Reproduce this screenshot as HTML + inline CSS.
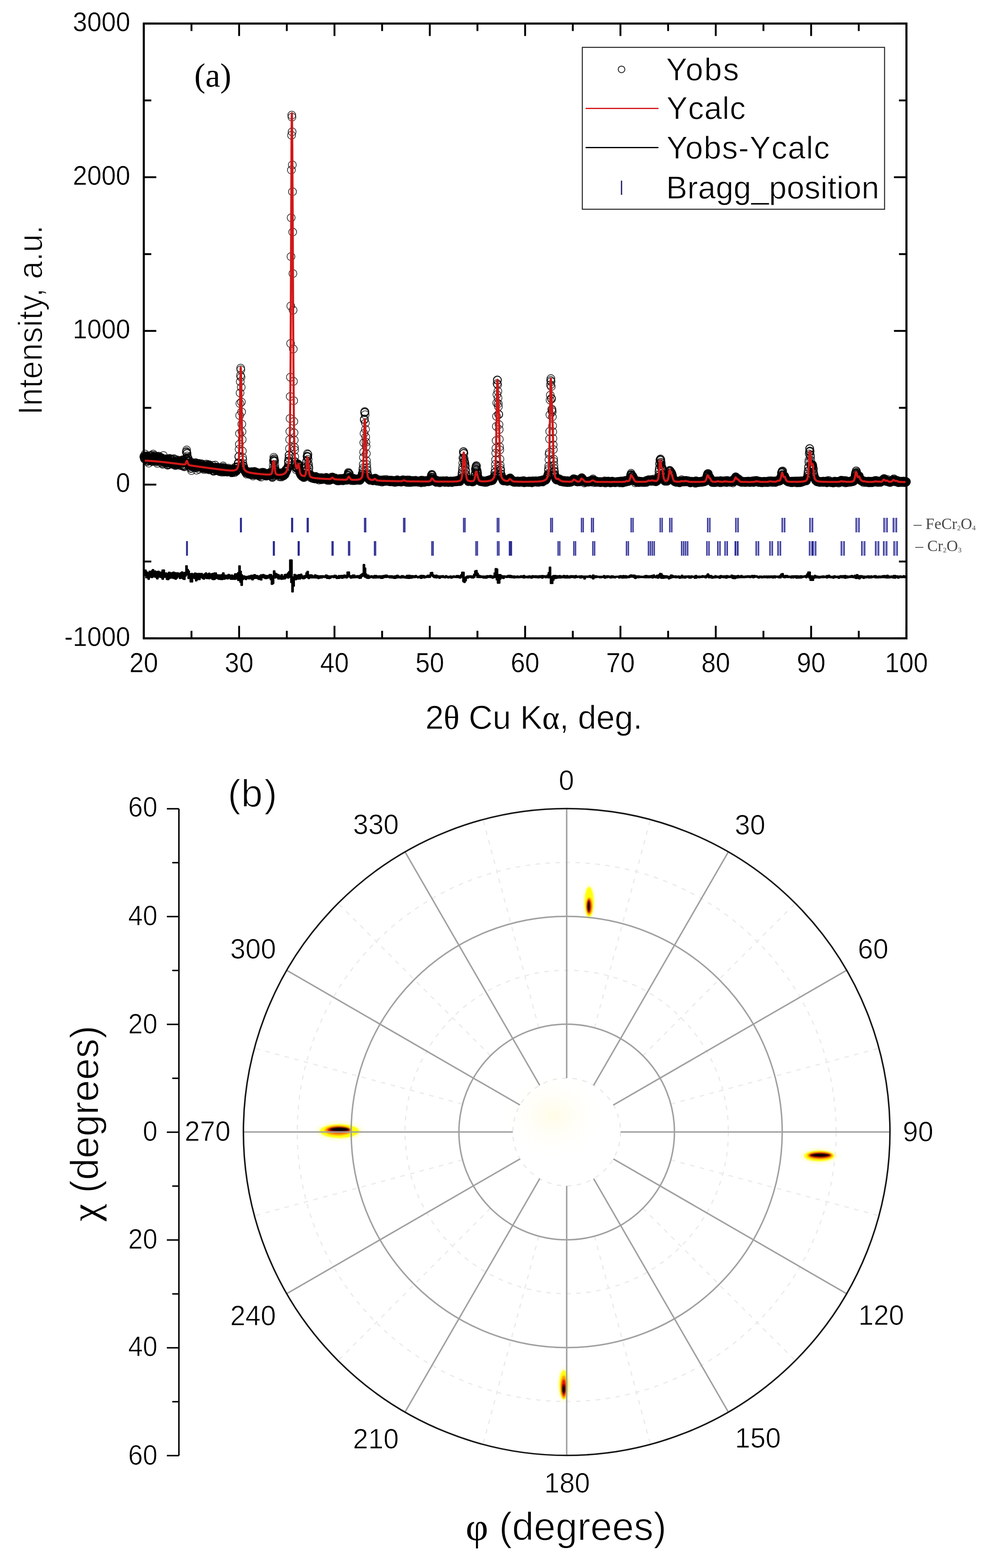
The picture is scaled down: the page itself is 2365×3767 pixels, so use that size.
<!DOCTYPE html>
<html><head><meta charset="utf-8"><title>XRD and pole figure</title>
<style>
html,body{margin:0;padding:0;background:#fff;}
svg{display:block;}
text{font-family:"Liberation Sans",Arial,sans-serif;fill:#000;}
.serif{font-family:"Liberation Serif","Times New Roman",serif;stroke:none;}
.dc{fill:none;stroke:#ebebeb;stroke-width:3;stroke-dasharray:11 13;}
.dl{fill:none;stroke:#ebebeb;stroke-width:3;stroke-dasharray:11 13;}
.sl{fill:none;stroke:#a0a0a0;stroke-width:3.5;}
.sc{fill:none;stroke:#a0a0a0;stroke-width:3.5;}
.e05{stroke:#fff;stroke-width:0.6px;}
.e1{stroke:#fff;stroke-width:1.0px;}
.e15{stroke:#fff;stroke-width:1.6px;}
.e2{stroke:#fff;stroke-width:2px;}
.e25{stroke:#fff;stroke-width:2.6px;}
</style></head>
<body>
<svg width="2365" height="3767" viewBox="0 0 2365 3767">
<defs>
<marker id="mc" viewBox="-12 -12 24 24" markerWidth="24" markerHeight="24" markerUnits="userSpaceOnUse" refX="0" refY="0">
<circle r="9.5" fill="none" stroke="#000" stroke-opacity="0.8" stroke-width="1.8"/>
</marker>
<filter id="bl" x="-50%" y="-50%" width="200%" height="200%"><feGaussianBlur stdDeviation="1.4"/></filter>
<radialGradient id="cen">
<stop offset="0" stop-color="#fffbe0" stop-opacity="0.8"/>
<stop offset="1" stop-color="#ffffff" stop-opacity="0"/>
</radialGradient>
</defs>

<!-- ================= Panel (a) ================= -->
<g id="panelA">
<!-- Bragg ticks -->
<g fill="#a4a4d8"><rect x="576.2" y="1244" width="5.7" height="35"/><rect x="699.1" y="1244" width="6.1" height="35"/><rect x="736.5" y="1244" width="6.2" height="35"/><rect x="874.3" y="1244" width="6.6" height="35"/><rect x="968.2" y="1244" width="6.8" height="35"/><rect x="1112.3" y="1244" width="7.3" height="35"/><rect x="1193.3" y="1244" width="7.5" height="35"/><rect x="1321.7" y="1244" width="7.9" height="35"/><rect x="1395.6" y="1244" width="8.2" height="35"/><rect x="1419.8" y="1244" width="8.3" height="35"/><rect x="1514.9" y="1244" width="8.6" height="35"/><rect x="1584.7" y="1244" width="8.9" height="35"/><rect x="1607.7" y="1244" width="9" height="35"/><rect x="1698.8" y="1244" width="9.4" height="35"/><rect x="1766.4" y="1244" width="9.6" height="35"/><rect x="1877.9" y="1244" width="10.1" height="35"/><rect x="1944.5" y="1244" width="10.5" height="35"/><rect x="2055.7" y="1244" width="11" height="35"/><rect x="2122.7" y="1244" width="11.4" height="35"/><rect x="2145.1" y="1244" width="11.5" height="35"/><rect x="446.7" y="1300" width="5.4" height="35"/><rect x="655.2" y="1300" width="6" height="35"/><rect x="714.8" y="1300" width="6.1" height="35"/><rect x="796.2" y="1300" width="6.3" height="35"/><rect x="835.8" y="1300" width="6.5" height="35"/><rect x="898.1" y="1300" width="6.6" height="35"/><rect x="1036" y="1300" width="7" height="35"/><rect x="1142" y="1300" width="7.4" height="35"/><rect x="1193.7" y="1300" width="7.5" height="35"/><rect x="1222.4" y="1300" width="7.6" height="35"/><rect x="1223.6" y="1300" width="7.6" height="35"/><rect x="1339.4" y="1300" width="8" height="35"/><rect x="1377.2" y="1300" width="8.1" height="35"/><rect x="1422.9" y="1300" width="8.3" height="35"/><rect x="1503.7" y="1300" width="8.6" height="35"/><rect x="1556.5" y="1300" width="8.8" height="35"/><rect x="1565.7" y="1300" width="8.8" height="35"/><rect x="1636.2" y="1300" width="9.1" height="35"/><rect x="1645.7" y="1300" width="9.1" height="35"/><rect x="1696.9" y="1300" width="9.3" height="35"/><rect x="1723.1" y="1300" width="9.5" height="35"/><rect x="1740.5" y="1300" width="9.5" height="35"/><rect x="1765" y="1300" width="9.6" height="35"/><rect x="1766" y="1300" width="9.6" height="35"/><rect x="1815.3" y="1300" width="9.9" height="35"/><rect x="1848.4" y="1300" width="10" height="35"/><rect x="1867.8" y="1300" width="10.1" height="35"/><rect x="1943.6" y="1300" width="10.5" height="35"/><rect x="1952" y="1300" width="10.5" height="35"/><rect x="2020" y="1300" width="10.9" height="35"/><rect x="2069.2" y="1300" width="11.1" height="35"/><rect x="2102.4" y="1300" width="11.3" height="35"/><rect x="2121.8" y="1300" width="11.4" height="35"/><rect x="2146.8" y="1300" width="11.6" height="35"/></g>
<path d="M578.2 1244v35M579.9 1244v35M701.1 1244v35M703.1 1244v35M738.5 1244v35M740.7 1244v35M876.3 1244v35M878.9 1244v35M970.2 1244v35M973 1244v35M1114.3 1244v35M1117.6 1244v35M1195.3 1244v35M1198.8 1244v35M1323.7 1244v35M1327.6 1244v35M1397.6 1244v35M1401.8 1244v35M1421.8 1244v35M1426.1 1244v35M1516.9 1244v35M1521.6 1244v35M1586.7 1244v35M1591.6 1244v35M1609.7 1244v35M1614.7 1244v35M1700.8 1244v35M1706.2 1244v35M1768.4 1244v35M1774 1244v35M1879.9 1244v35M1886 1244v35M1946.5 1244v35M1953 1244v35M2057.7 1244v35M2064.7 1244v35M2124.7 1244v35M2132.1 1244v35M2147.1 1244v35M2154.6 1244v35M448.7 1300v35M450.1 1300v35M657.2 1300v35M659.2 1300v35M716.8 1300v35M718.9 1300v35M798.2 1300v35M800.5 1300v35M837.8 1300v35M840.3 1300v35M900.1 1300v35M902.7 1300v35M1038 1300v35M1041 1300v35M1144 1300v35M1147.4 1300v35M1195.7 1300v35M1199.2 1300v35M1224.4 1300v35M1228 1300v35M1225.6 1300v35M1229.2 1300v35M1341.4 1300v35M1345.4 1300v35M1379.2 1300v35M1383.3 1300v35M1424.9 1300v35M1429.2 1300v35M1505.7 1300v35M1510.3 1300v35M1558.5 1300v35M1563.3 1300v35M1567.7 1300v35M1572.5 1300v35M1638.2 1300v35M1643.3 1300v35M1647.7 1300v35M1652.9 1300v35M1698.9 1300v35M1704.2 1300v35M1725.1 1300v35M1730.6 1300v35M1742.5 1300v35M1748 1300v35M1767 1300v35M1772.7 1300v35M1768 1300v35M1773.6 1300v35M1817.3 1300v35M1823.2 1300v35M1850.4 1300v35M1856.4 1300v35M1869.8 1300v35M1875.9 1300v35M1945.6 1300v35M1952 1300v35M1954 1300v35M1960.5 1300v35M2022 1300v35M2028.8 1300v35M2071.2 1300v35M2078.3 1300v35M2104.4 1300v35M2111.7 1300v35M2123.8 1300v35M2131.2 1300v35M2148.8 1300v35M2156.3 1300v35" fill="none" stroke="#22228a" stroke-width="2.1"/>
<!-- observed -->
<polyline points="345.6,1097.4 346.1,1095.9 346.5,1099 347,1102.3 347.4,1100.1 347.9,1103 348.3,1097.5 348.8,1090.8 349.3,1100.6 349.7,1101.3 350.2,1095.5 350.6,1096.3 351.1,1097.7 351.6,1103.3 352,1098.6 352.5,1094.8 352.9,1105.7 353.4,1101.1 353.8,1108.7 354.3,1105.6 354.8,1108.6 355.2,1100.2 355.7,1105.7 356.1,1097.7 356.6,1098.4 357.1,1100.3 357.5,1112.6 358,1102.3 358.4,1099.8 358.9,1099 359.3,1107.7 359.8,1102.2 360.3,1104.9 360.7,1104.1 361.2,1094.4 361.6,1104.3 362.1,1100.3 362.6,1095.6 363,1103.3 363.5,1101 363.9,1099.9 364.4,1100.2 364.8,1107 365.3,1100.3 365.8,1093.7 366.2,1108.9 366.7,1096.5 367.1,1100.4 367.6,1104.4 368.1,1090.8 368.5,1097.3 369,1107.5 369.4,1101 369.9,1098.5 370.3,1102.5 370.8,1098.1 371.3,1102.1 371.7,1098.4 372.2,1094.5 372.6,1105.5 373.1,1101 373.6,1104.5 374,1101.6 374.5,1108.4 374.9,1105.3 375.4,1103.5 375.8,1097.9 376.3,1096.7 376.8,1109.5 377.2,1106.8 377.7,1099.5 378.1,1113.1 378.6,1105.4 379.1,1103.6 379.5,1096.8 380,1099.7 380.4,1105 380.9,1105.3 381.3,1104.8 381.8,1095.8 382.3,1105.8 382.7,1105.3 383.2,1102 383.6,1104.5 384.1,1105 384.6,1109.7 385,1104.2 385.5,1106.5 385.9,1098.4 386.4,1101.1 386.8,1104.6 387.3,1101.2 387.8,1106.3 388.2,1099.4 388.7,1104.8 389.1,1101.9 389.6,1111.4 390.1,1103.3 390.5,1113.6 391,1115.4 391.4,1106.8 391.9,1109.8 392.3,1104.6 392.8,1094.3 393.3,1109.7 393.7,1108.8 394.2,1104.7 394.6,1103.4 395.1,1106.8 395.5,1107 396,1102.6 396.5,1103.6 396.9,1111.3 397.4,1106.7 397.8,1106.2 398.3,1111.7 398.8,1105.3 399.2,1110.8 399.7,1101.9 400.1,1105.8 400.6,1106.4 401,1109.8 401.5,1107.6 402,1116.9 402.4,1112.7 402.9,1105.5 403.3,1117.7 403.8,1103.3 404.3,1116 404.7,1103.9 405.2,1111.8 405.6,1103.9 406.1,1107.2 406.5,1115.3 407,1101.9 407.5,1101.1 407.9,1108.4 408.4,1109.5 408.8,1109.1 409.3,1113.1 409.8,1103.1 410.2,1111.1 410.7,1108.8 411.1,1112.5 411.6,1111.8 412,1115 412.5,1102.9 413,1109.7 413.4,1104.4 413.9,1109.1 414.3,1112.5 414.8,1110.8 415.3,1112 415.7,1109.4 416.2,1111.3 416.6,1111 417.1,1116.2 417.5,1113.6 418,1102 418.5,1113.1 418.9,1115 419.4,1108.5 419.8,1103.5 420.3,1117.1 420.8,1111.3 421.2,1113.3 421.7,1118.7 422.1,1107.1 422.6,1110.7 423,1110.3 423.5,1114.3 424,1108.7 424.4,1113.4 424.9,1111.6 425.3,1116.2 425.8,1116.8 426.3,1105 426.7,1113.6 427.2,1110 427.6,1111.6 428.1,1113.5 428.5,1113.9 429,1108.7 429.5,1113.1 429.9,1112.4 430.4,1111.7 430.8,1106.5 431.3,1108.8 431.8,1110.3 432.2,1114.7 432.7,1118.5 433.1,1107.9 433.6,1107.9 434,1113 434.5,1109.9 435,1108.9 435.4,1108.7 435.9,1108.4 436.3,1114.7 436.8,1105.8 437.2,1118.3 437.7,1108.8 438.2,1110.5 438.6,1108.8 439.1,1104.3 439.5,1106.1 440,1118 440.5,1120.4 440.9,1109.1 441.4,1117.3 441.8,1112.7 442.3,1108.8 442.7,1119.8 443.2,1121.7 443.7,1110.7 444.1,1111.2 444.6,1111.7 445,1109.2 445.5,1111.5 446,1112 446.4,1102.5 446.9,1102.2 447.3,1100.7 447.8,1086 448.2,1085 448.7,1081 449.2,1088.5 449.6,1089.9 450.1,1095.7 450.5,1099.7 451,1099.1 451.5,1107.4 451.9,1105.3 452.4,1107.8 452.8,1102 453.3,1118.4 453.7,1109.2 454.2,1114.1 454.7,1114.2 455.1,1120.8 455.6,1116.8 456,1111.9 456.5,1115.6 457,1115.1 457.4,1116.9 457.9,1110.8 458.3,1116 458.8,1125.5 459.2,1119.2 459.7,1124.8 460.2,1130.3 460.6,1118.8 461.1,1111 461.5,1116.6 462,1121.9 462.5,1121 462.9,1112.3 463.4,1116.5 463.8,1117.1 464.3,1117.6 464.7,1117.3 465.2,1114.1 465.7,1115.3 466.1,1116.8 466.6,1122.2 467,1115.7 467.5,1120.8 468,1113.5 468.4,1123.4 468.9,1118.8 469.3,1118.3 469.8,1123.9 470.2,1111.3 470.7,1112.5 471.2,1120.5 471.6,1115.5 472.1,1117.2 472.5,1129.6 473,1117.9 473.5,1119.2 473.9,1118.7 474.4,1123.6 474.8,1120.3 475.3,1120 475.7,1114.5 476.2,1118.1 476.7,1119.5 477.1,1113.4 477.6,1121.9 478,1121.3 478.5,1127.2 479,1113.5 479.4,1116.1 479.9,1116.3 480.3,1117.4 480.8,1119.7 481.2,1119.4 481.7,1121.3 482.2,1121.2 482.6,1120.3 483.1,1114.5 483.5,1118.4 484,1120.9 484.4,1123.1 484.9,1123.4 485.4,1114.5 485.8,1119 486.3,1120.8 486.7,1122.5 487.2,1125.6 487.7,1121.5 488.1,1117.9 488.6,1123 489,1122.4 489.5,1122.4 489.9,1121.2 490.4,1127.9 490.9,1122.7 491.3,1125.2 491.8,1118.4 492.2,1125 492.7,1119.8 493.2,1116.2 493.6,1123.4 494.1,1124.6 494.5,1121.6 495,1122.4 495.4,1126.3 495.9,1120.8 496.4,1114.8 496.8,1123.7 497.3,1123.5 497.7,1126.8 498.2,1121.7 498.7,1127.7 499.1,1127.3 499.6,1118.2 500,1126.6 500.5,1119.1 500.9,1117.5 501.4,1122.4 501.9,1121.3 502.3,1116.1 502.8,1124.3 503.2,1125.9 503.7,1128.8 504.2,1123.6 504.6,1118.3 505.1,1120.3 505.5,1127.5 506,1127.2 506.4,1126 506.9,1123.1 507.4,1125 507.8,1123.5 508.3,1123.3 508.7,1125.6 509.2,1124.7 509.7,1123.8 510.1,1125 510.6,1122.8 511,1117.9 511.5,1122.7 511.9,1124.7 512.4,1131.2 512.9,1123.6 513.3,1132.2 513.8,1130.3 514.2,1122.1 514.7,1122.7 515.2,1125.9 515.6,1131.7 516.1,1126.8 516.5,1128 517,1123.3 517.4,1117.5 517.9,1125 518.4,1128.6 518.8,1130.1 519.3,1126.1 519.7,1126.6 520.2,1130.2 520.7,1125.7 521.1,1130.3 521.6,1122.3 522,1122.5 522.5,1122.5 522.9,1128.1 523.4,1124.7 523.9,1127 524.3,1128 524.8,1127.9 525.2,1131.4 525.7,1131.9 526.2,1124.1 526.6,1127.6 527.1,1126.2 527.5,1123.5 528,1133.2 528.4,1129.9 528.9,1126.6 529.4,1125.9 529.8,1128.7 530.3,1123.8 530.7,1126.7 531.2,1131.8 531.6,1130.8 532.1,1124.9 532.6,1126.1 533,1134.4 533.5,1123.2 533.9,1125.8 534.4,1123.3 534.9,1129.3 535.3,1129.1 535.8,1132 536.2,1119.5 536.7,1128.8 537.1,1122.8 537.6,1130.6 538.1,1127.8 538.5,1134.1 539,1129.8 539.4,1125.2 539.9,1132.9 540.4,1125 540.8,1127.6 541.3,1132.3 541.7,1130.5 542.2,1130.4 542.6,1129.1 543.1,1130.8 543.6,1131.8 544,1130.1 544.5,1132.6 544.9,1133.5 545.4,1129.4 545.9,1126.3 546.3,1134.4 546.8,1129.3 547.2,1131.6 547.7,1132.7 548.1,1126.6 548.6,1131.2 549.1,1124.6 549.5,1132.2 550,1128.3 550.4,1130.4 550.9,1132.2 551.4,1127.8 551.8,1130.3 552.3,1127.8 552.7,1130 553.2,1133.4 553.6,1130.2 554.1,1129.7 554.6,1126.8 555,1132.9 555.5,1130.1 555.9,1135.6 556.4,1127.8 556.9,1133.5 557.3,1135.9 557.8,1130.2 558.2,1126.4 558.7,1134.9 559.1,1133.5 559.6,1132.4 560.1,1133.6 560.5,1128.6 561,1132.5 561.4,1132.1 561.9,1127.8 562.4,1132.1 562.8,1128.2 563.3,1132.7 563.7,1133.3 564.2,1135.3 564.6,1123 565.1,1130 565.6,1128 566,1128.7 566.5,1127.8 566.9,1127.9 567.4,1121.4 567.9,1130.9 568.3,1132.2 568.8,1129.9 569.2,1130.4 569.7,1122.7 570.1,1121.6 570.6,1126.9 571.1,1127.3 571.5,1122.2 572,1114.1 572.4,1127.1 572.9,1111.3 573.4,1112.7 573.8,1097.2 574.3,1096.5 574.7,1079.4 575.2,1067.5 575.6,1041.5 576.1,998.2 576.6,969.3 577,944 577.5,916.8 577.9,902.1 578.4,884.4 578.8,888.4 579.3,906 579.8,930.3 580.2,965.8 580.7,989.6 581.1,1018.9 581.6,1036.8 582.1,1055.8 582.5,1083.5 583,1098.8 583.4,1104.7 583.9,1113.4 584.3,1118.4 584.8,1119.1 585.3,1125 585.7,1121 586.2,1124.9 586.6,1124.9 587.1,1127.4 587.6,1130 588,1131.4 588.5,1129.8 588.9,1131.3 589.4,1129.4 589.8,1130.6 590.3,1135.2 590.8,1131.1 591.2,1135.8 591.7,1133.9 592.1,1133.2 592.6,1138.8 593.1,1132.5 593.5,1132.5 594,1133.7 594.4,1134.7 594.9,1134.7 595.3,1136.7 595.8,1134.7 596.3,1135.7 596.7,1134 597.2,1137.9 597.6,1133.8 598.1,1134.2 598.6,1135.2 599,1136.1 599.5,1133.4 599.9,1139.9 600.4,1133.9 600.8,1134.6 601.3,1134.6 601.8,1134.4 602.2,1137.4 602.7,1136.4 603.1,1134 603.6,1134.6 604.1,1135.3 604.5,1140.3 605,1134.6 605.4,1132.9 605.9,1133.4 606.3,1135.7 606.8,1140.7 607.3,1133.8 607.7,1136.9 608.2,1143.6 608.6,1135.6 609.1,1140.9 609.6,1140.4 610,1138.6 610.5,1133.4 610.9,1138 611.4,1136.3 611.8,1132.3 612.3,1132.8 612.8,1137.5 613.2,1138 613.7,1140.8 614.1,1139.3 614.6,1136.3 615.1,1136.5 615.5,1137.3 616,1135 616.4,1139.8 616.9,1137.9 617.3,1135.8 617.8,1136.3 618.3,1135 618.7,1136.9 619.2,1138.9 619.6,1137.1 620.1,1140.8 620.5,1142.6 621,1136.7 621.5,1138.4 621.9,1137.5 622.4,1142.9 622.8,1139.4 623.3,1140.1 623.8,1140.8 624.2,1144.5 624.7,1139.5 625.1,1136.3 625.6,1137.7 626,1140.3 626.5,1138.8 627,1136.9 627.4,1146.1 627.9,1139.3 628.3,1137.6 628.8,1137.2 629.3,1134.6 629.7,1136.2 630.2,1138.3 630.6,1138.4 631.1,1137.2 631.5,1140.7 632,1139.4 632.5,1137 632.9,1134.4 633.4,1139.8 633.8,1139.6 634.3,1139 634.8,1136.1 635.2,1139.7 635.7,1135.9 636.1,1142.1 636.6,1140.2 637,1140.2 637.5,1137.8 638,1137.1 638.4,1143.6 638.9,1142.2 639.3,1139 639.8,1141.6 640.3,1143.8 640.7,1137.3 641.2,1138.7 641.6,1138.8 642.1,1141.2 642.5,1137.5 643,1140.7 643.5,1137.3 643.9,1142.4 644.4,1142.3 644.8,1139.6 645.3,1141.9 645.8,1138.5 646.2,1139.5 646.7,1142.5 647.1,1140 647.6,1141.1 648,1137.9 648.5,1141.8 649,1141.3 649.4,1137.1 649.9,1134.5 650.3,1135.2 650.8,1140.1 651.3,1139.9 651.7,1136.8 652.2,1141.4 652.6,1144.1 653.1,1141.9 653.5,1141.5 654,1145.3 654.5,1147.4 654.9,1145.6 655.4,1135.9 655.8,1135.4 656.3,1126.1 656.8,1116.8 657.2,1107.6 657.7,1105.3 658.1,1098.6 658.6,1102.7 659,1102.3 659.5,1108.5 660,1106.6 660.4,1116.3 660.9,1123.9 661.3,1127.4 661.8,1130.8 662.3,1131.2 662.7,1139.4 663.2,1139.4 663.6,1138.7 664.1,1132.1 664.5,1136.6 665,1139.6 665.5,1137.8 665.9,1134.7 666.4,1140.5 666.8,1141 667.3,1137.3 667.7,1139.1 668.2,1138.8 668.7,1141.7 669.1,1135.8 669.6,1136.4 670,1139.2 670.5,1138.9 671,1145.5 671.4,1139.1 671.9,1141.1 672.3,1139.5 672.8,1138.9 673.2,1141.4 673.7,1144.6 674.2,1139.6 674.6,1142.2 675.1,1141.2 675.5,1141.8 676,1141.1 676.5,1145.8 676.9,1137.1 677.4,1139.4 677.8,1137.2 678.3,1134.9 678.7,1139.6 679.2,1143.9 679.7,1141.6 680.1,1142.2 680.6,1140.3 681,1138.6 681.5,1143.6 682,1137.5 682.4,1141.9 682.9,1137.1 683.3,1137.9 683.8,1138.1 684.2,1137.1 684.7,1137.9 685.2,1137.7 685.6,1140.1 686.1,1135.3 686.5,1129.8 687,1128.7 687.5,1129.8 687.9,1130.7 688.4,1133.7 688.8,1126.9 689.3,1130.1 689.7,1129 690.2,1128.4 690.7,1125.8 691.1,1125.8 691.6,1122.8 692,1123.9 692.5,1119.2 693,1107.4 693.4,1111.9 693.9,1108.5 694.3,1100.6 694.8,1093.5 695.2,1092.5 695.7,1077.4 696.2,1056.2 696.6,1036.5 697.1,1005.3 697.5,952.6 698,906.1 698.5,825.1 698.9,735.2 699.4,616.3 699.8,523.1 700.3,408.5 700.7,324.9 701.2,276.6 701.7,281.4 702.1,316.7 702.6,396.2 703,460.7 703.5,557.5 704,657.2 704.4,745.1 704.9,838.5 705.3,916.1 705.8,962.7 706.2,1012.5 706.7,1039.5 707.2,1057.4 707.6,1074.5 708.1,1081.2 708.5,1097.4 709,1108.9 709.5,1110.9 709.9,1115.4 710.4,1119.6 710.8,1116.9 711.3,1122.6 711.7,1128.5 712.2,1121.7 712.7,1125.2 713.1,1124.4 713.6,1125.2 714,1123 714.5,1123.7 714.9,1118.3 715.4,1118.7 715.9,1116.5 716.3,1114.5 716.8,1119.6 717.2,1115.3 717.7,1116.7 718.2,1116.9 718.6,1124.2 719.1,1117.5 719.5,1125.1 720,1131.8 720.4,1135.8 720.9,1134.3 721.4,1135.8 721.8,1138.9 722.3,1138.1 722.7,1140.9 723.2,1138.8 723.7,1142.3 724.1,1141.2 724.6,1139.2 725,1136 725.5,1144.3 725.9,1143.3 726.4,1144.3 726.9,1140.9 727.3,1145.3 727.8,1144 728.2,1143.1 728.7,1145.2 729.2,1145.2 729.6,1144.2 730.1,1147.7 730.5,1146.3 731,1144 731.4,1142.6 731.9,1143.2 732.4,1146.4 732.8,1143.2 733.3,1139.8 733.7,1139.5 734.2,1139.7 734.7,1139.8 735.1,1133.5 735.6,1133 736,1130.1 736.5,1123.4 736.9,1109.7 737.4,1106.5 737.9,1096.5 738.3,1097.5 738.8,1090 739.2,1096.4 739.7,1097.5 740.2,1092 740.6,1103.3 741.1,1113.3 741.5,1117.9 742,1122.5 742.4,1125.2 742.9,1134.2 743.4,1140.6 743.8,1139.6 744.3,1140.9 744.7,1142.2 745.2,1140.7 745.7,1143.6 746.1,1143.1 746.6,1147.5 747,1143.9 747.5,1141.7 747.9,1144.7 748.4,1145.9 748.9,1146.3 749.3,1143.3 749.8,1148.8 750.2,1147.3 750.7,1146.4 751.2,1145.9 751.6,1148.3 752.1,1147 752.5,1148.2 753,1147.6 753.4,1148.1 753.9,1150.1 754.4,1148.1 754.8,1146.5 755.3,1150 755.7,1148.7 756.2,1147.1 756.7,1150.4 757.1,1148.1 757.6,1150.5 758,1146.5 758.5,1144.4 758.9,1144.9 759.4,1149.1 759.9,1147.4 760.3,1148.6 760.8,1148.7 761.2,1146.1 761.7,1151.4 762.1,1147.1 762.6,1149.2 763.1,1146.6 763.5,1148.8 764,1150.4 764.4,1148.7 764.9,1148 765.4,1149.3 765.8,1148.5 766.3,1150.3 766.7,1153.3 767.2,1147.9 767.6,1148.3 768.1,1149.3 768.6,1149.5 769,1147.8 769.5,1150.5 769.9,1150.9 770.4,1150.1 770.9,1147.6 771.3,1152.2 771.8,1147.7 772.2,1151 772.7,1151.8 773.1,1147.7 773.6,1150.1 774.1,1152.3 774.5,1150.6 775,1148.4 775.4,1148 775.9,1150.8 776.4,1149.4 776.8,1148.9 777.3,1151.3 777.7,1149.6 778.2,1150.3 778.6,1151.2 779.1,1151.2 779.6,1150.2 780,1150.3 780.5,1151.4 780.9,1151.1 781.4,1148.5 781.9,1150.1 782.3,1149 782.8,1148.4 783.2,1149.5 783.7,1146.7 784.1,1152 784.6,1149.2 785.1,1151.2 785.5,1147.5 786,1147.8 786.4,1154 786.9,1152.4 787.4,1149.6 787.8,1149.4 788.3,1149.5 788.7,1150.9 789.2,1150 789.6,1149.7 790.1,1151 790.6,1149.1 791,1154.7 791.5,1149.8 791.9,1152.6 792.4,1149.2 792.9,1151.2 793.3,1152.3 793.8,1150.1 794.2,1152.1 794.7,1152 795.1,1152.9 795.6,1149.9 796.1,1148.6 796.5,1147.2 797,1148.8 797.4,1146.2 797.9,1147.8 798.4,1147.8 798.8,1146.6 799.3,1145.8 799.7,1148.7 800.2,1148.8 800.6,1149 801.1,1149 801.6,1151.1 802,1148.2 802.5,1151 802.9,1149.8 803.4,1152.2 803.8,1150.4 804.3,1150.5 804.8,1152 805.2,1148.1 805.7,1150.8 806.1,1148.6 806.6,1150 807.1,1152.7 807.5,1152.2 808,1151 808.4,1151.6 808.9,1151.6 809.3,1152.2 809.8,1154.7 810.3,1152.2 810.7,1155.4 811.2,1151.2 811.6,1153 812.1,1153 812.6,1152.3 813,1151.5 813.5,1154.2 813.9,1154.8 814.4,1153.7 814.8,1155.3 815.3,1153.6 815.8,1149.5 816.2,1153.7 816.7,1151 817.1,1154.3 817.6,1151.6 818.1,1152.6 818.5,1152.2 819,1151.2 819.4,1149.4 819.9,1151.8 820.3,1152 820.8,1153.7 821.3,1151.3 821.7,1152.6 822.2,1150.9 822.6,1152.3 823.1,1149.5 823.6,1155.3 824,1152.7 824.5,1150.8 824.9,1152.8 825.4,1153.5 825.8,1152.6 826.3,1154.4 826.8,1152 827.2,1148.4 827.7,1150.4 828.1,1153.9 828.6,1153.5 829.1,1152.7 829.5,1150.5 830,1153.3 830.4,1153 830.9,1150.5 831.3,1150.4 831.8,1152.2 832.3,1153.2 832.7,1153.6 833.2,1151.9 833.6,1153.8 834.1,1148.3 834.6,1149.5 835,1146.2 835.5,1142.1 835.9,1141.2 836.4,1143.1 836.8,1137.2 837.3,1134.9 837.8,1137.7 838.2,1138.3 838.7,1137.6 839.1,1142.1 839.6,1138 840.1,1147 840.5,1146.3 841,1146.4 841.4,1147.7 841.9,1148.2 842.3,1149 842.8,1150.6 843.3,1149 843.7,1154.6 844.2,1151.6 844.6,1152.9 845.1,1151.8 845.6,1151.8 846,1153.6 846.5,1153.3 846.9,1151.2 847.4,1151.9 847.8,1153.5 848.3,1149.4 848.8,1149 849.2,1154.8 849.7,1152.1 850.1,1148.8 850.6,1151.4 851,1152.3 851.5,1153 852,1153.5 852.4,1153 852.9,1153.5 853.3,1151.5 853.8,1153.2 854.3,1153.3 854.7,1154.4 855.2,1152.7 855.6,1153.9 856.1,1152.8 856.5,1150.9 857,1151.9 857.5,1151.7 857.9,1151.8 858.4,1152.3 858.8,1152.5 859.3,1152.7 859.8,1151 860.2,1153.8 860.7,1149.9 861.1,1151.9 861.6,1153 862,1152.5 862.5,1152.7 863,1151.2 863.4,1152.5 863.9,1149.3 864.3,1152.2 864.8,1154.4 865.3,1151.7 865.7,1153.6 866.2,1150 866.6,1147.8 867.1,1148.1 867.5,1151.1 868,1149.6 868.5,1144.5 868.9,1146.3 869.4,1146 869.8,1142.9 870.3,1138.7 870.8,1138.9 871.2,1138.6 871.7,1134.4 872.1,1128.4 872.6,1124.1 873,1115.5 873.5,1099 874,1086.2 874.4,1063.5 874.9,1041.4 875.3,1009 875.8,1006.7 876.3,991.4 876.7,988.7 877.2,990.2 877.6,996.4 878.1,1016.3 878.5,1031.3 879,1049.8 879.5,1062.4 879.9,1072.6 880.4,1089.9 880.8,1106.8 881.3,1115.7 881.8,1123.3 882.2,1129 882.7,1136.7 883.1,1139.7 883.6,1145.6 884,1146.2 884.5,1142.5 885,1150.6 885.4,1148.2 885.9,1147.9 886.3,1149.6 886.8,1150.8 887.3,1150 887.7,1150.3 888.2,1150.8 888.6,1154 889.1,1151.5 889.5,1152.8 890,1152.6 890.5,1151.6 890.9,1151.1 891.4,1150.9 891.8,1153.2 892.3,1151.1 892.8,1150.9 893.2,1151.1 893.7,1150.8 894.1,1153.1 894.6,1153.2 895,1151.8 895.5,1155 896,1152.6 896.4,1153.6 896.9,1153.2 897.3,1155.1 897.8,1153.5 898.2,1151.8 898.7,1149.9 899.2,1149.3 899.6,1150.7 900.1,1150.7 900.5,1151.7 901,1149.8 901.5,1151.1 901.9,1150 902.4,1148.5 902.8,1151.7 903.3,1154.3 903.7,1153.8 904.2,1155 904.7,1155 905.1,1151.6 905.6,1153.4 906,1156.1 906.5,1153.2 907,1152.4 907.4,1154.8 907.9,1155.3 908.3,1154.9 908.8,1154.1 909.2,1153.7 909.7,1153 910.2,1153 910.6,1153 911.1,1152.8 911.5,1153.8 912,1156.8 912.5,1155 912.9,1154.4 913.4,1155.4 913.8,1153.6 914.3,1155.4 914.7,1156.2 915.2,1153 915.7,1154 916.1,1154.7 916.6,1153.7 917,1153.6 917.5,1154.6 918,1158.3 918.4,1156 918.9,1155.7 919.3,1156.4 919.8,1154.8 920.2,1153.5 920.7,1155.8 921.2,1156.7 921.6,1152.5 922.1,1155.8 922.5,1156.8 923,1154.9 923.5,1154.7 923.9,1156.2 924.4,1154.2 924.8,1155.9 925.3,1156.5 925.7,1155.1 926.2,1154.3 926.7,1156.2 927.1,1154.9 927.6,1155.5 928,1151.6 928.5,1156.3 929,1153.6 929.4,1155.5 929.9,1155.6 930.3,1154.5 930.8,1154.3 931.2,1153.8 931.7,1155 932.2,1156.3 932.6,1156.2 933.1,1154.8 933.5,1154.7 934,1153.7 934.5,1155 934.9,1154.2 935.4,1153.6 935.8,1155.3 936.3,1157.5 936.7,1157.1 937.2,1157.5 937.7,1153.5 938.1,1156.7 938.6,1154 939,1154.9 939.5,1153.4 940,1154.3 940.4,1155.8 940.9,1155.9 941.3,1155.6 941.8,1155.5 942.2,1156.4 942.7,1155.7 943.2,1153.6 943.6,1157.9 944.1,1155.4 944.5,1156.9 945,1155.5 945.4,1154.7 945.9,1155.8 946.4,1154.8 946.8,1157.8 947.3,1154.4 947.7,1156.6 948.2,1155 948.7,1155.6 949.1,1159.1 949.6,1156.8 950,1155.6 950.5,1153.9 950.9,1155.5 951.4,1155.5 951.9,1157.7 952.3,1154.1 952.8,1153.6 953.2,1155.9 953.7,1156.2 954.2,1158 954.6,1154.8 955.1,1152.5 955.5,1155 956,1154.3 956.4,1155.3 956.9,1157.2 957.4,1154.3 957.8,1157.5 958.3,1156.2 958.7,1155.6 959.2,1154.9 959.7,1155.4 960.1,1155.5 960.6,1156.9 961,1157.6 961.5,1155.9 961.9,1156.9 962.4,1157.6 962.9,1157.6 963.3,1156.6 963.8,1158.3 964.2,1157.7 964.7,1158 965.2,1155.7 965.6,1155.3 966.1,1153.2 966.5,1157.6 967,1156.4 967.4,1154.2 967.9,1155.4 968.4,1155.3 968.8,1152.3 969.3,1154.8 969.7,1155.7 970.2,1155.8 970.7,1153.5 971.1,1153.6 971.6,1156 972,1155.6 972.5,1153.7 972.9,1153.8 973.4,1155.7 973.9,1154.2 974.3,1154.5 974.8,1157.8 975.2,1156 975.7,1155.2 976.2,1156.6 976.6,1158.7 977.1,1156.4 977.5,1155.1 978,1154.2 978.4,1158.9 978.9,1152.9 979.4,1157.6 979.8,1155 980.3,1154.7 980.7,1155 981.2,1156.1 981.7,1157.7 982.1,1155.5 982.6,1157.2 983,1159.4 983.5,1152.8 983.9,1155.5 984.4,1154.1 984.9,1157.5 985.3,1154.5 985.8,1154.4 986.2,1154.5 986.7,1156.4 987.1,1157.9 987.6,1156.6 988.1,1159.1 988.5,1158.5 989,1156.3 989.4,1157.6 989.9,1156.6 990.4,1156.6 990.8,1154.1 991.3,1154.9 991.7,1156.5 992.2,1155 992.6,1157.4 993.1,1156.9 993.6,1155.4 994,1158 994.5,1156.8 994.9,1158.1 995.4,1156.4 995.9,1154.5 996.3,1157.4 996.8,1156.2 997.2,1157.6 997.7,1157.9 998.1,1158 998.6,1154.8 999.1,1153.7 999.5,1156 1000,1157.4 1000.4,1155.7 1000.9,1157 1001.4,1155.6 1001.8,1156.2 1002.3,1156.2 1002.7,1155.8 1003.2,1157.3 1003.6,1157.1 1004.1,1158.7 1004.6,1157.1 1005,1158.3 1005.5,1156.8 1005.9,1157.8 1006.4,1156.5 1006.9,1156.1 1007.3,1158.3 1007.8,1157.6 1008.2,1157.8 1008.7,1155.7 1009.1,1154.6 1009.6,1155.6 1010.1,1157.1 1010.5,1154.9 1011,1158.5 1011.4,1154.8 1011.9,1157.4 1012.4,1160 1012.8,1153.4 1013.3,1154.7 1013.7,1157.9 1014.2,1156.5 1014.6,1156.9 1015.1,1156.5 1015.6,1158.4 1016,1157.5 1016.5,1156.1 1016.9,1156.4 1017.4,1155.2 1017.9,1156.6 1018.3,1153.8 1018.8,1157.5 1019.2,1156.3 1019.7,1159 1020.1,1158.2 1020.6,1155.1 1021.1,1157.8 1021.5,1156 1022,1156.7 1022.4,1157.9 1022.9,1157 1023.4,1157.2 1023.8,1157.2 1024.3,1155.7 1024.7,1155.8 1025.2,1157.3 1025.6,1157.7 1026.1,1156.2 1026.6,1156.7 1027,1155.3 1027.5,1153.3 1027.9,1155.4 1028.4,1156.5 1028.9,1156.6 1029.3,1157.4 1029.8,1157.4 1030.2,1157.5 1030.7,1156.7 1031.1,1156.6 1031.6,1155.1 1032.1,1156.3 1032.5,1155.9 1033,1156.9 1033.4,1152.9 1033.9,1153.7 1034.3,1151.2 1034.8,1151.5 1035.3,1149.2 1035.7,1150 1036.2,1146.8 1036.6,1141.8 1037.1,1146.1 1037.6,1140.9 1038,1139.3 1038.5,1141.6 1038.9,1141.9 1039.4,1142.4 1039.8,1146.9 1040.3,1146.6 1040.8,1149.9 1041.2,1150.8 1041.7,1151.9 1042.1,1152.2 1042.6,1152.8 1043.1,1153.2 1043.5,1156.3 1044,1152.3 1044.4,1153.8 1044.9,1154.7 1045.3,1156.3 1045.8,1156.2 1046.3,1155.5 1046.7,1155.8 1047.2,1158.5 1047.6,1155.5 1048.1,1152.9 1048.6,1158.8 1049,1155.4 1049.5,1156.2 1049.9,1156.8 1050.4,1155 1050.8,1158.2 1051.3,1156.5 1051.8,1155 1052.2,1157 1052.7,1157.3 1053.1,1156.7 1053.6,1157.4 1054.1,1154.9 1054.5,1157.9 1055,1155.8 1055.4,1158.4 1055.9,1156.1 1056.3,1157 1056.8,1160 1057.3,1156.9 1057.7,1158.2 1058.2,1157.5 1058.6,1155.1 1059.1,1158.3 1059.6,1158.2 1060,1155.2 1060.5,1156.8 1060.9,1155.1 1061.4,1156.6 1061.8,1158 1062.3,1157 1062.8,1155.5 1063.2,1155.8 1063.7,1157 1064.1,1156.9 1064.6,1157.1 1065.1,1157.7 1065.5,1154.7 1066,1157 1066.4,1158.4 1066.9,1157.6 1067.3,1156.1 1067.8,1156.2 1068.3,1157.2 1068.7,1157.8 1069.2,1157 1069.6,1159 1070.1,1158.6 1070.6,1156 1071,1157.6 1071.5,1156.6 1071.9,1155.5 1072.4,1156.2 1072.8,1157 1073.3,1154.4 1073.8,1156.2 1074.2,1157.4 1074.7,1156.1 1075.1,1156.5 1075.6,1158 1076.1,1156.9 1076.5,1157.2 1077,1159.4 1077.4,1157.2 1077.9,1157.3 1078.3,1157.5 1078.8,1159 1079.3,1157.4 1079.7,1157 1080.2,1156.9 1080.6,1158.4 1081.1,1156.2 1081.5,1158.4 1082,1157.2 1082.5,1155.4 1082.9,1157.8 1083.4,1157.6 1083.8,1155.7 1084.3,1157.4 1084.8,1157.3 1085.2,1156.7 1085.7,1155.7 1086.1,1159.6 1086.6,1157.9 1087,1158.1 1087.5,1158.2 1088,1157.9 1088.4,1157.9 1088.9,1156.5 1089.3,1157.9 1089.8,1156.7 1090.3,1156.3 1090.7,1157.7 1091.2,1156.6 1091.6,1154.8 1092.1,1156.4 1092.5,1157.5 1093,1156.8 1093.5,1157.8 1093.9,1156.4 1094.4,1155.6 1094.8,1157.6 1095.3,1156.9 1095.8,1155.2 1096.2,1157.2 1096.7,1156.3 1097.1,1157.7 1097.6,1157.4 1098,1157 1098.5,1153.7 1099,1156.8 1099.4,1156.9 1099.9,1156.9 1100.3,1156.3 1100.8,1155.2 1101.3,1155.7 1101.7,1153.3 1102.2,1155.5 1102.6,1153.8 1103.1,1155.1 1103.5,1154.6 1104,1157.1 1104.5,1155.2 1104.9,1154.9 1105.4,1154.9 1105.8,1157.1 1106.3,1152.7 1106.8,1154 1107.2,1153.6 1107.7,1152.7 1108.1,1151.7 1108.6,1149.5 1109,1150.5 1109.5,1147.7 1110,1142.5 1110.4,1138.7 1110.9,1134.6 1111.3,1128.8 1111.8,1122.3 1112.3,1112.3 1112.7,1100.5 1113.2,1100.2 1113.6,1085.7 1114.1,1084.9 1114.5,1089.9 1115,1088.6 1115.5,1101.6 1115.9,1107.5 1116.4,1110.1 1116.8,1110.7 1117.3,1113.7 1117.8,1118 1118.2,1120.6 1118.7,1131.7 1119.1,1129.7 1119.6,1138.9 1120,1141.2 1120.5,1144.1 1121,1148.3 1121.4,1150.7 1121.9,1151.7 1122.3,1151.4 1122.8,1151.4 1123.3,1152.2 1123.7,1154.9 1124.2,1155 1124.6,1155.5 1125.1,1153.9 1125.5,1157.4 1126,1153.2 1126.5,1155.7 1126.9,1156.2 1127.4,1154.8 1127.8,1154.1 1128.3,1155 1128.7,1154.2 1129.2,1155.4 1129.7,1154.1 1130.1,1154.1 1130.6,1155.8 1131,1153.9 1131.5,1155.5 1132,1155.6 1132.4,1156.9 1132.9,1156.1 1133.3,1154.7 1133.8,1157.3 1134.2,1154.8 1134.7,1155.1 1135.2,1155.1 1135.6,1158.1 1136.1,1155.3 1136.5,1154.2 1137,1155.8 1137.5,1154.5 1137.9,1157.4 1138.4,1152.9 1138.8,1154 1139.3,1151 1139.7,1153.6 1140.2,1148.2 1140.7,1147.4 1141.1,1142.7 1141.6,1142.2 1142,1137.5 1142.5,1127.2 1143,1129.1 1143.4,1125 1143.9,1121.5 1144.3,1122.6 1144.8,1118.6 1145.2,1119.8 1145.7,1128.3 1146.2,1133.5 1146.6,1129.9 1147.1,1132.8 1147.5,1136 1148,1138.1 1148.5,1144.6 1148.9,1145.7 1149.4,1149.8 1149.8,1151.6 1150.3,1149.4 1150.7,1153.1 1151.2,1149.9 1151.7,1153.7 1152.1,1155.2 1152.6,1153.7 1153,1152.7 1153.5,1154.6 1154,1157 1154.4,1155.1 1154.9,1154 1155.3,1156.4 1155.8,1156.9 1156.2,1154.7 1156.7,1155.9 1157.2,1157.4 1157.6,1156.6 1158.1,1157.1 1158.5,1155.9 1159,1156.1 1159.5,1154.9 1159.9,1155.4 1160.4,1158.2 1160.8,1155.8 1161.3,1155.2 1161.7,1155.8 1162.2,1155.1 1162.7,1157 1163.1,1157.5 1163.6,1155.2 1164,1157.6 1164.5,1158.9 1165,1155.1 1165.4,1157.2 1165.9,1156.7 1166.3,1158 1166.8,1157.9 1167.2,1157.7 1167.7,1156.7 1168.2,1155.7 1168.6,1159 1169.1,1155.2 1169.5,1157.6 1170,1157.4 1170.4,1155.2 1170.9,1156.1 1171.4,1157.9 1171.8,1153.6 1172.3,1156.9 1172.7,1155.5 1173.2,1155.5 1173.7,1153.9 1174.1,1156.2 1174.6,1154.2 1175,1156.4 1175.5,1153.9 1175.9,1156.2 1176.4,1155.6 1176.9,1152.6 1177.3,1154.5 1177.8,1154.7 1178.2,1151.7 1178.7,1154.1 1179.2,1155.5 1179.6,1153.2 1180.1,1155.6 1180.5,1152.3 1181,1151.9 1181.4,1154.2 1181.9,1154 1182.4,1152.5 1182.8,1152.4 1183.3,1153.5 1183.7,1150.8 1184.2,1154.3 1184.7,1151.4 1185.1,1150.8 1185.6,1149.9 1186,1148.2 1186.5,1149.9 1186.9,1145.8 1187.4,1145.9 1187.9,1145.3 1188.3,1144.9 1188.8,1142.2 1189.2,1135.9 1189.7,1134.5 1190.2,1126.2 1190.6,1115.5 1191.1,1104.6 1191.5,1088.4 1192,1076.8 1192.4,1058.5 1192.9,1024.3 1193.4,1000.1 1193.8,968.1 1194.3,947.9 1194.7,921.7 1195.2,912.6 1195.7,913.6 1196.1,924.5 1196.6,939.9 1197,956.2 1197.5,969.7 1197.9,977 1198.4,995.2 1198.9,995.8 1199.3,1020 1199.8,1031.9 1200.2,1055.3 1200.7,1073.4 1201.2,1080.8 1201.6,1103 1202.1,1117.2 1202.5,1124.3 1203,1130.2 1203.4,1129.7 1203.9,1138.2 1204.4,1139.7 1204.8,1145.7 1205.3,1144.8 1205.7,1145.6 1206.2,1144.8 1206.7,1150 1207.1,1148.6 1207.6,1149.7 1208,1152.4 1208.5,1151.4 1208.9,1152.2 1209.4,1155.7 1209.9,1151.7 1210.3,1152.1 1210.8,1153.8 1211.2,1155.3 1211.7,1151.6 1212.2,1153.5 1212.6,1152.7 1213.1,1152.4 1213.5,1155.1 1214,1153.5 1214.4,1155 1214.9,1154.9 1215.4,1155.1 1215.8,1155.1 1216.3,1153.7 1216.7,1155.1 1217.2,1155.5 1217.6,1155.7 1218.1,1155 1218.6,1156.6 1219,1156.1 1219.5,1155.5 1219.9,1156 1220.4,1155.3 1220.9,1155.8 1221.3,1152.1 1221.8,1152.6 1222.2,1153.3 1222.7,1153.4 1223.1,1149.6 1223.6,1151.6 1224.1,1151.7 1224.5,1150.7 1225,1150.4 1225.4,1148.7 1225.9,1151 1226.4,1148 1226.8,1152.9 1227.3,1150.9 1227.7,1153.7 1228.2,1150 1228.6,1153.5 1229.1,1153.5 1229.6,1152.6 1230,1152.6 1230.5,1156.2 1230.9,1155.6 1231.4,1157.3 1231.9,1155.6 1232.3,1156.2 1232.8,1156.7 1233.2,1157.3 1233.7,1157 1234.1,1157.5 1234.6,1156.1 1235.1,1155 1235.5,1159.1 1236,1157 1236.4,1157.4 1236.9,1156.4 1237.4,1158.1 1237.8,1157.2 1238.3,1158.2 1238.7,1156.2 1239.2,1156.9 1239.6,1157.3 1240.1,1156.7 1240.6,1157.4 1241,1158.9 1241.5,1156.4 1241.9,1156.8 1242.4,1157.3 1242.9,1156 1243.3,1155.8 1243.8,1158.5 1244.2,1158.1 1244.7,1155.4 1245.1,1155.6 1245.6,1158.1 1246.1,1158.6 1246.5,1158 1247,1157.8 1247.4,1159.1 1247.9,1157.2 1248.4,1158.8 1248.8,1158.7 1249.3,1156.2 1249.7,1158.1 1250.2,1157.4 1250.6,1156.6 1251.1,1156.4 1251.6,1157.7 1252,1157.3 1252.5,1158.3 1252.9,1155.3 1253.4,1156.6 1253.9,1158.6 1254.3,1157.3 1254.8,1156.5 1255.2,1156.8 1255.7,1155.3 1256.1,1155.8 1256.6,1158 1257.1,1157.5 1257.5,1158.8 1258,1157.1 1258.4,1157.2 1258.9,1154.3 1259.4,1157.3 1259.8,1159.8 1260.3,1158.1 1260.7,1157.2 1261.2,1158.8 1261.6,1158.4 1262.1,1157.8 1262.6,1157 1263,1157.6 1263.5,1158.4 1263.9,1156.5 1264.4,1158 1264.8,1157.9 1265.3,1158.9 1265.8,1158.3 1266.2,1156.6 1266.7,1159.2 1267.1,1157.5 1267.6,1156.6 1268.1,1157.8 1268.5,1157.1 1269,1158.6 1269.4,1155.9 1269.9,1156.1 1270.3,1157.1 1270.8,1159.4 1271.3,1158.5 1271.7,1156.2 1272.2,1155.4 1272.6,1157 1273.1,1155.9 1273.6,1158 1274,1157.5 1274.5,1157.3 1274.9,1156.8 1275.4,1159.1 1275.8,1156.2 1276.3,1155.8 1276.8,1158.6 1277.2,1158.8 1277.7,1156.9 1278.1,1158 1278.6,1160 1279.1,1156.3 1279.5,1157.1 1280,1157.8 1280.4,1154.8 1280.9,1157.1 1281.3,1158.1 1281.8,1157.1 1282.3,1158.4 1282.7,1158.1 1283.2,1156.7 1283.6,1157.8 1284.1,1157.7 1284.6,1155.2 1285,1156.1 1285.5,1156.2 1285.9,1156.5 1286.4,1156.5 1286.8,1155.4 1287.3,1157.1 1287.8,1154.9 1288.2,1158.1 1288.7,1157.3 1289.1,1158.6 1289.6,1157.4 1290.1,1156.4 1290.5,1155.2 1291,1157.7 1291.4,1156.9 1291.9,1157.3 1292.3,1157.7 1292.8,1158.2 1293.3,1156.7 1293.7,1158.8 1294.2,1156.6 1294.6,1156.7 1295.1,1157.5 1295.6,1157.8 1296,1158.3 1296.5,1154.3 1296.9,1158.1 1297.4,1154.6 1297.8,1155.7 1298.3,1156.8 1298.8,1157.7 1299.2,1155 1299.7,1154.1 1300.1,1157.3 1300.6,1156.5 1301.1,1154.7 1301.5,1155.6 1302,1153.4 1302.4,1156.5 1302.9,1155.1 1303.3,1157.2 1303.8,1152.9 1304.3,1156.4 1304.7,1158.2 1305.2,1155.4 1305.6,1155.3 1306.1,1152.5 1306.6,1155.3 1307,1154.7 1307.5,1153.7 1307.9,1152.2 1308.4,1154.2 1308.8,1152.5 1309.3,1152.9 1309.8,1153.8 1310.2,1153 1310.7,1152.8 1311.1,1153.8 1311.6,1150.3 1312,1153.7 1312.5,1149.4 1313,1149.1 1313.4,1150.2 1313.9,1150.6 1314.3,1149 1314.8,1146.9 1315.3,1145.3 1315.7,1144.9 1316.2,1142 1316.6,1143.1 1317.1,1139.1 1317.5,1139.8 1318,1130.4 1318.5,1125.9 1318.9,1119.5 1319.4,1104.3 1319.8,1091.6 1320.3,1086.8 1320.8,1054.6 1321.2,1036.5 1321.7,996.6 1322.1,960.9 1322.6,949.3 1323,924.7 1323.5,913.8 1324,909.5 1324.4,916.9 1324.9,928.7 1325.3,956.9 1325.8,958.6 1326.3,982.9 1326.7,985.7 1327.2,989.4 1327.6,1001.5 1328.1,1022.9 1328.5,1037.3 1329,1053.3 1329.5,1068.6 1329.9,1079.9 1330.4,1102.7 1330.8,1108.6 1331.3,1117.8 1331.8,1125.6 1332.2,1131.7 1332.7,1133.8 1333.1,1139.4 1333.6,1141.1 1334,1143.6 1334.5,1142.8 1335,1150.6 1335.4,1146 1335.9,1149.3 1336.3,1150 1336.8,1151.6 1337.3,1153.4 1337.7,1151.3 1338.2,1151.9 1338.6,1150.2 1339.1,1153.2 1339.5,1148.6 1340,1150.2 1340.5,1150.9 1340.9,1151.5 1341.4,1151.7 1341.8,1152.4 1342.3,1151.8 1342.8,1151.4 1343.2,1152 1343.7,1154.2 1344.1,1152.8 1344.6,1153.9 1345,1152.7 1345.5,1150.5 1346,1152.6 1346.4,1154.3 1346.9,1156.4 1347.3,1156.5 1347.8,1157.1 1348.3,1154.2 1348.7,1156.4 1349.2,1155.5 1349.6,1156.6 1350.1,1155.8 1350.5,1154.3 1351,1157 1351.5,1156.6 1351.9,1157.3 1352.4,1155.3 1352.8,1157.7 1353.3,1157.8 1353.7,1158.2 1354.2,1158.3 1354.7,1156.1 1355.1,1153.6 1355.6,1157.9 1356,1155.6 1356.5,1156.5 1357,1158.1 1357.4,1157.2 1357.9,1157.1 1358.3,1157.7 1358.8,1154.7 1359.2,1159.2 1359.7,1156.5 1360.2,1156.6 1360.6,1157.7 1361.1,1156.8 1361.5,1156 1362,1156.9 1362.5,1156.6 1362.9,1156.3 1363.4,1159.5 1363.8,1155.4 1364.3,1154.5 1364.7,1156 1365.2,1156 1365.7,1158.8 1366.1,1157.3 1366.6,1158.1 1367,1157.8 1367.5,1156.1 1368,1158.1 1368.4,1157.3 1368.9,1159.4 1369.3,1157.3 1369.8,1157.1 1370.2,1158 1370.7,1158 1371.2,1154.9 1371.6,1158.5 1372.1,1158.3 1372.5,1158 1373,1155.6 1373.5,1154.4 1373.9,1156.4 1374.4,1157.5 1374.8,1157 1375.3,1154.9 1375.7,1157 1376.2,1153.5 1376.7,1153 1377.1,1154.2 1377.6,1152.7 1378,1151.9 1378.5,1150.1 1379,1153.6 1379.4,1150.1 1379.9,1152.6 1380.3,1153.4 1380.8,1152.5 1381.2,1153.3 1381.7,1154.6 1382.2,1155.7 1382.6,1154.9 1383.1,1151.8 1383.5,1151.4 1384,1153.5 1384.5,1153.2 1384.9,1155.9 1385.4,1155.7 1385.8,1155.5 1386.3,1157.5 1386.7,1157.6 1387.2,1156.5 1387.7,1157.1 1388.1,1158.1 1388.6,1156.5 1389,1157.3 1389.5,1155.8 1390,1157 1390.4,1157.3 1390.9,1156.8 1391.3,1157 1391.8,1157.5 1392.2,1157.1 1392.7,1155.5 1393.2,1155.3 1393.6,1154.1 1394.1,1157.5 1394.5,1155.2 1395,1154.5 1395.5,1152.8 1395.9,1152.8 1396.4,1152 1396.8,1149.1 1397.3,1149.4 1397.7,1151.4 1398.2,1147.4 1398.7,1148.4 1399.1,1151.4 1399.6,1149.7 1400,1152.5 1400.5,1150 1400.9,1152.3 1401.4,1153.4 1401.9,1153.1 1402.3,1154.1 1402.8,1153.3 1403.2,1153.9 1403.7,1154.7 1404.2,1156 1404.6,1160.3 1405.1,1156 1405.5,1158.7 1406,1156.4 1406.4,1155.5 1406.9,1156.7 1407.4,1157.6 1407.8,1157.4 1408.3,1157.4 1408.7,1157.9 1409.2,1158 1409.7,1158.4 1410.1,1156.1 1410.6,1157.4 1411,1156.4 1411.5,1157.7 1411.9,1157.4 1412.4,1157.7 1412.9,1157 1413.3,1156.5 1413.8,1157.2 1414.2,1158.2 1414.7,1158.4 1415.2,1155.6 1415.6,1157.8 1416.1,1157.7 1416.5,1155.7 1417,1156.1 1417.4,1156.6 1417.9,1157.6 1418.4,1154.3 1418.8,1156.4 1419.3,1156 1419.7,1156.6 1420.2,1157.8 1420.7,1157.5 1421.1,1155 1421.6,1154.7 1422,1155.3 1422.5,1156.4 1422.9,1156.6 1423.4,1155 1423.9,1156.4 1424.3,1153.1 1424.8,1152.7 1425.2,1150.4 1425.7,1153.2 1426.2,1155.4 1426.6,1156 1427.1,1159.6 1427.5,1156.1 1428,1155.8 1428.4,1154.5 1428.9,1155.1 1429.4,1155.4 1429.8,1156 1430.3,1155.7 1430.7,1155 1431.2,1158.1 1431.7,1157.6 1432.1,1158.8 1432.6,1155.4 1433,1155.9 1433.5,1156.6 1433.9,1158.9 1434.4,1157.4 1434.9,1157.9 1435.3,1157.5 1435.8,1157.9 1436.2,1157.1 1436.7,1158.1 1437.2,1156.8 1437.6,1157.4 1438.1,1158 1438.5,1157.9 1439,1158.2 1439.4,1156.8 1439.9,1158.1 1440.4,1157.4 1440.8,1158.2 1441.3,1159.4 1441.7,1156.8 1442.2,1159 1442.7,1157 1443.1,1157.3 1443.6,1159.6 1444,1158.8 1444.5,1158.4 1444.9,1158.7 1445.4,1159.1 1445.9,1157 1446.3,1158.1 1446.8,1157.4 1447.2,1158.3 1447.7,1157.5 1448.1,1158.6 1448.6,1157.8 1449.1,1157.2 1449.5,1157.8 1450,1158.3 1450.4,1159 1450.9,1157.6 1451.4,1157.4 1451.8,1158.1 1452.3,1158.7 1452.7,1157.2 1453.2,1155.1 1453.6,1158.2 1454.1,1157.5 1454.6,1157.4 1455,1160.7 1455.5,1157.7 1455.9,1158.6 1456.4,1156.3 1456.9,1158.1 1457.3,1158.7 1457.8,1158.1 1458.2,1157.7 1458.7,1158.5 1459.1,1157.9 1459.6,1159.3 1460.1,1158.1 1460.5,1157 1461,1155.7 1461.4,1157.1 1461.9,1157.5 1462.4,1156.5 1462.8,1156.7 1463.3,1156 1463.7,1156.7 1464.2,1158 1464.6,1157.6 1465.1,1157.7 1465.6,1157.5 1466,1157.6 1466.5,1158.7 1466.9,1160.2 1467.4,1158.6 1467.9,1160.1 1468.3,1157.8 1468.8,1157.8 1469.2,1159.7 1469.7,1157.1 1470.1,1156.9 1470.6,1157.7 1471.1,1156 1471.5,1155.8 1472,1159.2 1472.4,1156.7 1472.9,1157.4 1473.4,1157.4 1473.8,1156.8 1474.3,1158.6 1474.7,1158.5 1475.2,1158.8 1475.6,1158.7 1476.1,1157.9 1476.6,1159.4 1477,1159 1477.5,1157.2 1477.9,1157.9 1478.4,1157.4 1478.9,1159.9 1479.3,1158.7 1479.8,1158.4 1480.2,1157.8 1480.7,1158.5 1481.1,1156.8 1481.6,1157.9 1482.1,1157.8 1482.5,1157.8 1483,1157 1483.4,1158.3 1483.9,1156.6 1484.4,1157.3 1484.8,1157.6 1485.3,1157.8 1485.7,1157.2 1486.2,1156.7 1486.6,1156.8 1487.1,1157.4 1487.6,1156.8 1488,1157.7 1488.5,1156.4 1488.9,1157.8 1489.4,1160.1 1489.9,1156.3 1490.3,1157.6 1490.8,1159.1 1491.2,1158 1491.7,1158.7 1492.1,1155.4 1492.6,1157.2 1493.1,1159.5 1493.5,1157.1 1494,1158.2 1494.4,1155.6 1494.9,1158.9 1495.3,1160.2 1495.8,1157.6 1496.3,1158 1496.7,1158.1 1497.2,1160 1497.6,1157.1 1498.1,1155.7 1498.6,1159.7 1499,1156.2 1499.5,1158.2 1499.9,1154.8 1500.4,1156.9 1500.8,1157.6 1501.3,1156 1501.8,1156.6 1502.2,1157.7 1502.7,1156 1503.1,1157.3 1503.6,1158.6 1504.1,1153.7 1504.5,1156.4 1505,1156.5 1505.4,1155.2 1505.9,1157.5 1506.3,1157.2 1506.8,1156.2 1507.3,1156.3 1507.7,1155.6 1508.2,1154.3 1508.6,1156.3 1509.1,1155 1509.6,1154.8 1510,1156.8 1510.5,1155.1 1510.9,1156.4 1511.4,1153.6 1511.8,1154 1512.3,1154.1 1512.8,1155.3 1513.2,1152.3 1513.7,1152.3 1514.1,1148.5 1514.6,1147.9 1515.1,1147.1 1515.5,1141.9 1516,1140.3 1516.4,1141.3 1516.9,1137 1517.3,1140 1517.8,1140.8 1518.3,1141.1 1518.7,1144.1 1519.2,1144.7 1519.6,1145.2 1520.1,1142.9 1520.6,1143.5 1521,1147.1 1521.5,1144.4 1521.9,1148 1522.4,1148.3 1522.8,1148.6 1523.3,1150.7 1523.8,1148.7 1524.2,1152.9 1524.7,1155.7 1525.1,1153.1 1525.6,1155.9 1526.1,1156.2 1526.5,1159.8 1527,1155.3 1527.4,1155.7 1527.9,1155.9 1528.3,1155.8 1528.8,1155.1 1529.3,1157.2 1529.7,1156.1 1530.2,1158.1 1530.6,1157.7 1531.1,1156.1 1531.6,1156.9 1532,1158.9 1532.5,1157 1532.9,1157.6 1533.4,1158.4 1533.8,1157 1534.3,1157.9 1534.8,1159.3 1535.2,1158.8 1535.7,1155.5 1536.1,1159.2 1536.6,1157.3 1537,1156.9 1537.5,1156.9 1538,1158.9 1538.4,1157.9 1538.9,1157.4 1539.3,1156.7 1539.8,1158.3 1540.3,1158.9 1540.7,1156.5 1541.2,1156.4 1541.6,1157.2 1542.1,1158.3 1542.5,1157.2 1543,1157.5 1543.5,1156.7 1543.9,1159 1544.4,1157.5 1544.8,1157.8 1545.3,1158.8 1545.8,1157.3 1546.2,1157.5 1546.7,1158 1547.1,1157.1 1547.6,1159.2 1548,1157.6 1548.5,1157.1 1549,1157.2 1549.4,1156.3 1549.9,1158.9 1550.3,1159.2 1550.8,1157.2 1551.3,1156.9 1551.7,1155 1552.2,1156.7 1552.6,1158.3 1553.1,1156.3 1553.5,1158.1 1554,1158.8 1554.5,1153.8 1554.9,1156.3 1555.4,1155.6 1555.8,1155.5 1556.3,1153.6 1556.8,1155.1 1557.2,1153.6 1557.7,1156.2 1558.1,1156.4 1558.6,1152.6 1559,1152.5 1559.5,1154 1560,1154.5 1560.4,1154.8 1560.9,1156 1561.3,1153.2 1561.8,1154.4 1562.3,1154.5 1562.7,1154.7 1563.2,1153.7 1563.6,1154.4 1564.1,1154 1564.5,1156.5 1565,1154.2 1565.5,1151.8 1565.9,1155.2 1566.4,1154.5 1566.8,1152.9 1567.3,1152.7 1567.8,1153.1 1568.2,1156.2 1568.7,1153.5 1569.1,1156 1569.6,1155.7 1570,1154 1570.5,1155.2 1571,1153.8 1571.4,1150.8 1571.9,1153.9 1572.3,1154 1572.8,1156.1 1573.3,1155.9 1573.7,1156.5 1574.2,1156 1574.6,1156.8 1575.1,1156.3 1575.5,1155.8 1576,1156.8 1576.5,1157.3 1576.9,1157.1 1577.4,1154.7 1577.8,1155.1 1578.3,1153.6 1578.8,1153.3 1579.2,1154.8 1579.7,1153 1580.1,1155.4 1580.6,1149.4 1581,1149.9 1581.5,1150.8 1582,1150.6 1582.4,1145.6 1582.9,1146.8 1583.3,1141 1583.8,1133.1 1584.2,1129.1 1584.7,1124.5 1585.2,1114.2 1585.6,1113.9 1586.1,1105 1586.5,1104.4 1587,1104.9 1587.5,1102.5 1587.9,1110.3 1588.4,1105.5 1588.8,1116.6 1589.3,1112.6 1589.7,1123.4 1590.2,1120.4 1590.7,1126.2 1591.1,1127.5 1591.6,1124.9 1592,1125.7 1592.5,1133.4 1593,1130.9 1593.4,1138.8 1593.9,1140.1 1594.3,1142.6 1594.8,1144.9 1595.2,1151.1 1595.7,1147.2 1596.2,1150.3 1596.6,1152.9 1597.1,1154.5 1597.5,1155.9 1598,1155.9 1598.5,1153.6 1598.9,1155 1599.4,1156.2 1599.8,1155.5 1600.3,1152.9 1600.7,1155.4 1601.2,1155.7 1601.7,1153.2 1602.1,1154.3 1602.6,1154.7 1603,1155.4 1603.5,1156.4 1604,1155.5 1604.4,1154 1604.9,1152.8 1605.3,1150.8 1605.8,1149 1606.2,1147.7 1606.7,1145.3 1607.2,1145 1607.6,1144.4 1608.1,1137.9 1608.5,1135.8 1609,1132.5 1609.5,1129.8 1609.9,1131.6 1610.4,1131.9 1610.8,1131 1611.3,1132.4 1611.7,1136.2 1612.2,1135.3 1612.7,1138.2 1613.1,1140.7 1613.6,1138.9 1614,1135.4 1614.5,1141.3 1615,1138.4 1615.4,1139.4 1615.9,1141 1616.3,1147.2 1616.8,1144 1617.2,1149.1 1617.7,1151.2 1618.2,1152.4 1618.6,1152.3 1619.1,1153.9 1619.5,1154.9 1620,1153.5 1620.5,1156.5 1620.9,1157.2 1621.4,1155.1 1621.8,1155.4 1622.3,1155.1 1622.7,1157.8 1623.2,1155.4 1623.7,1156.2 1624.1,1154.7 1624.6,1158.3 1625,1156.7 1625.5,1157.3 1626,1158.9 1626.4,1157.9 1626.9,1155.8 1627.3,1157.7 1627.8,1158 1628.2,1156.2 1628.7,1156.1 1629.2,1156.1 1629.6,1158.2 1630.1,1157.4 1630.5,1156.1 1631,1158.1 1631.4,1158.2 1631.9,1156.4 1632.4,1155.5 1632.8,1158.6 1633.3,1160.2 1633.7,1158.8 1634.2,1158.2 1634.7,1157.1 1635.1,1156.1 1635.6,1156.8 1636,1157.3 1636.5,1156.1 1636.9,1157.3 1637.4,1156 1637.9,1156.6 1638.3,1152.4 1638.8,1154.7 1639.2,1156.9 1639.7,1157.2 1640.2,1156.6 1640.6,1158.2 1641.1,1157.2 1641.5,1157.2 1642,1155.2 1642.4,1156.8 1642.9,1157.2 1643.4,1157.8 1643.8,1157.6 1644.3,1156.2 1644.7,1156.3 1645.2,1154.5 1645.7,1156.6 1646.1,1154.3 1646.6,1155.2 1647,1155.4 1647.5,1157.9 1647.9,1157 1648.4,1154.5 1648.9,1153.8 1649.3,1155.5 1649.8,1155 1650.2,1156.6 1650.7,1156.7 1651.2,1157.1 1651.6,1155.1 1652.1,1155.9 1652.5,1156.7 1653,1156.8 1653.4,1155.9 1653.9,1156.3 1654.4,1157.8 1654.8,1154.9 1655.3,1156.8 1655.7,1157.2 1656.2,1155.6 1656.7,1156.2 1657.1,1157.6 1657.6,1156.9 1658,1158.8 1658.5,1158.3 1658.9,1160.2 1659.4,1156.3 1659.9,1159.8 1660.3,1156.9 1660.8,1158.6 1661.2,1158.8 1661.7,1157.9 1662.2,1157.4 1662.6,1157.1 1663.1,1155.8 1663.5,1157.3 1664,1156.8 1664.4,1158.4 1664.9,1157 1665.4,1157.6 1665.8,1158.3 1666.3,1157.9 1666.7,1157.8 1667.2,1157.6 1667.7,1157.3 1668.1,1158.3 1668.6,1158.6 1669,1156.9 1669.5,1159.6 1669.9,1158.5 1670.4,1156.1 1670.9,1160.8 1671.3,1158.5 1671.8,1157 1672.2,1159.6 1672.7,1154.9 1673.2,1160.6 1673.6,1156.2 1674.1,1156 1674.5,1156.7 1675,1158 1675.4,1157.4 1675.9,1158.7 1676.4,1156.9 1676.8,1159 1677.3,1158 1677.7,1156.6 1678.2,1159 1678.6,1158.1 1679.1,1157.5 1679.6,1159.2 1680,1156.4 1680.5,1157.3 1680.9,1159.4 1681.4,1157.7 1681.9,1158.5 1682.3,1158.4 1682.8,1157.6 1683.2,1158.4 1683.7,1156.5 1684.1,1158.4 1684.6,1156.5 1685.1,1157.6 1685.5,1156.6 1686,1158.1 1686.4,1158.1 1686.9,1158.8 1687.4,1156.8 1687.8,1156.4 1688.3,1155 1688.7,1155.9 1689.2,1157 1689.6,1157.5 1690.1,1156.8 1690.6,1157.2 1691,1155.4 1691.5,1156 1691.9,1157.9 1692.4,1157.6 1692.9,1155.1 1693.3,1156.2 1693.8,1156.6 1694.2,1154.6 1694.7,1156.2 1695.1,1155.6 1695.6,1155.2 1696.1,1156.5 1696.5,1151.6 1697,1153.3 1697.4,1150.9 1697.9,1149.5 1698.4,1145.1 1698.8,1144.4 1699.3,1142.2 1699.7,1143.6 1700.2,1139.1 1700.6,1141.1 1701.1,1137.6 1701.6,1138.2 1702,1140.3 1702.5,1137.9 1702.9,1142.3 1703.4,1143.4 1703.9,1145.3 1704.3,1146.6 1704.8,1145.2 1705.2,1145.3 1705.7,1149.8 1706.1,1146.3 1706.6,1147.9 1707.1,1148.1 1707.5,1149.9 1708,1153.5 1708.4,1154.3 1708.9,1151 1709.4,1154 1709.8,1156.8 1710.3,1155.1 1710.7,1156.4 1711.2,1158.5 1711.6,1159.2 1712.1,1158.6 1712.6,1156.5 1713,1157 1713.5,1157.3 1713.9,1156.8 1714.4,1156.5 1714.9,1159.6 1715.3,1157.6 1715.8,1158.3 1716.2,1158.8 1716.7,1158 1717.1,1157.5 1717.6,1157.7 1718.1,1159.1 1718.5,1158 1719,1155.2 1719.4,1158.6 1719.9,1159.3 1720.3,1157.1 1720.8,1156.6 1721.3,1156.7 1721.7,1158.4 1722.2,1155.9 1722.6,1157.8 1723.1,1158.1 1723.6,1157.3 1724,1156.6 1724.5,1155.5 1724.9,1155.5 1725.4,1156.3 1725.8,1155.2 1726.3,1156.3 1726.8,1155.5 1727.2,1158.3 1727.7,1158.6 1728.1,1155.9 1728.6,1158.5 1729.1,1157.2 1729.5,1157 1730,1157.4 1730.4,1157.4 1730.9,1155.3 1731.3,1159.9 1731.8,1156.1 1732.3,1154.5 1732.7,1157.2 1733.2,1157.4 1733.6,1156.6 1734.1,1155.4 1734.6,1158.9 1735,1157.5 1735.5,1157.8 1735.9,1157 1736.4,1157.4 1736.8,1156.8 1737.3,1158 1737.8,1157.4 1738.2,1158.2 1738.7,1158.1 1739.1,1157.4 1739.6,1157.3 1740.1,1158.4 1740.5,1155 1741,1156.8 1741.4,1158.2 1741.9,1155.1 1742.3,1157.2 1742.8,1155.7 1743.3,1156.4 1743.7,1156.2 1744.2,1156.4 1744.6,1157.4 1745.1,1156.7 1745.6,1154.5 1746,1159.5 1746.5,1156.8 1746.9,1156.4 1747.4,1158.1 1747.8,1158.5 1748.3,1154.4 1748.8,1157.4 1749.2,1154.7 1749.7,1156.5 1750.1,1157.2 1750.6,1156.8 1751.1,1156.7 1751.5,1156.1 1752,1157 1752.4,1157.4 1752.9,1157.4 1753.3,1156.1 1753.8,1156.7 1754.3,1158.7 1754.7,1158.3 1755.2,1157.2 1755.6,1158.3 1756.1,1158 1756.6,1158.6 1757,1157.8 1757.5,1157 1757.9,1156.3 1758.4,1157.4 1758.8,1155 1759.3,1157.4 1759.8,1153.7 1760.2,1156.1 1760.7,1156.6 1761.1,1157.6 1761.6,1160.2 1762.1,1156.9 1762.5,1156.3 1763,1153.8 1763.4,1157.5 1763.9,1152.7 1764.3,1154.9 1764.8,1152.7 1765.3,1156.4 1765.7,1151.4 1766.2,1151 1766.6,1148.2 1767.1,1148.2 1767.5,1149.5 1768,1145.5 1768.5,1145.9 1768.9,1146.5 1769.4,1146.4 1769.8,1147.1 1770.3,1149.7 1770.8,1152.5 1771.2,1153 1771.7,1149.1 1772.1,1150.2 1772.6,1151.2 1773,1152.1 1773.5,1151.5 1774,1151.7 1774.4,1152.7 1774.9,1153.7 1775.3,1150.3 1775.8,1153.7 1776.3,1155.4 1776.7,1156.9 1777.2,1156.6 1777.6,1155.2 1778.1,1155.5 1778.5,1157 1779,1156.9 1779.5,1157.4 1779.9,1158.5 1780.4,1155.8 1780.8,1156.9 1781.3,1154.6 1781.8,1158.3 1782.2,1157.7 1782.7,1156.6 1783.1,1157.9 1783.6,1159.2 1784,1158.7 1784.5,1157.5 1785,1157.3 1785.4,1157.8 1785.9,1156.6 1786.3,1156.6 1786.8,1157.4 1787.3,1157.7 1787.7,1158 1788.2,1157.1 1788.6,1156.7 1789.1,1157.7 1789.5,1157.3 1790,1158.1 1790.5,1159.4 1790.9,1158.9 1791.4,1157 1791.8,1157.3 1792.3,1156.1 1792.8,1157.8 1793.2,1156.9 1793.7,1156.4 1794.1,1156.7 1794.6,1158.5 1795,1158 1795.5,1157.7 1796,1158.9 1796.4,1157.3 1796.9,1156.7 1797.3,1158.4 1797.8,1155.7 1798.3,1158.2 1798.7,1158.1 1799.2,1158.1 1799.6,1158.6 1800.1,1157.4 1800.5,1157.8 1801,1156 1801.5,1157.2 1801.9,1157.3 1802.4,1158.1 1802.8,1159.4 1803.3,1157.9 1803.8,1158.8 1804.2,1156.8 1804.7,1157.9 1805.1,1156 1805.6,1157 1806,1156.9 1806.5,1157.6 1807,1157.6 1807.4,1157.1 1807.9,1156.8 1808.3,1158.6 1808.8,1157.3 1809.3,1154.9 1809.7,1157.9 1810.2,1158 1810.6,1158.5 1811.1,1159.3 1811.5,1156.4 1812,1157.6 1812.5,1157.2 1812.9,1155.4 1813.4,1154.6 1813.8,1158.3 1814.3,1155.9 1814.7,1156.2 1815.2,1156.3 1815.7,1156 1816.1,1156.4 1816.6,1154.2 1817,1155.3 1817.5,1155.6 1818,1154.6 1818.4,1155.1 1818.9,1155.8 1819.3,1156.1 1819.8,1154.5 1820.2,1156.1 1820.7,1156.9 1821.2,1157.8 1821.6,1157.2 1822.1,1158.1 1822.5,1156.7 1823,1156.5 1823.5,1159.3 1823.9,1156.9 1824.4,1156.3 1824.8,1156.9 1825.3,1158.3 1825.7,1155.9 1826.2,1158.2 1826.7,1158.9 1827.1,1158.8 1827.6,1157.7 1828,1156.6 1828.5,1156.4 1829,1157.5 1829.4,1159.1 1829.9,1158.5 1830.3,1158.8 1830.8,1158 1831.2,1159.8 1831.7,1157.7 1832.2,1157.1 1832.6,1158 1833.1,1157.3 1833.5,1158.8 1834,1159.4 1834.5,1158.5 1834.9,1156.5 1835.4,1156.7 1835.8,1158.3 1836.3,1156.5 1836.7,1158.2 1837.2,1156.1 1837.7,1157.3 1838.1,1158.3 1838.6,1156.9 1839,1158.7 1839.5,1158.8 1840,1159.4 1840.4,1157.5 1840.9,1157.8 1841.3,1157.9 1841.8,1158.2 1842.2,1156.2 1842.7,1158.2 1843.2,1158.5 1843.6,1156.3 1844.1,1156.1 1844.5,1157.3 1845,1159.6 1845.5,1158.2 1845.9,1156.8 1846.4,1157.4 1846.8,1155.6 1847.3,1158.8 1847.7,1156.3 1848.2,1157.6 1848.7,1155.2 1849.1,1156.7 1849.6,1155.2 1850,1157.1 1850.5,1158 1851,1157.7 1851.4,1157.1 1851.9,1157.7 1852.3,1155.2 1852.8,1155.1 1853.2,1156.5 1853.7,1158.1 1854.2,1157 1854.6,1157.7 1855.1,1155.2 1855.5,1156.5 1856,1156.3 1856.5,1157.3 1856.9,1159.2 1857.4,1157.8 1857.8,1158.3 1858.3,1156.6 1858.7,1157 1859.2,1158.1 1859.7,1157.7 1860.1,1155.5 1860.6,1158.4 1861,1158.4 1861.5,1157.6 1861.9,1158.1 1862.4,1157.8 1862.9,1156.7 1863.3,1155.3 1863.8,1159.3 1864.2,1157.2 1864.7,1157 1865.2,1157.1 1865.6,1157 1866.1,1157.1 1866.5,1155.2 1867,1156.8 1867.4,1156.1 1867.9,1155.7 1868.4,1155.2 1868.8,1155.3 1869.3,1153.6 1869.7,1154.8 1870.2,1154.5 1870.7,1154.8 1871.1,1156.1 1871.6,1155.9 1872,1156.2 1872.5,1154.5 1872.9,1155.6 1873.4,1155.8 1873.9,1153.7 1874.3,1152.8 1874.8,1155.3 1875.2,1149.3 1875.7,1150.5 1876.2,1149.3 1876.6,1145.5 1877.1,1145.1 1877.5,1144 1878,1136.1 1878.4,1140.1 1878.9,1135.8 1879.4,1132.1 1879.8,1135.6 1880.3,1133.7 1880.7,1133.8 1881.2,1131.4 1881.7,1140.4 1882.1,1140.7 1882.6,1141.1 1883,1143.5 1883.5,1146.8 1883.9,1144.4 1884.4,1145.1 1884.9,1144.4 1885.3,1143 1885.8,1143.3 1886.2,1144.8 1886.7,1145.8 1887.2,1149.3 1887.6,1148.8 1888.1,1149.5 1888.5,1151.7 1889,1152.1 1889.4,1154.4 1889.9,1152 1890.4,1151.9 1890.8,1155.8 1891.3,1155.2 1891.7,1156.3 1892.2,1154.8 1892.7,1156 1893.1,1156.6 1893.6,1157 1894,1156.7 1894.5,1158.1 1894.9,1156.2 1895.4,1157.9 1895.9,1156.5 1896.3,1157 1896.8,1155.9 1897.2,1157.3 1897.7,1156.1 1898.2,1158.4 1898.6,1156.6 1899.1,1157.6 1899.5,1157.2 1900,1157.3 1900.4,1156.4 1900.9,1159.7 1901.4,1157.1 1901.8,1159.1 1902.3,1156.1 1902.7,1159.7 1903.2,1158.6 1903.6,1159.4 1904.1,1155.7 1904.6,1159 1905,1157.4 1905.5,1158.1 1905.9,1159.5 1906.4,1157.9 1906.9,1156.8 1907.3,1157.7 1907.8,1156.5 1908.2,1157.9 1908.7,1157.5 1909.1,1158 1909.6,1157.1 1910.1,1155.4 1910.5,1157.1 1911,1157.3 1911.4,1158.2 1911.9,1158.4 1912.4,1155.9 1912.8,1158.8 1913.3,1158.5 1913.7,1157.6 1914.2,1158 1914.6,1155.3 1915.1,1160.1 1915.6,1157.1 1916,1156.7 1916.5,1158.7 1916.9,1158.2 1917.4,1156.9 1917.9,1155.6 1918.3,1158.4 1918.8,1159.2 1919.2,1156.3 1919.7,1155.6 1920.1,1157.7 1920.6,1159.9 1921.1,1155.7 1921.5,1157.5 1922,1156 1922.4,1157.3 1922.9,1157.7 1923.4,1157.7 1923.8,1155.5 1924.3,1155.5 1924.7,1159.6 1925.2,1158.2 1925.6,1155 1926.1,1157.4 1926.6,1158.6 1927,1156.9 1927.5,1157 1927.9,1157 1928.4,1157.4 1928.9,1157.1 1929.3,1157.2 1929.8,1156.2 1930.2,1157.5 1930.7,1156.8 1931.1,1156.6 1931.6,1154.7 1932.1,1155.8 1932.5,1156.2 1933,1155.3 1933.4,1155.4 1933.9,1154.4 1934.4,1154.9 1934.8,1153.1 1935.3,1153.5 1935.7,1155 1936.2,1155.2 1936.6,1153.3 1937.1,1153.4 1937.6,1153.8 1938,1155.2 1938.5,1155.2 1938.9,1151.3 1939.4,1149.7 1939.9,1148.3 1940.3,1149.9 1940.8,1144 1941.2,1143.8 1941.7,1138.5 1942.1,1133.9 1942.6,1131 1943.1,1124.2 1943.5,1120.9 1944,1110.2 1944.4,1105.2 1944.9,1090.6 1945.4,1085.3 1945.8,1077.7 1946.3,1078 1946.7,1083.3 1947.2,1084.3 1947.6,1093.7 1948.1,1097.9 1948.6,1106.2 1949,1116.5 1949.5,1117.9 1949.9,1120.6 1950.4,1122.8 1950.8,1119 1951.3,1115.3 1951.8,1119.5 1952.2,1117.7 1952.7,1122.4 1953.1,1116.4 1953.6,1119.1 1954.1,1126.8 1954.5,1124 1955,1127.5 1955.4,1135 1955.9,1138 1956.3,1142.7 1956.8,1142.3 1957.3,1148.9 1957.7,1148.7 1958.2,1146.5 1958.6,1150.7 1959.1,1150.9 1959.6,1152.5 1960,1154.5 1960.5,1153.3 1960.9,1153 1961.4,1155.4 1961.8,1153.9 1962.3,1153 1962.8,1153.5 1963.2,1157.3 1963.7,1156.7 1964.1,1157.7 1964.6,1154.5 1965.1,1155.3 1965.5,1155.3 1966,1157.4 1966.4,1157.8 1966.9,1156.4 1967.3,1156.5 1967.8,1157.7 1968.3,1156.6 1968.7,1156.1 1969.2,1156.6 1969.6,1158.1 1970.1,1159.4 1970.6,1157.3 1971,1156.9 1971.5,1157.4 1971.9,1157.6 1972.4,1158 1972.8,1156.4 1973.3,1157.3 1973.8,1157.1 1974.2,1158.4 1974.7,1158 1975.1,1157.1 1975.6,1158.5 1976.1,1158.8 1976.5,1157.8 1977,1156.1 1977.4,1157.2 1977.9,1155.8 1978.3,1157.6 1978.8,1157.8 1979.3,1159.1 1979.7,1158.2 1980.2,1155.9 1980.6,1157.2 1981.1,1156.7 1981.6,1156.8 1982,1157.6 1982.5,1157.8 1982.9,1157.5 1983.4,1156.8 1983.8,1157.1 1984.3,1157.1 1984.8,1157.5 1985.2,1158.5 1985.7,1157.9 1986.1,1158.7 1986.6,1156.5 1987.1,1160 1987.5,1157.9 1988,1155 1988.4,1158.1 1988.9,1159 1989.3,1157.7 1989.8,1156.3 1990.3,1157.9 1990.7,1157 1991.2,1157.6 1991.6,1158.1 1992.1,1154.2 1992.6,1157.6 1993,1158.3 1993.5,1158.3 1993.9,1157.3 1994.4,1157.3 1994.8,1156.9 1995.3,1157.6 1995.8,1159.3 1996.2,1157.2 1996.7,1158.1 1997.1,1158.1 1997.6,1159.4 1998,1158.4 1998.5,1158.6 1999,1157.8 1999.4,1159.4 1999.9,1157.7 2000.3,1157.6 2000.8,1159 2001.3,1158.5 2001.7,1158.7 2002.2,1156.8 2002.6,1160.6 2003.1,1158.2 2003.5,1159.6 2004,1158.3 2004.5,1156.8 2004.9,1158.5 2005.4,1157.6 2005.8,1158.7 2006.3,1155.6 2006.8,1156.8 2007.2,1156.5 2007.7,1159.2 2008.1,1159 2008.6,1156.6 2009,1158 2009.5,1158.1 2010,1157.4 2010.4,1159.2 2010.9,1156.9 2011.3,1157.7 2011.8,1157.2 2012.3,1158.5 2012.7,1157.2 2013.2,1158.5 2013.6,1156.7 2014.1,1156.5 2014.5,1156.7 2015,1157.1 2015.5,1156.9 2015.9,1160.6 2016.4,1156.6 2016.8,1157.8 2017.3,1157.3 2017.8,1157.7 2018.2,1158.8 2018.7,1157.7 2019.1,1156.1 2019.6,1155 2020,1157.3 2020.5,1157.4 2021,1154.4 2021.4,1157.1 2021.9,1153.4 2022.3,1155.9 2022.8,1157.2 2023.3,1155 2023.7,1154.3 2024.2,1158.2 2024.6,1154.8 2025.1,1157.1 2025.5,1155.1 2026,1157.3 2026.5,1158.7 2026.9,1156.3 2027.4,1155.7 2027.8,1154.3 2028.3,1154.7 2028.8,1155.9 2029.2,1157.1 2029.7,1157.5 2030.1,1157.3 2030.6,1158 2031,1157.4 2031.5,1160.1 2032,1157.1 2032.4,1157.4 2032.9,1154.5 2033.3,1156.6 2033.8,1158.1 2034.3,1156.9 2034.7,1158.9 2035.2,1158.2 2035.6,1159.7 2036.1,1156 2036.5,1156.9 2037,1158.9 2037.5,1157.6 2037.9,1156.5 2038.4,1157 2038.8,1157.1 2039.3,1158.5 2039.8,1158.2 2040.2,1157.4 2040.7,1156.4 2041.1,1158.4 2041.6,1158.7 2042,1156.1 2042.5,1158.5 2043,1156.1 2043.4,1157.1 2043.9,1156.3 2044.3,1155.3 2044.8,1156.4 2045.2,1156.3 2045.7,1158.2 2046.2,1157.9 2046.6,1156.3 2047.1,1155.2 2047.5,1155.2 2048,1154.1 2048.5,1156.3 2048.9,1156.3 2049.4,1155.2 2049.8,1156.2 2050.3,1156.1 2050.7,1157 2051.2,1154.1 2051.7,1156.3 2052.1,1153.6 2052.6,1155.4 2053,1150.7 2053.5,1152.5 2054,1147.9 2054.4,1149.9 2054.9,1145.7 2055.3,1140 2055.8,1141.2 2056.2,1136.7 2056.7,1135.6 2057.2,1138.1 2057.6,1131.4 2058.1,1131.4 2058.5,1136.2 2059,1134.4 2059.5,1139.5 2059.9,1142.1 2060.4,1142.1 2060.8,1145 2061.3,1140.7 2061.7,1148.4 2062.2,1144.5 2062.7,1143.9 2063.1,1148.9 2063.6,1148 2064,1143.3 2064.5,1145.2 2065,1143.8 2065.4,1143.2 2065.9,1146.9 2066.3,1149.3 2066.8,1153.3 2067.2,1149.6 2067.7,1152.5 2068.2,1151.5 2068.6,1152.4 2069.1,1155.2 2069.5,1151.3 2070,1152.5 2070.5,1153.1 2070.9,1156 2071.4,1155.2 2071.8,1155.6 2072.3,1155.7 2072.7,1156.8 2073.2,1155.1 2073.7,1155.6 2074.1,1155.6 2074.6,1156.8 2075,1154.8 2075.5,1156.2 2076,1159.7 2076.4,1157.2 2076.9,1156.5 2077.3,1155.3 2077.8,1156.8 2078.2,1156.8 2078.7,1157.3 2079.2,1155.8 2079.6,1157.2 2080.1,1157.5 2080.5,1157.8 2081,1156.4 2081.5,1157.8 2081.9,1159.2 2082.4,1156.6 2082.8,1158.2 2083.3,1157.1 2083.7,1157.1 2084.2,1156.2 2084.7,1156.4 2085.1,1158.2 2085.6,1157.8 2086,1159.1 2086.5,1155.8 2086.9,1157.2 2087.4,1156.1 2087.9,1158 2088.3,1160 2088.8,1156 2089.2,1157.6 2089.7,1157.6 2090.2,1157.7 2090.6,1157 2091.1,1157.1 2091.5,1159.5 2092,1156.5 2092.4,1158.3 2092.9,1158.3 2093.4,1155.8 2093.8,1156.7 2094.3,1158.1 2094.7,1159.8 2095.2,1157.6 2095.7,1157.1 2096.1,1157.8 2096.6,1159.1 2097,1158.6 2097.5,1159.1 2097.9,1157.4 2098.4,1156.7 2098.9,1156.5 2099.3,1158.4 2099.8,1157.2 2100.2,1156.8 2100.7,1157.9 2101.2,1157.4 2101.6,1154.6 2102.1,1156.7 2102.5,1155.7 2103,1157.1 2103.4,1156.4 2103.9,1158.5 2104.4,1156.4 2104.8,1154.9 2105.3,1153.9 2105.7,1155.1 2106.2,1155.9 2106.7,1156.7 2107.1,1157.6 2107.6,1157.2 2108,1156.3 2108.5,1158 2108.9,1156 2109.4,1158.2 2109.9,1159.1 2110.3,1158.2 2110.8,1158.9 2111.2,1158.5 2111.7,1155.6 2112.2,1157.2 2112.6,1156.7 2113.1,1155.7 2113.5,1155.7 2114,1157.8 2114.4,1155.7 2114.9,1156.9 2115.4,1157.3 2115.8,1156.8 2116.3,1159 2116.7,1158.2 2117.2,1157.4 2117.7,1156.6 2118.1,1157.6 2118.6,1157.2 2119,1155.8 2119.5,1155 2119.9,1155.5 2120.4,1154.6 2120.9,1156.2 2121.3,1155.6 2121.8,1154.3 2122.2,1154.5 2122.7,1154.2 2123.2,1150.6 2123.6,1152.8 2124.1,1153.6 2124.5,1151.3 2125,1149.4 2125.4,1152.4 2125.9,1151.1 2126.4,1154 2126.8,1154.6 2127.3,1155.3 2127.7,1154.9 2128.2,1152.6 2128.7,1156.6 2129.1,1153 2129.6,1156.4 2130,1155.3 2130.5,1153.8 2130.9,1153.9 2131.4,1154.3 2131.9,1156.8 2132.3,1154.3 2132.8,1156.3 2133.2,1151.9 2133.7,1155.8 2134.1,1155.6 2134.6,1157.5 2135.1,1157 2135.5,1158.2 2136,1155.7 2136.4,1157.3 2136.9,1156.5 2137.4,1158 2137.8,1157.8 2138.3,1155.8 2138.7,1158.4 2139.2,1159.4 2139.6,1156.9 2140.1,1158.6 2140.6,1157.8 2141,1156.2 2141.5,1158.1 2141.9,1156 2142.4,1157.6 2142.9,1154.9 2143.3,1154.8 2143.8,1156.6 2144.2,1155.9 2144.7,1156.3 2145.1,1154.5 2145.6,1152.7 2146.1,1155.8 2146.5,1152.1 2147,1155 2147.4,1154.2 2147.9,1155.6 2148.4,1150.2 2148.8,1153.4 2149.3,1153.5 2149.7,1155.2 2150.2,1153.2 2150.6,1157.7 2151.1,1155.2 2151.6,1152.6 2152,1156 2152.5,1155.5 2152.9,1154.6 2153.4,1156.4 2153.9,1155.3 2154.3,1154 2154.8,1154.9 2155.2,1154.8 2155.7,1155.8 2156.1,1155.1 2156.6,1155.7 2157.1,1154.2 2157.5,1155.4 2158,1156.8 2158.4,1159.6 2158.9,1156.1 2159.4,1156.2 2159.8,1158.3 2160.3,1159.6 2160.7,1158.8 2161.2,1156.5 2161.6,1158.8 2162.1,1158.2 2162.6,1157.4 2163,1156.4 2163.5,1157.8 2163.9,1157.9 2164.4,1158.4 2164.9,1156 2165.3,1156.6 2165.8,1157.9 2166.2,1159.4 2166.7,1158.7 2167.1,1157.2 2167.6,1158.6 2168.1,1156.9 2168.5,1157.5 2169,1157.6 2169.4,1157.2 2169.9,1157.3 2170.4,1158.8 2170.8,1158.3 2171.3,1155.3 2171.7,1159.2 2172.2,1158.4 2172.6,1156.7 2173.1,1158.1 2173.6,1158.8 2174,1159.4 2174.5,1157.3 2174.9,1156.8 2175.4,1156.4 2175.9,1157.9 2176.3,1156.8 2176.8,1159.1 2177.2,1157.8 2177.7,1158.7 2178.1,1157.7 2178.6,1157.1" fill="none" stroke="none" marker-start="url(#mc)" marker-mid="url(#mc)" marker-end="url(#mc)"/>
<!-- calc -->
<polyline points="345.6,1106.7 346.1,1106.7 346.5,1106.7 347,1106.7 347.4,1106.7 347.9,1106.7 348.3,1106.7 348.8,1106.7 349.3,1106.7 349.7,1106.8 350.2,1106.8 350.6,1106.8 351.1,1106.8 351.6,1106.8 352,1106.8 352.5,1106.9 352.9,1106.9 353.4,1106.9 353.8,1106.9 354.3,1106.9 354.8,1107 355.2,1107 355.7,1107 356.1,1107 356.6,1107.1 357.1,1107.1 357.5,1107.1 358,1107.1 358.4,1107.2 358.9,1107.2 359.3,1107.2 359.8,1107.3 360.3,1107.3 360.7,1107.3 361.2,1107.3 361.6,1107.4 362.1,1107.4 362.6,1107.4 363,1107.5 363.5,1107.5 363.9,1107.5 364.4,1107.6 364.8,1107.6 365.3,1107.6 365.8,1107.7 366.2,1107.7 366.7,1107.7 367.1,1107.8 367.6,1107.8 368.1,1107.8 368.5,1107.9 369,1107.9 369.4,1107.9 369.9,1108 370.3,1108 370.8,1108.1 371.3,1108.1 371.7,1108.1 372.2,1108.2 372.6,1108.2 373.1,1108.2 373.6,1108.3 374,1108.3 374.5,1108.4 374.9,1108.4 375.4,1108.4 375.8,1108.5 376.3,1108.5 376.8,1108.6 377.2,1108.6 377.7,1108.7 378.1,1108.7 378.6,1108.7 379.1,1108.8 379.5,1108.8 380,1108.9 380.4,1108.9 380.9,1109 381.3,1109 381.8,1109 382.3,1109.1 382.7,1109.1 383.2,1109.2 383.6,1109.2 384.1,1109.3 384.6,1109.3 385,1109.4 385.5,1109.4 385.9,1109.4 386.4,1109.5 386.8,1109.5 387.3,1109.6 387.8,1109.6 388.2,1109.7 388.7,1109.7 389.1,1109.8 389.6,1109.8 390.1,1109.9 390.5,1109.9 391,1110 391.4,1110 391.9,1110.1 392.3,1110.1 392.8,1110.2 393.3,1110.2 393.7,1110.3 394.2,1110.3 394.6,1110.4 395.1,1110.4 395.5,1110.5 396,1110.5 396.5,1110.6 396.9,1110.6 397.4,1110.7 397.8,1110.7 398.3,1110.8 398.8,1110.8 399.2,1110.9 399.7,1110.9 400.1,1111 400.6,1111 401,1111.1 401.5,1111.1 402,1111.2 402.4,1111.2 402.9,1111.3 403.3,1111.3 403.8,1111.4 404.3,1111.4 404.7,1111.5 405.2,1111.6 405.6,1111.6 406.1,1111.7 406.5,1111.7 407,1111.8 407.5,1111.8 407.9,1111.9 408.4,1111.9 408.8,1112 409.3,1112 409.8,1112.1 410.2,1112.2 410.7,1112.2 411.1,1112.3 411.6,1112.3 412,1112.4 412.5,1112.4 413,1112.5 413.4,1112.5 413.9,1112.6 414.3,1112.6 414.8,1112.7 415.3,1112.8 415.7,1112.8 416.2,1112.9 416.6,1112.9 417.1,1113 417.5,1113 418,1113.1 418.5,1113.2 418.9,1113.2 419.4,1113.3 419.8,1113.3 420.3,1113.4 420.8,1113.4 421.2,1113.5 421.7,1113.6 422.1,1113.6 422.6,1113.7 423,1113.7 423.5,1113.8 424,1113.8 424.4,1113.9 424.9,1114 425.3,1114 425.8,1114.1 426.3,1114.1 426.7,1114.2 427.2,1114.2 427.6,1114.3 428.1,1114.4 428.5,1114.4 429,1114.5 429.5,1114.5 429.9,1114.6 430.4,1114.6 430.8,1114.7 431.3,1114.8 431.8,1114.8 432.2,1114.9 432.7,1114.9 433.1,1115 433.6,1115 434,1115.1 434.5,1115.1 435,1115.2 435.4,1115.2 435.9,1115.3 436.3,1115.4 436.8,1115.4 437.2,1115.5 437.7,1115.5 438.2,1115.6 438.6,1115.6 439.1,1115.6 439.5,1115.7 440,1115.7 440.5,1115.8 440.9,1115.8 441.4,1115.8 441.8,1115.8 442.3,1115.8 442.7,1115.8 443.2,1115.8 443.7,1115.7 444.1,1115.6 444.6,1115.5 445,1115.2 445.5,1114.7 446,1114 446.4,1113.1 446.9,1112 447.3,1110.6 447.8,1109.2 448.2,1108 448.7,1107.2 449.2,1107 449.6,1107.5 450.1,1108.5 450.5,1109.8 451,1111.2 451.5,1112.6 451.9,1113.9 452.4,1114.9 452.8,1115.7 453.3,1116.2 453.7,1116.7 454.2,1117 454.7,1117.2 455.1,1117.4 455.6,1117.6 456,1117.7 456.5,1117.8 457,1117.9 457.4,1118 457.9,1118.1 458.3,1118.2 458.8,1118.3 459.2,1118.4 459.7,1118.4 460.2,1118.5 460.6,1118.6 461.1,1118.7 461.5,1118.8 462,1118.8 462.5,1118.9 462.9,1119 463.4,1119 463.8,1119.1 464.3,1119.2 464.7,1119.2 465.2,1119.3 465.7,1119.4 466.1,1119.4 466.6,1119.5 467,1119.6 467.5,1119.6 468,1119.7 468.4,1119.8 468.9,1119.8 469.3,1119.9 469.8,1120 470.2,1120 470.7,1120.1 471.2,1120.2 471.6,1120.2 472.1,1120.3 472.5,1120.4 473,1120.4 473.5,1120.5 473.9,1120.6 474.4,1120.6 474.8,1120.7 475.3,1120.8 475.7,1120.8 476.2,1120.9 476.7,1120.9 477.1,1121 477.6,1121.1 478,1121.1 478.5,1121.2 479,1121.3 479.4,1121.3 479.9,1121.4 480.3,1121.5 480.8,1121.5 481.2,1121.6 481.7,1121.6 482.2,1121.7 482.6,1121.8 483.1,1121.8 483.5,1121.9 484,1122 484.4,1122 484.9,1122.1 485.4,1122.2 485.8,1122.2 486.3,1122.3 486.7,1122.3 487.2,1122.4 487.7,1122.5 488.1,1122.5 488.6,1122.6 489,1122.7 489.5,1122.7 489.9,1122.8 490.4,1122.8 490.9,1122.9 491.3,1123 491.8,1123 492.2,1123.1 492.7,1123.2 493.2,1123.2 493.6,1123.3 494.1,1123.3 494.5,1123.4 495,1123.5 495.4,1123.5 495.9,1123.6 496.4,1123.7 496.8,1123.7 497.3,1123.8 497.7,1123.8 498.2,1123.9 498.7,1124 499.1,1124 499.6,1124.1 500,1124.2 500.5,1124.2 500.9,1124.3 501.4,1124.3 501.9,1124.4 502.3,1124.5 502.8,1124.5 503.2,1124.6 503.7,1124.6 504.2,1124.7 504.6,1124.8 505.1,1124.8 505.5,1124.9 506,1125 506.4,1125 506.9,1125.1 507.4,1125.1 507.8,1125.2 508.3,1125.3 508.7,1125.3 509.2,1125.4 509.7,1125.4 510.1,1125.5 510.6,1125.6 511,1125.6 511.5,1125.7 511.9,1125.7 512.4,1125.8 512.9,1125.9 513.3,1125.9 513.8,1126 514.2,1126 514.7,1126.1 515.2,1126.2 515.6,1126.2 516.1,1126.3 516.5,1126.3 517,1126.4 517.4,1126.5 517.9,1126.5 518.4,1126.6 518.8,1126.6 519.3,1126.7 519.7,1126.8 520.2,1126.8 520.7,1126.9 521.1,1126.9 521.6,1127 522,1127 522.5,1127.1 522.9,1127.2 523.4,1127.2 523.9,1127.3 524.3,1127.3 524.8,1127.4 525.2,1127.4 525.7,1127.5 526.2,1127.6 526.6,1127.6 527.1,1127.7 527.5,1127.7 528,1127.8 528.4,1127.8 528.9,1127.9 529.4,1128 529.8,1128 530.3,1128.1 530.7,1128.1 531.2,1128.2 531.6,1128.2 532.1,1128.3 532.6,1128.3 533,1128.4 533.5,1128.4 533.9,1128.5 534.4,1128.6 534.9,1128.6 535.3,1128.7 535.8,1128.7 536.2,1128.8 536.7,1128.8 537.1,1128.9 537.6,1128.9 538.1,1129 538.5,1129 539,1129.1 539.4,1129.1 539.9,1129.2 540.4,1129.2 540.8,1129.3 541.3,1129.3 541.7,1129.4 542.2,1129.4 542.6,1129.5 543.1,1129.5 543.6,1129.6 544,1129.6 544.5,1129.6 544.9,1129.7 545.4,1129.7 545.9,1129.8 546.3,1129.8 546.8,1129.9 547.2,1129.9 547.7,1129.9 548.1,1130 548.6,1130 549.1,1130.1 549.5,1130.1 550,1130.1 550.4,1130.2 550.9,1130.2 551.4,1130.2 551.8,1130.3 552.3,1130.3 552.7,1130.3 553.2,1130.3 553.6,1130.4 554.1,1130.4 554.6,1130.4 555,1130.4 555.5,1130.4 555.9,1130.4 556.4,1130.4 556.9,1130.5 557.3,1130.5 557.8,1130.5 558.2,1130.4 558.7,1130.4 559.1,1130.4 559.6,1130.4 560.1,1130.4 560.5,1130.3 561,1130.3 561.4,1130.3 561.9,1130.2 562.4,1130.1 562.8,1130.1 563.3,1130 563.7,1129.9 564.2,1129.8 564.6,1129.6 565.1,1129.5 565.6,1129.3 566,1129.1 566.5,1128.9 566.9,1128.7 567.4,1128.4 567.9,1128 568.3,1127.7 568.8,1127.2 569.2,1126.7 569.7,1126.1 570.1,1125.4 570.6,1124.6 571.1,1123.6 571.5,1122.4 572,1120.8 572.4,1118.9 572.9,1116.2 573.4,1112.5 573.8,1107.1 574.3,1099.2 574.7,1087.9 575.2,1072.1 575.6,1050.9 576.1,1024.1 576.6,992.1 577,957 577.5,923.1 577.9,896.5 578.4,882.8 578.8,883.5 579.3,896.2 579.8,917.7 580.2,945.8 580.7,977.5 581.1,1008.9 581.6,1037 582.1,1060.4 582.5,1078.8 583,1092.6 583.4,1102.7 583.9,1109.8 584.3,1114.9 584.8,1118.4 585.3,1121 585.7,1123 586.2,1124.5 586.6,1125.8 587.1,1126.8 587.6,1127.7 588,1128.5 588.5,1129.2 588.9,1129.7 589.4,1130.3 589.8,1130.7 590.3,1131.2 590.8,1131.5 591.2,1131.9 591.7,1132.2 592.1,1132.5 592.6,1132.7 593.1,1133 593.5,1133.2 594,1133.4 594.4,1133.6 594.9,1133.8 595.3,1134 595.8,1134.2 596.3,1134.3 596.7,1134.5 597.2,1134.6 597.6,1134.7 598.1,1134.9 598.6,1135 599,1135.1 599.5,1135.2 599.9,1135.3 600.4,1135.4 600.8,1135.5 601.3,1135.6 601.8,1135.7 602.2,1135.8 602.7,1135.9 603.1,1136 603.6,1136.1 604.1,1136.1 604.5,1136.2 605,1136.3 605.4,1136.4 605.9,1136.5 606.3,1136.5 606.8,1136.6 607.3,1136.7 607.7,1136.7 608.2,1136.8 608.6,1136.9 609.1,1136.9 609.6,1137 610,1137.1 610.5,1137.1 610.9,1137.2 611.4,1137.3 611.8,1137.3 612.3,1137.4 612.8,1137.4 613.2,1137.5 613.7,1137.6 614.1,1137.6 614.6,1137.7 615.1,1137.7 615.5,1137.8 616,1137.8 616.4,1137.9 616.9,1137.9 617.3,1138 617.8,1138 618.3,1138.1 618.7,1138.2 619.2,1138.2 619.6,1138.3 620.1,1138.3 620.5,1138.4 621,1138.4 621.5,1138.4 621.9,1138.5 622.4,1138.5 622.8,1138.6 623.3,1138.6 623.8,1138.7 624.2,1138.7 624.7,1138.8 625.1,1138.8 625.6,1138.9 626,1138.9 626.5,1139 627,1139 627.4,1139 627.9,1139.1 628.3,1139.1 628.8,1139.2 629.3,1139.2 629.7,1139.2 630.2,1139.3 630.6,1139.3 631.1,1139.4 631.5,1139.4 632,1139.4 632.5,1139.5 632.9,1139.5 633.4,1139.6 633.8,1139.6 634.3,1139.6 634.8,1139.7 635.2,1139.7 635.7,1139.7 636.1,1139.8 636.6,1139.8 637,1139.8 637.5,1139.9 638,1139.9 638.4,1139.9 638.9,1139.9 639.3,1140 639.8,1140 640.3,1140 640.7,1140 641.2,1140.1 641.6,1140.1 642.1,1140.1 642.5,1140.1 643,1140.1 643.5,1140.1 643.9,1140.1 644.4,1140.1 644.8,1140.1 645.3,1140.1 645.8,1140.1 646.2,1140.1 646.7,1140.1 647.1,1140.1 647.6,1140 648,1140 648.5,1139.9 649,1139.9 649.4,1139.8 649.9,1139.7 650.3,1139.5 650.8,1139.4 651.3,1139.1 651.7,1138.8 652.2,1138.4 652.6,1137.8 653.1,1136.9 653.5,1135.6 654,1133.8 654.5,1131.3 654.9,1128.1 655.4,1124.2 655.8,1119.7 656.3,1115.1 656.8,1111 657.2,1108.2 657.7,1107.3 658.1,1108.1 658.6,1110.1 659,1113 659.5,1116.6 660,1120.7 660.4,1124.7 660.9,1128.3 661.3,1131.4 661.8,1133.8 662.3,1135.7 662.7,1137 663.2,1138 663.6,1138.7 664.1,1139.2 664.5,1139.5 665,1139.8 665.5,1140 665.9,1140.2 666.4,1140.3 666.8,1140.4 667.3,1140.5 667.7,1140.6 668.2,1140.6 668.7,1140.7 669.1,1140.7 669.6,1140.7 670,1140.8 670.5,1140.8 671,1140.8 671.4,1140.8 671.9,1140.8 672.3,1140.7 672.8,1140.7 673.2,1140.7 673.7,1140.7 674.2,1140.6 674.6,1140.6 675.1,1140.5 675.5,1140.5 676,1140.4 676.5,1140.3 676.9,1140.2 677.4,1140.1 677.8,1140 678.3,1139.9 678.7,1139.8 679.2,1139.7 679.7,1139.5 680.1,1139.4 680.6,1139.2 681,1139 681.5,1138.8 682,1138.6 682.4,1138.3 682.9,1138.1 683.3,1137.8 683.8,1137.5 684.2,1137.2 684.7,1136.8 685.2,1136.4 685.6,1136 686.1,1135.5 686.5,1134.9 687,1134.4 687.5,1133.7 687.9,1133 688.4,1132.2 688.8,1131.4 689.3,1130.4 689.7,1129.3 690.2,1128.1 690.7,1126.7 691.1,1125.1 691.6,1123.4 692,1121.3 692.5,1119 693,1116.3 693.4,1113.1 693.9,1109.4 694.3,1104.8 694.8,1099.2 695.2,1091.9 695.7,1082.1 696.2,1068.4 696.6,1048.8 697.1,1020.7 697.5,981 698,926.4 698.5,854.3 698.9,763.7 699.4,656.5 699.8,539.1 700.3,424.2 700.7,331.2 701.2,278.5 701.7,272.1 702.1,303.4 702.6,360.6 703,437.5 703.5,530.2 704,631.4 704.4,730.7 704.9,819.7 705.3,894.2 705.8,953.6 706.2,999 706.7,1032.6 707.2,1056.9 707.6,1074.2 708.1,1086.6 708.5,1095.6 709,1102.3 709.5,1107.5 709.9,1111.7 710.4,1115.1 710.8,1117.9 711.3,1120.2 711.7,1122.1 712.2,1123.6 712.7,1124.7 713.1,1125.3 713.6,1125.3 714,1124.8 714.5,1123.7 714.9,1122 715.4,1120 715.9,1117.7 716.3,1115.8 716.8,1114.7 717.2,1114.8 717.7,1115.8 718.2,1117.6 718.6,1119.9 719.1,1122.5 719.5,1125.4 720,1128.4 720.4,1131.2 720.9,1133.6 721.4,1135.6 721.8,1137.2 722.3,1138.4 722.7,1139.4 723.2,1140.1 723.7,1140.7 724.1,1141.2 724.6,1141.6 725,1141.9 725.5,1142.1 725.9,1142.4 726.4,1142.6 726.9,1142.8 727.3,1142.9 727.8,1143 728.2,1143.2 728.7,1143.2 729.2,1143.3 729.6,1143.4 730.1,1143.4 730.5,1143.4 731,1143.3 731.4,1143.2 731.9,1143.1 732.4,1142.9 732.8,1142.5 733.3,1142.1 733.7,1141.3 734.2,1140.2 734.7,1138.6 735.1,1136.3 735.6,1133.2 736,1129.1 736.5,1124 736.9,1118 737.4,1111.7 737.9,1105.7 738.3,1101.2 738.8,1099 739.2,1099.3 739.7,1101.4 740.2,1104.6 740.6,1108.9 741.1,1113.9 741.5,1119.3 742,1124.7 742.4,1129.5 742.9,1133.6 743.4,1136.9 743.8,1139.4 744.3,1141.3 744.7,1142.7 745.2,1143.8 745.7,1144.5 746.1,1145.1 746.6,1145.5 747,1145.8 747.5,1146.1 747.9,1146.4 748.4,1146.6 748.9,1146.8 749.3,1146.9 749.8,1147.1 750.2,1147.2 750.7,1147.4 751.2,1147.5 751.6,1147.6 752.1,1147.7 752.5,1147.8 753,1147.9 753.4,1148 753.9,1148 754.4,1148.1 754.8,1148.2 755.3,1148.3 755.7,1148.3 756.2,1148.4 756.7,1148.5 757.1,1148.5 757.6,1148.6 758,1148.6 758.5,1148.7 758.9,1148.7 759.4,1148.8 759.9,1148.8 760.3,1148.9 760.8,1148.9 761.2,1149 761.7,1149 762.1,1149.1 762.6,1149.1 763.1,1149.2 763.5,1149.2 764,1149.2 764.4,1149.3 764.9,1149.3 765.4,1149.4 765.8,1149.4 766.3,1149.4 766.7,1149.5 767.2,1149.5 767.6,1149.6 768.1,1149.6 768.6,1149.6 769,1149.7 769.5,1149.7 769.9,1149.7 770.4,1149.8 770.9,1149.8 771.3,1149.8 771.8,1149.9 772.2,1149.9 772.7,1149.9 773.1,1150 773.6,1150 774.1,1150 774.5,1150 775,1150.1 775.4,1150.1 775.9,1150.1 776.4,1150.2 776.8,1150.2 777.3,1150.2 777.7,1150.3 778.2,1150.3 778.6,1150.3 779.1,1150.3 779.6,1150.4 780,1150.4 780.5,1150.4 780.9,1150.4 781.4,1150.5 781.9,1150.5 782.3,1150.5 782.8,1150.5 783.2,1150.6 783.7,1150.6 784.1,1150.6 784.6,1150.6 785.1,1150.7 785.5,1150.7 786,1150.7 786.4,1150.7 786.9,1150.7 787.4,1150.8 787.8,1150.8 788.3,1150.8 788.7,1150.8 789.2,1150.8 789.6,1150.8 790.1,1150.9 790.6,1150.9 791,1150.9 791.5,1150.9 791.9,1150.9 792.4,1150.9 792.9,1150.8 793.3,1150.8 793.8,1150.7 794.2,1150.6 794.7,1150.5 795.1,1150.2 795.6,1149.9 796.1,1149.5 796.5,1149.1 797,1148.6 797.4,1148.2 797.9,1147.8 798.4,1147.7 798.8,1147.7 799.3,1147.8 799.7,1148.1 800.2,1148.4 800.6,1148.8 801.1,1149.2 801.6,1149.6 802,1150 802.5,1150.4 802.9,1150.7 803.4,1150.9 803.8,1151.1 804.3,1151.2 804.8,1151.3 805.2,1151.4 805.7,1151.5 806.1,1151.6 806.6,1151.6 807.1,1151.6 807.5,1151.7 808,1151.7 808.4,1151.7 808.9,1151.8 809.3,1151.8 809.8,1151.8 810.3,1151.8 810.7,1151.9 811.2,1151.9 811.6,1151.9 812.1,1151.9 812.6,1152 813,1152 813.5,1152 813.9,1152 814.4,1152 814.8,1152.1 815.3,1152.1 815.8,1152.1 816.2,1152.1 816.7,1152.1 817.1,1152.2 817.6,1152.2 818.1,1152.2 818.5,1152.2 819,1152.2 819.4,1152.2 819.9,1152.3 820.3,1152.3 820.8,1152.3 821.3,1152.3 821.7,1152.3 822.2,1152.3 822.6,1152.3 823.1,1152.3 823.6,1152.4 824,1152.4 824.5,1152.4 824.9,1152.4 825.4,1152.4 825.8,1152.4 826.3,1152.4 826.8,1152.4 827.2,1152.4 827.7,1152.4 828.1,1152.4 828.6,1152.4 829.1,1152.4 829.5,1152.4 830,1152.4 830.4,1152.4 830.9,1152.3 831.3,1152.3 831.8,1152.3 832.3,1152.2 832.7,1152.1 833.2,1151.9 833.6,1151.7 834.1,1151.4 834.6,1151 835,1150.4 835.5,1149.7 835.9,1148.8 836.4,1147.9 836.8,1146.9 837.3,1146.1 837.8,1145.5 838.2,1145.3 838.7,1145.5 839.1,1145.9 839.6,1146.4 840.1,1147 840.5,1147.7 841,1148.4 841.4,1149.2 841.9,1150 842.3,1150.6 842.8,1151.1 843.3,1151.6 843.7,1151.9 844.2,1152.1 844.6,1152.3 845.1,1152.4 845.6,1152.5 846,1152.6 846.5,1152.6 846.9,1152.7 847.4,1152.7 847.8,1152.7 848.3,1152.8 848.8,1152.8 849.2,1152.8 849.7,1152.8 850.1,1152.8 850.6,1152.8 851,1152.8 851.5,1152.8 852,1152.8 852.4,1152.8 852.9,1152.8 853.3,1152.8 853.8,1152.8 854.3,1152.8 854.7,1152.8 855.2,1152.8 855.6,1152.7 856.1,1152.7 856.5,1152.7 857,1152.7 857.5,1152.6 857.9,1152.6 858.4,1152.6 858.8,1152.5 859.3,1152.5 859.8,1152.4 860.2,1152.3 860.7,1152.3 861.1,1152.2 861.6,1152.1 862,1152 862.5,1151.9 863,1151.8 863.4,1151.7 863.9,1151.5 864.3,1151.4 864.8,1151.2 865.3,1151 865.7,1150.7 866.2,1150.5 866.6,1150.2 867.1,1149.8 867.5,1149.4 868,1149 868.5,1148.4 868.9,1147.8 869.4,1147 869.8,1146 870.3,1144.8 870.8,1143.2 871.2,1140.9 871.7,1137.6 872.1,1133.1 872.6,1126.7 873,1118 873.5,1106.7 874,1092.5 874.4,1075.6 874.9,1057 875.3,1038.2 875.8,1021.9 876.3,1011.1 876.7,1007.4 877.2,1010.2 877.6,1017.1 878.1,1026.2 878.5,1037 879,1049.7 879.5,1064.1 879.9,1079 880.4,1093.3 880.8,1105.9 881.3,1116.5 881.8,1125 882.2,1131.5 882.7,1136.5 883.1,1140.2 883.6,1142.8 884,1144.7 884.5,1146.2 885,1147.3 885.4,1148.1 885.9,1148.8 886.3,1149.4 886.8,1149.9 887.3,1150.3 887.7,1150.7 888.2,1151 888.6,1151.3 889.1,1151.6 889.5,1151.8 890,1152 890.5,1152.2 890.9,1152.3 891.4,1152.5 891.8,1152.6 892.3,1152.7 892.8,1152.8 893.2,1152.9 893.7,1153 894.1,1153.1 894.6,1153.1 895,1153.1 895.5,1153.1 896,1153.1 896.4,1153 896.9,1152.8 897.3,1152.6 897.8,1152.2 898.2,1151.9 898.7,1151.4 899.2,1151 899.6,1150.7 900.1,1150.5 900.5,1150.4 901,1150.6 901.5,1150.8 901.9,1151.1 902.4,1151.4 902.8,1151.7 903.3,1152.1 903.7,1152.5 904.2,1152.9 904.7,1153.3 905.1,1153.6 905.6,1153.8 906,1154 906.5,1154.2 907,1154.3 907.4,1154.4 907.9,1154.4 908.3,1154.5 908.8,1154.6 909.2,1154.6 909.7,1154.6 910.2,1154.7 910.6,1154.7 911.1,1154.7 911.5,1154.8 912,1154.8 912.5,1154.8 912.9,1154.9 913.4,1154.9 913.8,1154.9 914.3,1154.9 914.7,1154.9 915.2,1155 915.7,1155 916.1,1155 916.6,1155 917,1155 917.5,1155.1 918,1155.1 918.4,1155.1 918.9,1155.1 919.3,1155.1 919.8,1155.1 920.2,1155.2 920.7,1155.2 921.2,1155.2 921.6,1155.2 922.1,1155.2 922.5,1155.2 923,1155.2 923.5,1155.3 923.9,1155.3 924.4,1155.3 924.8,1155.3 925.3,1155.3 925.7,1155.3 926.2,1155.3 926.7,1155.4 927.1,1155.4 927.6,1155.4 928,1155.4 928.5,1155.4 929,1155.4 929.4,1155.4 929.9,1155.4 930.3,1155.4 930.8,1155.5 931.2,1155.5 931.7,1155.5 932.2,1155.5 932.6,1155.5 933.1,1155.5 933.5,1155.5 934,1155.5 934.5,1155.5 934.9,1155.6 935.4,1155.6 935.8,1155.6 936.3,1155.6 936.7,1155.6 937.2,1155.6 937.7,1155.6 938.1,1155.6 938.6,1155.6 939,1155.6 939.5,1155.7 940,1155.7 940.4,1155.7 940.9,1155.7 941.3,1155.7 941.8,1155.7 942.2,1155.7 942.7,1155.7 943.2,1155.7 943.6,1155.7 944.1,1155.8 944.5,1155.8 945,1155.8 945.4,1155.8 945.9,1155.8 946.4,1155.8 946.8,1155.8 947.3,1155.8 947.7,1155.8 948.2,1155.8 948.7,1155.8 949.1,1155.8 949.6,1155.9 950,1155.9 950.5,1155.9 950.9,1155.9 951.4,1155.9 951.9,1155.9 952.3,1155.9 952.8,1155.9 953.2,1155.9 953.7,1155.9 954.2,1155.9 954.6,1155.9 955.1,1155.9 955.5,1155.9 956,1155.9 956.4,1156 956.9,1156 957.4,1156 957.8,1156 958.3,1156 958.7,1156 959.2,1156 959.7,1156 960.1,1156 960.6,1156 961,1156 961.5,1156 961.9,1156 962.4,1156 962.9,1156 963.3,1156 963.8,1156 964.2,1156 964.7,1155.9 965.2,1155.9 965.6,1155.9 966.1,1155.8 966.5,1155.7 967,1155.5 967.4,1155.4 967.9,1155.1 968.4,1154.9 968.8,1154.6 969.3,1154.3 969.7,1154.1 970.2,1154 970.7,1154 971.1,1154 971.6,1154.1 972,1154.3 972.5,1154.4 972.9,1154.6 973.4,1154.8 973.9,1155 974.3,1155.2 974.8,1155.4 975.2,1155.6 975.7,1155.8 976.2,1155.9 976.6,1156 977.1,1156.1 977.5,1156.1 978,1156.1 978.4,1156.2 978.9,1156.2 979.4,1156.2 979.8,1156.2 980.3,1156.3 980.7,1156.3 981.2,1156.3 981.7,1156.3 982.1,1156.3 982.6,1156.3 983,1156.3 983.5,1156.3 983.9,1156.4 984.4,1156.4 984.9,1156.4 985.3,1156.4 985.8,1156.4 986.2,1156.4 986.7,1156.4 987.1,1156.4 987.6,1156.4 988.1,1156.4 988.5,1156.4 989,1156.4 989.4,1156.4 989.9,1156.4 990.4,1156.5 990.8,1156.5 991.3,1156.5 991.7,1156.5 992.2,1156.5 992.6,1156.5 993.1,1156.5 993.6,1156.5 994,1156.5 994.5,1156.5 994.9,1156.5 995.4,1156.5 995.9,1156.5 996.3,1156.5 996.8,1156.5 997.2,1156.5 997.7,1156.5 998.1,1156.5 998.6,1156.6 999.1,1156.6 999.5,1156.6 1000,1156.6 1000.4,1156.6 1000.9,1156.6 1001.4,1156.6 1001.8,1156.6 1002.3,1156.6 1002.7,1156.6 1003.2,1156.6 1003.6,1156.6 1004.1,1156.6 1004.6,1156.6 1005,1156.6 1005.5,1156.6 1005.9,1156.6 1006.4,1156.6 1006.9,1156.6 1007.3,1156.6 1007.8,1156.6 1008.2,1156.6 1008.7,1156.7 1009.1,1156.7 1009.6,1156.7 1010.1,1156.7 1010.5,1156.7 1011,1156.7 1011.4,1156.7 1011.9,1156.7 1012.4,1156.7 1012.8,1156.7 1013.3,1156.7 1013.7,1156.7 1014.2,1156.7 1014.6,1156.7 1015.1,1156.7 1015.6,1156.7 1016,1156.7 1016.5,1156.7 1016.9,1156.7 1017.4,1156.7 1017.9,1156.7 1018.3,1156.7 1018.8,1156.7 1019.2,1156.7 1019.7,1156.7 1020.1,1156.7 1020.6,1156.7 1021.1,1156.7 1021.5,1156.7 1022,1156.7 1022.4,1156.7 1022.9,1156.7 1023.4,1156.7 1023.8,1156.7 1024.3,1156.7 1024.7,1156.7 1025.2,1156.7 1025.6,1156.7 1026.1,1156.7 1026.6,1156.7 1027,1156.7 1027.5,1156.7 1027.9,1156.7 1028.4,1156.6 1028.9,1156.6 1029.3,1156.6 1029.8,1156.6 1030.2,1156.5 1030.7,1156.5 1031.1,1156.5 1031.6,1156.4 1032.1,1156.3 1032.5,1156.2 1033,1156.1 1033.4,1155.9 1033.9,1155.6 1034.3,1155.3 1034.8,1154.8 1035.3,1154.1 1035.7,1153.4 1036.2,1152.5 1036.6,1151.5 1037.1,1150.6 1037.6,1149.9 1038,1149.5 1038.5,1149.5 1038.9,1149.7 1039.4,1150 1039.8,1150.5 1040.3,1150.9 1040.8,1151.4 1041.2,1152 1041.7,1152.6 1042.1,1153.3 1042.6,1154 1043.1,1154.5 1043.5,1155 1044,1155.5 1044.4,1155.8 1044.9,1156 1045.3,1156.2 1045.8,1156.4 1046.3,1156.5 1046.7,1156.5 1047.2,1156.6 1047.6,1156.6 1048.1,1156.7 1048.6,1156.7 1049,1156.7 1049.5,1156.8 1049.9,1156.8 1050.4,1156.8 1050.8,1156.8 1051.3,1156.8 1051.8,1156.9 1052.2,1156.9 1052.7,1156.9 1053.1,1156.9 1053.6,1156.9 1054.1,1156.9 1054.5,1156.9 1055,1156.9 1055.4,1156.9 1055.9,1156.9 1056.3,1157 1056.8,1157 1057.3,1157 1057.7,1157 1058.2,1157 1058.6,1157 1059.1,1157 1059.6,1157 1060,1157 1060.5,1157 1060.9,1157 1061.4,1157 1061.8,1157 1062.3,1157 1062.8,1157 1063.2,1157 1063.7,1157 1064.1,1157 1064.6,1157 1065.1,1157 1065.5,1157 1066,1157 1066.4,1157 1066.9,1157 1067.3,1157 1067.8,1157 1068.3,1157 1068.7,1157 1069.2,1157 1069.6,1157 1070.1,1157 1070.6,1157 1071,1157 1071.5,1157 1071.9,1157 1072.4,1157 1072.8,1157 1073.3,1157 1073.8,1157 1074.2,1157 1074.7,1157 1075.1,1157 1075.6,1157 1076.1,1157 1076.5,1157 1077,1157 1077.4,1157 1077.9,1157 1078.3,1157 1078.8,1157 1079.3,1157 1079.7,1157 1080.2,1157 1080.6,1157 1081.1,1157 1081.5,1157 1082,1157 1082.5,1157 1082.9,1157 1083.4,1157 1083.8,1157 1084.3,1157 1084.8,1157 1085.2,1157 1085.7,1157 1086.1,1157 1086.6,1156.9 1087,1156.9 1087.5,1156.9 1088,1156.9 1088.4,1156.9 1088.9,1156.9 1089.3,1156.9 1089.8,1156.9 1090.3,1156.9 1090.7,1156.9 1091.2,1156.8 1091.6,1156.8 1092.1,1156.8 1092.5,1156.8 1093,1156.8 1093.5,1156.8 1093.9,1156.7 1094.4,1156.7 1094.8,1156.7 1095.3,1156.7 1095.8,1156.6 1096.2,1156.6 1096.7,1156.6 1097.1,1156.5 1097.6,1156.5 1098,1156.5 1098.5,1156.4 1099,1156.4 1099.4,1156.3 1099.9,1156.2 1100.3,1156.2 1100.8,1156.1 1101.3,1156 1101.7,1156 1102.2,1155.9 1102.6,1155.8 1103.1,1155.6 1103.5,1155.5 1104,1155.4 1104.5,1155.2 1104.9,1155 1105.4,1154.8 1105.8,1154.6 1106.3,1154.3 1106.8,1153.9 1107.2,1153.5 1107.7,1153 1108.1,1152.4 1108.6,1151.5 1109,1150.3 1109.5,1148.7 1110,1146.4 1110.4,1143.3 1110.9,1139.2 1111.3,1133.8 1111.8,1127.3 1112.3,1119.6 1112.7,1111.1 1113.2,1102.4 1113.6,1094.8 1114.1,1089.3 1114.5,1087 1115,1087.8 1115.5,1090.7 1115.9,1094.5 1116.4,1098.4 1116.8,1102.2 1117.3,1106.4 1117.8,1111.1 1118.2,1116.7 1118.7,1122.6 1119.1,1128.5 1119.6,1133.8 1120,1138.5 1120.5,1142.4 1121,1145.5 1121.4,1147.9 1121.9,1149.7 1122.3,1151.1 1122.8,1152.1 1123.3,1152.8 1123.7,1153.4 1124.2,1153.8 1124.6,1154.2 1125.1,1154.5 1125.5,1154.7 1126,1154.9 1126.5,1155.1 1126.9,1155.2 1127.4,1155.3 1127.8,1155.4 1128.3,1155.5 1128.7,1155.6 1129.2,1155.7 1129.7,1155.8 1130.1,1155.8 1130.6,1155.9 1131,1155.9 1131.5,1155.9 1132,1155.9 1132.4,1156 1132.9,1156 1133.3,1155.9 1133.8,1155.9 1134.2,1155.9 1134.7,1155.9 1135.2,1155.8 1135.6,1155.8 1136.1,1155.7 1136.5,1155.6 1137,1155.5 1137.5,1155.3 1137.9,1155.1 1138.4,1154.8 1138.8,1154.4 1139.3,1153.8 1139.7,1153 1140.2,1152 1140.7,1150.5 1141.1,1148.7 1141.6,1146.4 1142,1143.8 1142.5,1140.9 1143,1138 1143.4,1135.4 1143.9,1133.7 1144.3,1133.1 1144.8,1133.4 1145.2,1134.5 1145.7,1135.8 1146.2,1137.1 1146.6,1138.4 1147.1,1139.7 1147.5,1141.2 1148,1143 1148.5,1145 1148.9,1147 1149.4,1148.8 1149.8,1150.4 1150.3,1151.7 1150.7,1152.8 1151.2,1153.7 1151.7,1154.3 1152.1,1154.8 1152.6,1155.2 1153,1155.4 1153.5,1155.6 1154,1155.8 1154.4,1155.9 1154.9,1156 1155.3,1156.1 1155.8,1156.2 1156.2,1156.2 1156.7,1156.3 1157.2,1156.3 1157.6,1156.3 1158.1,1156.4 1158.5,1156.4 1159,1156.4 1159.5,1156.4 1159.9,1156.4 1160.4,1156.4 1160.8,1156.5 1161.3,1156.5 1161.7,1156.5 1162.2,1156.5 1162.7,1156.5 1163.1,1156.5 1163.6,1156.4 1164,1156.4 1164.5,1156.4 1165,1156.4 1165.4,1156.4 1165.9,1156.4 1166.3,1156.4 1166.8,1156.3 1167.2,1156.3 1167.7,1156.3 1168.2,1156.3 1168.6,1156.2 1169.1,1156.2 1169.5,1156.2 1170,1156.1 1170.4,1156.1 1170.9,1156.1 1171.4,1156 1171.8,1156 1172.3,1155.9 1172.7,1155.9 1173.2,1155.8 1173.7,1155.7 1174.1,1155.7 1174.6,1155.6 1175,1155.5 1175.5,1155.4 1175.9,1155.4 1176.4,1155.3 1176.9,1155.2 1177.3,1155 1177.8,1154.9 1178.2,1154.8 1178.7,1154.7 1179.2,1154.5 1179.6,1154.3 1180.1,1154.2 1180.5,1154 1181,1153.8 1181.4,1153.5 1181.9,1153.3 1182.4,1153 1182.8,1152.7 1183.3,1152.3 1183.7,1151.9 1184.2,1151.5 1184.7,1151 1185.1,1150.5 1185.6,1149.9 1186,1149.2 1186.5,1148.4 1186.9,1147.5 1187.4,1146.5 1187.9,1145.2 1188.3,1143.6 1188.8,1141.7 1189.2,1139.1 1189.7,1135.7 1190.2,1131 1190.6,1124.5 1191.1,1115.6 1191.5,1103.5 1192,1087.8 1192.4,1067.8 1192.9,1043.8 1193.4,1016.2 1193.8,986.5 1194.3,957.4 1194.7,932.8 1195.2,916.9 1195.7,912.2 1196.1,917.6 1196.6,929.2 1197,942.9 1197.5,956.1 1197.9,968.3 1198.4,980.6 1198.9,994.6 1199.3,1011.5 1199.8,1030.6 1200.2,1050.3 1200.7,1069 1201.2,1085.8 1201.6,1100.2 1202.1,1112 1202.5,1121.4 1203,1128.6 1203.4,1134.1 1203.9,1138.1 1204.4,1141.1 1204.8,1143.4 1205.3,1145.1 1205.7,1146.5 1206.2,1147.6 1206.7,1148.6 1207.1,1149.4 1207.6,1150 1208,1150.6 1208.5,1151.2 1208.9,1151.6 1209.4,1152.1 1209.9,1152.4 1210.3,1152.8 1210.8,1153.1 1211.2,1153.4 1211.7,1153.6 1212.2,1153.8 1212.6,1154 1213.1,1154.2 1213.5,1154.4 1214,1154.5 1214.4,1154.7 1214.9,1154.8 1215.4,1154.9 1215.8,1155 1216.3,1155.1 1216.7,1155.2 1217.2,1155.3 1217.6,1155.3 1218.1,1155.4 1218.6,1155.4 1219,1155.4 1219.5,1155.4 1219.9,1155.3 1220.4,1155.2 1220.9,1155 1221.3,1154.7 1221.8,1154.3 1222.2,1153.9 1222.7,1153.3 1223.1,1152.7 1223.6,1152.1 1224.1,1151.6 1224.5,1151.1 1225,1150.9 1225.4,1150.9 1225.9,1151 1226.4,1151.3 1226.8,1151.6 1227.3,1151.9 1227.7,1152.3 1228.2,1152.6 1228.6,1153 1229.1,1153.4 1229.6,1153.8 1230,1154.3 1230.5,1154.7 1230.9,1155.2 1231.4,1155.5 1231.9,1155.8 1232.3,1156.1 1232.8,1156.3 1233.2,1156.4 1233.7,1156.5 1234.1,1156.6 1234.6,1156.7 1235.1,1156.8 1235.5,1156.8 1236,1156.9 1236.4,1156.9 1236.9,1156.9 1237.4,1157 1237.8,1157 1238.3,1157 1238.7,1157 1239.2,1157.1 1239.6,1157.1 1240.1,1157.1 1240.6,1157.1 1241,1157.1 1241.5,1157.1 1241.9,1157.2 1242.4,1157.2 1242.9,1157.2 1243.3,1157.2 1243.8,1157.2 1244.2,1157.2 1244.7,1157.2 1245.1,1157.2 1245.6,1157.2 1246.1,1157.3 1246.5,1157.3 1247,1157.3 1247.4,1157.3 1247.9,1157.3 1248.4,1157.3 1248.8,1157.3 1249.3,1157.3 1249.7,1157.3 1250.2,1157.3 1250.6,1157.3 1251.1,1157.3 1251.6,1157.3 1252,1157.3 1252.5,1157.3 1252.9,1157.3 1253.4,1157.3 1253.9,1157.3 1254.3,1157.4 1254.8,1157.4 1255.2,1157.4 1255.7,1157.4 1256.1,1157.4 1256.6,1157.4 1257.1,1157.4 1257.5,1157.4 1258,1157.4 1258.4,1157.4 1258.9,1157.4 1259.4,1157.4 1259.8,1157.4 1260.3,1157.4 1260.7,1157.4 1261.2,1157.4 1261.6,1157.4 1262.1,1157.4 1262.6,1157.4 1263,1157.4 1263.5,1157.4 1263.9,1157.4 1264.4,1157.4 1264.8,1157.4 1265.3,1157.4 1265.8,1157.4 1266.2,1157.4 1266.7,1157.4 1267.1,1157.4 1267.6,1157.4 1268.1,1157.4 1268.5,1157.4 1269,1157.4 1269.4,1157.4 1269.9,1157.4 1270.3,1157.4 1270.8,1157.4 1271.3,1157.4 1271.7,1157.4 1272.2,1157.3 1272.6,1157.3 1273.1,1157.3 1273.6,1157.3 1274,1157.3 1274.5,1157.3 1274.9,1157.3 1275.4,1157.3 1275.8,1157.3 1276.3,1157.3 1276.8,1157.3 1277.2,1157.3 1277.7,1157.3 1278.1,1157.3 1278.6,1157.3 1279.1,1157.3 1279.5,1157.3 1280,1157.3 1280.4,1157.2 1280.9,1157.2 1281.3,1157.2 1281.8,1157.2 1282.3,1157.2 1282.7,1157.2 1283.2,1157.2 1283.6,1157.2 1284.1,1157.2 1284.6,1157.2 1285,1157.1 1285.5,1157.1 1285.9,1157.1 1286.4,1157.1 1286.8,1157.1 1287.3,1157.1 1287.8,1157.1 1288.2,1157 1288.7,1157 1289.1,1157 1289.6,1157 1290.1,1157 1290.5,1156.9 1291,1156.9 1291.4,1156.9 1291.9,1156.9 1292.3,1156.9 1292.8,1156.8 1293.3,1156.8 1293.7,1156.8 1294.2,1156.7 1294.6,1156.7 1295.1,1156.7 1295.6,1156.6 1296,1156.6 1296.5,1156.6 1296.9,1156.5 1297.4,1156.5 1297.8,1156.5 1298.3,1156.4 1298.8,1156.4 1299.2,1156.3 1299.7,1156.3 1300.1,1156.2 1300.6,1156.1 1301.1,1156.1 1301.5,1156 1302,1155.9 1302.4,1155.9 1302.9,1155.8 1303.3,1155.7 1303.8,1155.6 1304.3,1155.5 1304.7,1155.4 1305.2,1155.3 1305.6,1155.2 1306.1,1155 1306.6,1154.9 1307,1154.7 1307.5,1154.6 1307.9,1154.4 1308.4,1154.2 1308.8,1154 1309.3,1153.8 1309.8,1153.5 1310.2,1153.2 1310.7,1152.9 1311.1,1152.6 1311.6,1152.2 1312,1151.8 1312.5,1151.4 1313,1150.9 1313.4,1150.3 1313.9,1149.7 1314.3,1148.9 1314.8,1148.1 1315.3,1147.1 1315.7,1146 1316.2,1144.7 1316.6,1143 1317.1,1140.9 1317.5,1138.2 1318,1134.5 1318.5,1129.6 1318.9,1122.7 1319.4,1113.4 1319.8,1101 1320.3,1084.9 1320.8,1064.7 1321.2,1040.6 1321.7,1013.1 1322.1,983.7 1322.6,954.9 1323,930.4 1323.5,914.4 1324,909.4 1324.4,914.8 1324.9,927 1325.3,941.6 1325.8,955.5 1326.3,967.3 1326.7,977.1 1327.2,986.7 1327.6,998.1 1328.1,1012.5 1328.5,1029.6 1329,1048 1329.5,1066 1329.9,1082.5 1330.4,1096.9 1330.8,1109 1331.3,1118.8 1331.8,1126.5 1332.2,1132.4 1332.7,1136.8 1333.1,1140.1 1333.6,1142.5 1334,1144.4 1334.5,1145.9 1335,1147 1335.4,1148 1335.9,1148.8 1336.3,1149.4 1336.8,1149.9 1337.3,1150.3 1337.7,1150.6 1338.2,1150.8 1338.6,1150.8 1339.1,1150.8 1339.5,1150.7 1340,1150.6 1340.5,1150.4 1340.9,1150.4 1341.4,1150.4 1341.8,1150.6 1342.3,1150.9 1342.8,1151.3 1343.2,1151.7 1343.7,1152 1344.1,1152.3 1344.6,1152.6 1345,1152.9 1345.5,1153.2 1346,1153.5 1346.4,1153.9 1346.9,1154.2 1347.3,1154.6 1347.8,1154.9 1348.3,1155.2 1348.7,1155.4 1349.2,1155.6 1349.6,1155.8 1350.1,1155.9 1350.5,1156 1351,1156.1 1351.5,1156.2 1351.9,1156.3 1352.4,1156.4 1352.8,1156.4 1353.3,1156.5 1353.7,1156.5 1354.2,1156.6 1354.7,1156.6 1355.1,1156.7 1355.6,1156.7 1356,1156.7 1356.5,1156.8 1357,1156.8 1357.4,1156.8 1357.9,1156.9 1358.3,1156.9 1358.8,1156.9 1359.2,1156.9 1359.7,1157 1360.2,1157 1360.6,1157 1361.1,1157 1361.5,1157 1362,1157.1 1362.5,1157.1 1362.9,1157.1 1363.4,1157.1 1363.8,1157.1 1364.3,1157.1 1364.7,1157.1 1365.2,1157.1 1365.7,1157.2 1366.1,1157.2 1366.6,1157.2 1367,1157.2 1367.5,1157.2 1368,1157.2 1368.4,1157.2 1368.9,1157.2 1369.3,1157.2 1369.8,1157.2 1370.2,1157.2 1370.7,1157.1 1371.2,1157.1 1371.6,1157.1 1372.1,1157.1 1372.5,1157 1373,1157 1373.5,1156.9 1373.9,1156.8 1374.4,1156.6 1374.8,1156.4 1375.3,1156.2 1375.7,1155.8 1376.2,1155.4 1376.7,1154.9 1377.1,1154.2 1377.6,1153.6 1378,1153 1378.5,1152.4 1379,1152 1379.4,1151.9 1379.9,1152 1380.3,1152.3 1380.8,1152.6 1381.2,1153 1381.7,1153.2 1382.2,1153.4 1382.6,1153.6 1383.1,1153.8 1383.5,1154.1 1384,1154.4 1384.5,1154.8 1384.9,1155.2 1385.4,1155.6 1385.8,1155.9 1386.3,1156.2 1386.7,1156.4 1387.2,1156.6 1387.7,1156.7 1388.1,1156.8 1388.6,1156.9 1389,1156.9 1389.5,1157 1390,1157 1390.4,1156.9 1390.9,1156.9 1391.3,1156.8 1391.8,1156.7 1392.2,1156.6 1392.7,1156.4 1393.2,1156.1 1393.6,1155.8 1394.1,1155.3 1394.5,1154.7 1395,1153.9 1395.5,1153 1395.9,1152.1 1396.4,1151.2 1396.8,1150.3 1397.3,1149.7 1397.7,1149.5 1398.2,1149.6 1398.7,1150 1399.1,1150.5 1399.6,1151 1400,1151.4 1400.5,1151.7 1400.9,1152 1401.4,1152.2 1401.9,1152.6 1402.3,1153 1402.8,1153.6 1403.2,1154.2 1403.7,1154.7 1404.2,1155.3 1404.6,1155.7 1405.1,1156.1 1405.5,1156.4 1406,1156.7 1406.4,1156.9 1406.9,1157 1407.4,1157.1 1407.8,1157.2 1408.3,1157.3 1408.7,1157.3 1409.2,1157.3 1409.7,1157.4 1410.1,1157.4 1410.6,1157.4 1411,1157.4 1411.5,1157.5 1411.9,1157.5 1412.4,1157.5 1412.9,1157.5 1413.3,1157.5 1413.8,1157.5 1414.2,1157.5 1414.7,1157.5 1415.2,1157.5 1415.6,1157.4 1416.1,1157.4 1416.5,1157.4 1417,1157.3 1417.4,1157.2 1417.9,1157.1 1418.4,1157 1418.8,1156.8 1419.3,1156.6 1419.7,1156.4 1420.2,1156.1 1420.7,1155.8 1421.1,1155.5 1421.6,1155.2 1422,1155 1422.5,1154.8 1422.9,1154.7 1423.4,1154.5 1423.9,1154.4 1424.3,1154.3 1424.8,1154.2 1425.2,1154.3 1425.7,1154.4 1426.2,1154.6 1426.6,1154.8 1427.1,1155.1 1427.5,1155.3 1428,1155.5 1428.4,1155.7 1428.9,1155.9 1429.4,1156.1 1429.8,1156.3 1430.3,1156.5 1430.7,1156.7 1431.2,1156.9 1431.7,1157 1432.1,1157.2 1432.6,1157.3 1433,1157.4 1433.5,1157.5 1433.9,1157.5 1434.4,1157.6 1434.9,1157.6 1435.3,1157.6 1435.8,1157.7 1436.2,1157.7 1436.7,1157.7 1437.2,1157.7 1437.6,1157.7 1438.1,1157.7 1438.5,1157.7 1439,1157.7 1439.4,1157.7 1439.9,1157.8 1440.4,1157.8 1440.8,1157.8 1441.3,1157.8 1441.7,1157.8 1442.2,1157.8 1442.7,1157.8 1443.1,1157.8 1443.6,1157.8 1444,1157.8 1444.5,1157.8 1444.9,1157.8 1445.4,1157.8 1445.9,1157.8 1446.3,1157.8 1446.8,1157.8 1447.2,1157.8 1447.7,1157.8 1448.1,1157.8 1448.6,1157.8 1449.1,1157.8 1449.5,1157.8 1450,1157.8 1450.4,1157.8 1450.9,1157.8 1451.4,1157.8 1451.8,1157.8 1452.3,1157.8 1452.7,1157.8 1453.2,1157.8 1453.6,1157.8 1454.1,1157.8 1454.6,1157.8 1455,1157.8 1455.5,1157.8 1455.9,1157.8 1456.4,1157.8 1456.9,1157.8 1457.3,1157.8 1457.8,1157.8 1458.2,1157.8 1458.7,1157.8 1459.1,1157.8 1459.6,1157.8 1460.1,1157.8 1460.5,1157.8 1461,1157.8 1461.4,1157.8 1461.9,1157.8 1462.4,1157.9 1462.8,1157.9 1463.3,1157.9 1463.7,1157.9 1464.2,1157.9 1464.6,1157.9 1465.1,1157.9 1465.6,1157.9 1466,1157.9 1466.5,1157.9 1466.9,1157.9 1467.4,1157.9 1467.9,1157.9 1468.3,1157.9 1468.8,1157.9 1469.2,1157.9 1469.7,1157.9 1470.1,1157.9 1470.6,1157.9 1471.1,1157.9 1471.5,1157.8 1472,1157.8 1472.4,1157.8 1472.9,1157.8 1473.4,1157.8 1473.8,1157.8 1474.3,1157.8 1474.7,1157.8 1475.2,1157.8 1475.6,1157.8 1476.1,1157.8 1476.6,1157.8 1477,1157.8 1477.5,1157.8 1477.9,1157.8 1478.4,1157.8 1478.9,1157.8 1479.3,1157.8 1479.8,1157.8 1480.2,1157.8 1480.7,1157.8 1481.1,1157.8 1481.6,1157.8 1482.1,1157.8 1482.5,1157.8 1483,1157.8 1483.4,1157.8 1483.9,1157.8 1484.4,1157.8 1484.8,1157.8 1485.3,1157.8 1485.7,1157.8 1486.2,1157.8 1486.6,1157.8 1487.1,1157.8 1487.6,1157.8 1488,1157.8 1488.5,1157.8 1488.9,1157.8 1489.4,1157.8 1489.9,1157.8 1490.3,1157.8 1490.8,1157.8 1491.2,1157.8 1491.7,1157.8 1492.1,1157.8 1492.6,1157.7 1493.1,1157.7 1493.5,1157.7 1494,1157.7 1494.4,1157.7 1494.9,1157.7 1495.3,1157.7 1495.8,1157.7 1496.3,1157.7 1496.7,1157.7 1497.2,1157.6 1497.6,1157.6 1498.1,1157.6 1498.6,1157.6 1499,1157.6 1499.5,1157.5 1499.9,1157.5 1500.4,1157.4 1500.8,1157.4 1501.3,1157.3 1501.8,1157.2 1502.2,1157.1 1502.7,1156.9 1503.1,1156.7 1503.6,1156.5 1504.1,1156.2 1504.5,1156 1505,1155.8 1505.4,1155.6 1505.9,1155.6 1506.3,1155.6 1506.8,1155.6 1507.3,1155.7 1507.7,1155.7 1508.2,1155.8 1508.6,1155.8 1509.1,1155.7 1509.6,1155.7 1510,1155.6 1510.5,1155.5 1510.9,1155.4 1511.4,1155.2 1511.8,1154.9 1512.3,1154.4 1512.8,1153.8 1513.2,1152.9 1513.7,1151.8 1514.1,1150.4 1514.6,1148.8 1515.1,1147 1515.5,1145.1 1516,1143.3 1516.4,1141.9 1516.9,1141.2 1517.3,1141.2 1517.8,1141.8 1518.3,1142.8 1518.7,1144 1519.2,1145 1519.6,1145.7 1520.1,1146.3 1520.6,1146.7 1521,1147 1521.5,1147.5 1521.9,1148.2 1522.4,1149.1 1522.8,1150.2 1523.3,1151.3 1523.8,1152.4 1524.2,1153.4 1524.7,1154.2 1525.1,1154.9 1525.6,1155.5 1526.1,1155.9 1526.5,1156.3 1527,1156.5 1527.4,1156.7 1527.9,1156.9 1528.3,1157 1528.8,1157.1 1529.3,1157.1 1529.7,1157.2 1530.2,1157.3 1530.6,1157.3 1531.1,1157.3 1531.6,1157.4 1532,1157.4 1532.5,1157.4 1532.9,1157.5 1533.4,1157.5 1533.8,1157.5 1534.3,1157.5 1534.8,1157.5 1535.2,1157.5 1535.7,1157.6 1536.1,1157.6 1536.6,1157.6 1537,1157.6 1537.5,1157.6 1538,1157.6 1538.4,1157.6 1538.9,1157.6 1539.3,1157.6 1539.8,1157.6 1540.3,1157.6 1540.7,1157.6 1541.2,1157.6 1541.6,1157.6 1542.1,1157.6 1542.5,1157.6 1543,1157.6 1543.5,1157.6 1543.9,1157.6 1544.4,1157.6 1544.8,1157.6 1545.3,1157.6 1545.8,1157.6 1546.2,1157.6 1546.7,1157.6 1547.1,1157.6 1547.6,1157.6 1548,1157.6 1548.5,1157.6 1549,1157.5 1549.4,1157.5 1549.9,1157.5 1550.3,1157.5 1550.8,1157.5 1551.3,1157.5 1551.7,1157.4 1552.2,1157.4 1552.6,1157.3 1553.1,1157.3 1553.5,1157.2 1554,1157 1554.5,1156.9 1554.9,1156.7 1555.4,1156.5 1555.8,1156.2 1556.3,1155.8 1556.8,1155.5 1557.2,1155.1 1557.7,1154.8 1558.1,1154.6 1558.6,1154.5 1559,1154.5 1559.5,1154.7 1560,1154.8 1560.4,1155 1560.9,1155.1 1561.3,1155.2 1561.8,1155.2 1562.3,1155.2 1562.7,1155.2 1563.2,1155.1 1563.6,1155.1 1564.1,1155 1564.5,1155 1565,1154.9 1565.5,1154.7 1565.9,1154.6 1566.4,1154.3 1566.8,1154.2 1567.3,1154 1567.8,1154 1568.2,1154.1 1568.7,1154.2 1569.1,1154.4 1569.6,1154.6 1570,1154.8 1570.5,1154.9 1571,1154.9 1571.4,1154.9 1571.9,1155 1572.3,1155 1572.8,1155 1573.3,1155.1 1573.7,1155.2 1574.2,1155.3 1574.6,1155.5 1575.1,1155.5 1575.5,1155.6 1576,1155.6 1576.5,1155.6 1576.9,1155.5 1577.4,1155.4 1577.8,1155.2 1578.3,1155.1 1578.8,1154.8 1579.2,1154.5 1579.7,1154.1 1580.1,1153.6 1580.6,1152.9 1581,1152 1581.5,1150.8 1582,1149.1 1582.4,1146.9 1582.9,1144 1583.3,1140.4 1583.8,1135.9 1584.2,1130.8 1584.7,1125 1585.2,1119 1585.6,1113.3 1586.1,1108.6 1586.5,1105.7 1587,1105.1 1587.5,1106.7 1587.9,1109.7 1588.4,1113.3 1588.8,1116.8 1589.3,1119.6 1589.7,1121.7 1590.2,1122.9 1590.7,1123.8 1591.1,1124.5 1591.6,1125.8 1592,1127.8 1592.5,1130.6 1593,1133.9 1593.4,1137.3 1593.9,1140.5 1594.3,1143.5 1594.8,1146.1 1595.2,1148.2 1595.7,1150 1596.2,1151.3 1596.6,1152.3 1597.1,1153.1 1597.5,1153.7 1598,1154.1 1598.5,1154.4 1598.9,1154.6 1599.4,1154.8 1599.8,1154.9 1600.3,1155 1600.7,1155 1601.2,1155 1601.7,1155 1602.1,1154.9 1602.6,1154.8 1603,1154.6 1603.5,1154.3 1604,1153.9 1604.4,1153.3 1604.9,1152.5 1605.3,1151.4 1605.8,1149.9 1606.2,1148.1 1606.7,1145.8 1607.2,1143.1 1607.6,1140 1608.1,1136.8 1608.5,1133.6 1609,1130.9 1609.5,1129.1 1609.9,1128.5 1610.4,1129.2 1610.8,1130.7 1611.3,1132.7 1611.7,1134.7 1612.2,1136.4 1612.7,1137.7 1613.1,1138.5 1613.6,1139 1614,1139.4 1614.5,1139.9 1615,1140.8 1615.4,1142.1 1615.9,1143.8 1616.3,1145.7 1616.8,1147.5 1617.2,1149.3 1617.7,1150.8 1618.2,1152.1 1618.6,1153.2 1619.1,1154 1619.5,1154.7 1620,1155.2 1620.5,1155.6 1620.9,1155.9 1621.4,1156.1 1621.8,1156.3 1622.3,1156.4 1622.7,1156.6 1623.2,1156.7 1623.7,1156.7 1624.1,1156.8 1624.6,1156.9 1625,1156.9 1625.5,1157 1626,1157.1 1626.4,1157.1 1626.9,1157.1 1627.3,1157.2 1627.8,1157.2 1628.2,1157.2 1628.7,1157.2 1629.2,1157.3 1629.6,1157.3 1630.1,1157.3 1630.5,1157.3 1631,1157.3 1631.4,1157.3 1631.9,1157.3 1632.4,1157.3 1632.8,1157.3 1633.3,1157.2 1633.7,1157.2 1634.2,1157.1 1634.7,1157 1635.1,1156.8 1635.6,1156.7 1636,1156.5 1636.5,1156.3 1636.9,1156.1 1637.4,1155.9 1637.9,1155.8 1638.3,1155.7 1638.8,1155.8 1639.2,1155.9 1639.7,1156 1640.2,1156.1 1640.6,1156.2 1641.1,1156.3 1641.5,1156.3 1642,1156.3 1642.4,1156.3 1642.9,1156.2 1643.4,1156.2 1643.8,1156.1 1644.3,1156.1 1644.7,1156 1645.2,1155.9 1645.7,1155.8 1646.1,1155.7 1646.6,1155.5 1647,1155.4 1647.5,1155.3 1647.9,1155.4 1648.4,1155.4 1648.9,1155.6 1649.3,1155.8 1649.8,1156 1650.2,1156.1 1650.7,1156.2 1651.2,1156.3 1651.6,1156.3 1652.1,1156.4 1652.5,1156.4 1653,1156.5 1653.4,1156.5 1653.9,1156.7 1654.4,1156.8 1654.8,1157 1655.3,1157.1 1655.7,1157.2 1656.2,1157.3 1656.7,1157.4 1657.1,1157.5 1657.6,1157.6 1658,1157.6 1658.5,1157.6 1658.9,1157.7 1659.4,1157.7 1659.9,1157.7 1660.3,1157.7 1660.8,1157.7 1661.2,1157.7 1661.7,1157.7 1662.2,1157.7 1662.6,1157.7 1663.1,1157.8 1663.5,1157.8 1664,1157.8 1664.4,1157.8 1664.9,1157.8 1665.4,1157.8 1665.8,1157.8 1666.3,1157.8 1666.7,1157.8 1667.2,1157.8 1667.7,1157.8 1668.1,1157.8 1668.6,1157.8 1669,1157.8 1669.5,1157.8 1669.9,1157.8 1670.4,1157.8 1670.9,1157.8 1671.3,1157.8 1671.8,1157.8 1672.2,1157.8 1672.7,1157.8 1673.2,1157.8 1673.6,1157.8 1674.1,1157.8 1674.5,1157.8 1675,1157.8 1675.4,1157.8 1675.9,1157.8 1676.4,1157.8 1676.8,1157.8 1677.3,1157.8 1677.7,1157.8 1678.2,1157.8 1678.6,1157.8 1679.1,1157.7 1679.6,1157.7 1680,1157.7 1680.5,1157.7 1680.9,1157.7 1681.4,1157.7 1681.9,1157.7 1682.3,1157.7 1682.8,1157.7 1683.2,1157.7 1683.7,1157.7 1684.1,1157.7 1684.6,1157.6 1685.1,1157.6 1685.5,1157.6 1686,1157.6 1686.4,1157.6 1686.9,1157.6 1687.4,1157.5 1687.8,1157.5 1688.3,1157.5 1688.7,1157.5 1689.2,1157.4 1689.6,1157.4 1690.1,1157.3 1690.6,1157.3 1691,1157.2 1691.5,1157.2 1691.9,1157.1 1692.4,1157 1692.9,1156.9 1693.3,1156.8 1693.8,1156.6 1694.2,1156.4 1694.7,1156.1 1695.1,1155.7 1695.6,1155.1 1696.1,1154.5 1696.5,1153.6 1697,1152.5 1697.4,1151.3 1697.9,1149.8 1698.4,1148.2 1698.8,1146.6 1699.3,1145 1699.7,1143.5 1700.2,1142.4 1700.6,1141.8 1701.1,1141.9 1701.6,1142.4 1702,1143.4 1702.5,1144.5 1702.9,1145.6 1703.4,1146.4 1703.9,1147.1 1704.3,1147.5 1704.8,1147.8 1705.2,1148 1705.7,1148.2 1706.1,1148.6 1706.6,1149.2 1707.1,1150 1707.5,1150.9 1708,1151.9 1708.4,1152.9 1708.9,1153.7 1709.4,1154.5 1709.8,1155.1 1710.3,1155.6 1710.7,1156 1711.2,1156.4 1711.6,1156.6 1712.1,1156.8 1712.6,1156.9 1713,1157 1713.5,1157.1 1713.9,1157.2 1714.4,1157.3 1714.9,1157.3 1715.3,1157.3 1715.8,1157.4 1716.2,1157.4 1716.7,1157.4 1717.1,1157.4 1717.6,1157.5 1718.1,1157.5 1718.5,1157.5 1719,1157.5 1719.4,1157.5 1719.9,1157.4 1720.3,1157.4 1720.8,1157.3 1721.3,1157.3 1721.7,1157.2 1722.2,1157.1 1722.6,1156.9 1723.1,1156.8 1723.6,1156.6 1724,1156.5 1724.5,1156.4 1724.9,1156.3 1725.4,1156.3 1725.8,1156.3 1726.3,1156.4 1726.8,1156.5 1727.2,1156.7 1727.7,1156.7 1728.1,1156.8 1728.6,1156.9 1729.1,1156.9 1729.5,1156.9 1730,1156.9 1730.4,1156.9 1730.9,1157 1731.3,1157 1731.8,1157.1 1732.3,1157.2 1732.7,1157.3 1733.2,1157.4 1733.6,1157.4 1734.1,1157.5 1734.6,1157.5 1735,1157.6 1735.5,1157.6 1735.9,1157.6 1736.4,1157.6 1736.8,1157.6 1737.3,1157.5 1737.8,1157.5 1738.2,1157.4 1738.7,1157.4 1739.1,1157.3 1739.6,1157.1 1740.1,1157 1740.5,1156.8 1741,1156.7 1741.4,1156.5 1741.9,1156.4 1742.3,1156.3 1742.8,1156.3 1743.3,1156.4 1743.7,1156.5 1744.2,1156.6 1744.6,1156.7 1745.1,1156.8 1745.6,1156.9 1746,1156.9 1746.5,1156.9 1746.9,1156.9 1747.4,1156.9 1747.8,1156.9 1748.3,1157 1748.8,1157 1749.2,1157.1 1749.7,1157.2 1750.1,1157.3 1750.6,1157.3 1751.1,1157.4 1751.5,1157.5 1752,1157.5 1752.4,1157.5 1752.9,1157.6 1753.3,1157.6 1753.8,1157.6 1754.3,1157.6 1754.7,1157.6 1755.2,1157.6 1755.6,1157.6 1756.1,1157.6 1756.6,1157.5 1757,1157.5 1757.5,1157.5 1757.9,1157.5 1758.4,1157.4 1758.8,1157.4 1759.3,1157.4 1759.8,1157.3 1760.2,1157.2 1760.7,1157.2 1761.1,1157.1 1761.6,1156.9 1762.1,1156.7 1762.5,1156.5 1763,1156.2 1763.4,1155.7 1763.9,1155.2 1764.3,1154.5 1764.8,1153.7 1765.3,1152.7 1765.7,1151.6 1766.2,1150.5 1766.6,1149.3 1767.1,1148.3 1767.5,1147.5 1768,1147.1 1768.5,1147.1 1768.9,1147.5 1769.4,1148.2 1769.8,1148.9 1770.3,1149.7 1770.8,1150.4 1771.2,1150.8 1771.7,1151.1 1772.1,1151.3 1772.6,1151.4 1773,1151.4 1773.5,1151.5 1774,1151.8 1774.4,1152.2 1774.9,1152.7 1775.3,1153.4 1775.8,1154 1776.3,1154.6 1776.7,1155.2 1777.2,1155.7 1777.6,1156.1 1778.1,1156.4 1778.5,1156.7 1779,1156.9 1779.5,1157.1 1779.9,1157.2 1780.4,1157.3 1780.8,1157.4 1781.3,1157.4 1781.8,1157.5 1782.2,1157.5 1782.7,1157.6 1783.1,1157.6 1783.6,1157.6 1784,1157.6 1784.5,1157.7 1785,1157.7 1785.4,1157.7 1785.9,1157.7 1786.3,1157.7 1786.8,1157.7 1787.3,1157.7 1787.7,1157.8 1788.2,1157.8 1788.6,1157.8 1789.1,1157.8 1789.5,1157.8 1790,1157.8 1790.5,1157.8 1790.9,1157.8 1791.4,1157.8 1791.8,1157.8 1792.3,1157.8 1792.8,1157.8 1793.2,1157.8 1793.7,1157.8 1794.1,1157.8 1794.6,1157.8 1795,1157.8 1795.5,1157.8 1796,1157.8 1796.4,1157.8 1796.9,1157.8 1797.3,1157.8 1797.8,1157.9 1798.3,1157.9 1798.7,1157.9 1799.2,1157.9 1799.6,1157.9 1800.1,1157.9 1800.5,1157.9 1801,1157.9 1801.5,1157.9 1801.9,1157.9 1802.4,1157.9 1802.8,1157.9 1803.3,1157.9 1803.8,1157.9 1804.2,1157.8 1804.7,1157.8 1805.1,1157.8 1805.6,1157.8 1806,1157.8 1806.5,1157.8 1807,1157.8 1807.4,1157.8 1807.9,1157.8 1808.3,1157.8 1808.8,1157.8 1809.3,1157.8 1809.7,1157.8 1810.2,1157.8 1810.6,1157.8 1811.1,1157.7 1811.5,1157.7 1812,1157.6 1812.5,1157.6 1812.9,1157.5 1813.4,1157.4 1813.8,1157.3 1814.3,1157.1 1814.7,1157 1815.2,1156.8 1815.7,1156.6 1816.1,1156.4 1816.6,1156.2 1817,1156.1 1817.5,1156.1 1818,1156.1 1818.4,1156.2 1818.9,1156.3 1819.3,1156.5 1819.8,1156.6 1820.2,1156.7 1820.7,1156.8 1821.2,1156.8 1821.6,1156.8 1822.1,1156.8 1822.5,1156.8 1823,1156.8 1823.5,1156.9 1823.9,1156.9 1824.4,1157 1824.8,1157.1 1825.3,1157.2 1825.7,1157.3 1826.2,1157.4 1826.7,1157.5 1827.1,1157.6 1827.6,1157.6 1828,1157.7 1828.5,1157.7 1829,1157.7 1829.4,1157.8 1829.9,1157.8 1830.3,1157.8 1830.8,1157.8 1831.2,1157.8 1831.7,1157.8 1832.2,1157.8 1832.6,1157.8 1833.1,1157.8 1833.5,1157.8 1834,1157.8 1834.5,1157.8 1834.9,1157.8 1835.4,1157.8 1835.8,1157.8 1836.3,1157.8 1836.7,1157.8 1837.2,1157.8 1837.7,1157.8 1838.1,1157.8 1838.6,1157.8 1839,1157.8 1839.5,1157.8 1840,1157.8 1840.4,1157.8 1840.9,1157.8 1841.3,1157.8 1841.8,1157.8 1842.2,1157.8 1842.7,1157.7 1843.2,1157.7 1843.6,1157.7 1844.1,1157.7 1844.5,1157.7 1845,1157.6 1845.5,1157.6 1845.9,1157.5 1846.4,1157.4 1846.8,1157.3 1847.3,1157.2 1847.7,1157.1 1848.2,1156.9 1848.7,1156.8 1849.1,1156.6 1849.6,1156.5 1850,1156.4 1850.5,1156.3 1851,1156.3 1851.4,1156.4 1851.9,1156.5 1852.3,1156.6 1852.8,1156.7 1853.2,1156.8 1853.7,1156.9 1854.2,1156.9 1854.6,1156.9 1855.1,1156.9 1855.5,1156.9 1856,1156.9 1856.5,1156.9 1856.9,1156.9 1857.4,1156.9 1857.8,1157 1858.3,1157.1 1858.7,1157.2 1859.2,1157.2 1859.7,1157.3 1860.1,1157.3 1860.6,1157.4 1861,1157.4 1861.5,1157.4 1861.9,1157.4 1862.4,1157.4 1862.9,1157.3 1863.3,1157.3 1863.8,1157.3 1864.2,1157.2 1864.7,1157.1 1865.2,1157 1865.6,1156.9 1866.1,1156.7 1866.5,1156.5 1867,1156.3 1867.4,1156 1867.9,1155.7 1868.4,1155.5 1868.8,1155.2 1869.3,1155 1869.7,1154.9 1870.2,1154.8 1870.7,1154.8 1871.1,1154.9 1871.6,1155 1872,1155 1872.5,1155 1872.9,1154.9 1873.4,1154.7 1873.9,1154.4 1874.3,1153.9 1874.8,1153.2 1875.2,1152.4 1875.7,1151.3 1876.2,1150 1876.6,1148.5 1877.1,1146.7 1877.5,1144.7 1878,1142.5 1878.4,1140.3 1878.9,1138.3 1879.4,1136.9 1879.8,1136.2 1880.3,1136.3 1880.7,1137.3 1881.2,1138.9 1881.7,1140.6 1882.1,1142.3 1882.6,1143.8 1883,1144.9 1883.5,1145.6 1883.9,1145.9 1884.4,1145.9 1884.9,1145.7 1885.3,1145.5 1885.8,1145.5 1886.2,1145.8 1886.7,1146.5 1887.2,1147.6 1887.6,1148.8 1888.1,1150 1888.5,1151.3 1889,1152.4 1889.4,1153.4 1889.9,1154.2 1890.4,1154.9 1890.8,1155.4 1891.3,1155.8 1891.7,1156.1 1892.2,1156.4 1892.7,1156.6 1893.1,1156.7 1893.6,1156.8 1894,1156.9 1894.5,1157 1894.9,1157.1 1895.4,1157.1 1895.9,1157.2 1896.3,1157.2 1896.8,1157.3 1897.2,1157.3 1897.7,1157.3 1898.2,1157.3 1898.6,1157.4 1899.1,1157.4 1899.5,1157.4 1900,1157.4 1900.4,1157.4 1900.9,1157.5 1901.4,1157.5 1901.8,1157.5 1902.3,1157.5 1902.7,1157.5 1903.2,1157.5 1903.6,1157.5 1904.1,1157.5 1904.6,1157.5 1905,1157.5 1905.5,1157.5 1905.9,1157.6 1906.4,1157.6 1906.9,1157.6 1907.3,1157.6 1907.8,1157.6 1908.2,1157.6 1908.7,1157.6 1909.1,1157.6 1909.6,1157.6 1910.1,1157.6 1910.5,1157.6 1911,1157.6 1911.4,1157.6 1911.9,1157.5 1912.4,1157.5 1912.8,1157.5 1913.3,1157.5 1913.7,1157.5 1914.2,1157.5 1914.6,1157.5 1915.1,1157.5 1915.6,1157.5 1916,1157.5 1916.5,1157.5 1916.9,1157.5 1917.4,1157.5 1917.9,1157.5 1918.3,1157.4 1918.8,1157.4 1919.2,1157.4 1919.7,1157.4 1920.1,1157.4 1920.6,1157.4 1921.1,1157.4 1921.5,1157.3 1922,1157.3 1922.4,1157.3 1922.9,1157.3 1923.4,1157.3 1923.8,1157.2 1924.3,1157.2 1924.7,1157.2 1925.2,1157.2 1925.6,1157.1 1926.1,1157.1 1926.6,1157.1 1927,1157 1927.5,1157 1927.9,1157 1928.4,1156.9 1928.9,1156.9 1929.3,1156.8 1929.8,1156.7 1930.2,1156.7 1930.7,1156.6 1931.1,1156.5 1931.6,1156.5 1932.1,1156.4 1932.5,1156.3 1933,1156.2 1933.4,1156.1 1933.9,1156 1934.4,1155.8 1934.8,1155.7 1935.3,1155.5 1935.7,1155.3 1936.2,1155.1 1936.6,1154.9 1937.1,1154.6 1937.6,1154.3 1938,1153.9 1938.5,1153.5 1938.9,1152.9 1939.4,1152.3 1939.9,1151.4 1940.3,1150.2 1940.8,1148.7 1941.2,1146.6 1941.7,1144 1942.1,1140.5 1942.6,1136.2 1943.1,1130.9 1943.5,1124.6 1944,1117.4 1944.4,1109.7 1944.9,1101.8 1945.4,1094.4 1945.8,1088.5 1946.3,1084.9 1946.7,1084.2 1947.2,1086.6 1947.6,1091.2 1948.1,1097 1948.6,1103 1949,1108.5 1949.5,1112.9 1949.9,1115.9 1950.4,1117.5 1950.8,1117.9 1951.3,1117.2 1951.8,1116 1952.2,1114.8 1952.7,1114.3 1953.1,1115 1953.6,1117 1954.1,1120.3 1954.5,1124.3 1955,1128.7 1955.4,1133 1955.9,1137 1956.3,1140.6 1956.8,1143.6 1957.3,1146.1 1957.7,1148.1 1958.2,1149.6 1958.6,1150.8 1959.1,1151.6 1959.6,1152.3 1960,1152.8 1960.5,1153.2 1960.9,1153.6 1961.4,1154 1961.8,1154.3 1962.3,1154.6 1962.8,1154.9 1963.2,1155.2 1963.7,1155.5 1964.1,1155.7 1964.6,1155.9 1965.1,1156.1 1965.5,1156.2 1966,1156.3 1966.4,1156.4 1966.9,1156.5 1967.3,1156.6 1967.8,1156.7 1968.3,1156.8 1968.7,1156.8 1969.2,1156.9 1969.6,1156.9 1970.1,1157 1970.6,1157 1971,1157.1 1971.5,1157.1 1971.9,1157.1 1972.4,1157.2 1972.8,1157.2 1973.3,1157.2 1973.8,1157.3 1974.2,1157.3 1974.7,1157.3 1975.1,1157.3 1975.6,1157.4 1976.1,1157.4 1976.5,1157.4 1977,1157.4 1977.4,1157.4 1977.9,1157.5 1978.3,1157.5 1978.8,1157.5 1979.3,1157.5 1979.7,1157.5 1980.2,1157.5 1980.6,1157.5 1981.1,1157.6 1981.6,1157.6 1982,1157.6 1982.5,1157.6 1982.9,1157.6 1983.4,1157.6 1983.8,1157.6 1984.3,1157.6 1984.8,1157.6 1985.2,1157.6 1985.7,1157.6 1986.1,1157.7 1986.6,1157.7 1987.1,1157.7 1987.5,1157.7 1988,1157.7 1988.4,1157.7 1988.9,1157.7 1989.3,1157.7 1989.8,1157.7 1990.3,1157.7 1990.7,1157.7 1991.2,1157.7 1991.6,1157.7 1992.1,1157.7 1992.6,1157.7 1993,1157.7 1993.5,1157.7 1993.9,1157.7 1994.4,1157.7 1994.8,1157.8 1995.3,1157.8 1995.8,1157.8 1996.2,1157.8 1996.7,1157.8 1997.1,1157.8 1997.6,1157.8 1998,1157.8 1998.5,1157.8 1999,1157.8 1999.4,1157.8 1999.9,1157.8 2000.3,1157.8 2000.8,1157.8 2001.3,1157.8 2001.7,1157.8 2002.2,1157.8 2002.6,1157.8 2003.1,1157.8 2003.5,1157.8 2004,1157.8 2004.5,1157.8 2004.9,1157.8 2005.4,1157.8 2005.8,1157.8 2006.3,1157.8 2006.8,1157.8 2007.2,1157.8 2007.7,1157.8 2008.1,1157.8 2008.6,1157.8 2009,1157.8 2009.5,1157.8 2010,1157.8 2010.4,1157.8 2010.9,1157.8 2011.3,1157.8 2011.8,1157.8 2012.3,1157.8 2012.7,1157.7 2013.2,1157.7 2013.6,1157.7 2014.1,1157.7 2014.5,1157.7 2015,1157.7 2015.5,1157.7 2015.9,1157.6 2016.4,1157.6 2016.8,1157.5 2017.3,1157.4 2017.8,1157.3 2018.2,1157.2 2018.7,1157.1 2019.1,1156.9 2019.6,1156.7 2020,1156.5 2020.5,1156.3 2021,1156.2 2021.4,1156 2021.9,1156 2022.3,1156 2022.8,1156.1 2023.3,1156.2 2023.7,1156.4 2024.2,1156.5 2024.6,1156.6 2025.1,1156.8 2025.5,1156.8 2026,1156.9 2026.5,1156.9 2026.9,1156.9 2027.4,1156.8 2027.8,1156.8 2028.3,1156.8 2028.8,1156.8 2029.2,1156.8 2029.7,1156.8 2030.1,1156.9 2030.6,1157 2031,1157.1 2031.5,1157.2 2032,1157.3 2032.4,1157.4 2032.9,1157.4 2033.3,1157.5 2033.8,1157.5 2034.3,1157.6 2034.7,1157.6 2035.2,1157.6 2035.6,1157.6 2036.1,1157.6 2036.5,1157.6 2037,1157.6 2037.5,1157.6 2037.9,1157.6 2038.4,1157.6 2038.8,1157.6 2039.3,1157.6 2039.8,1157.5 2040.2,1157.5 2040.7,1157.5 2041.1,1157.5 2041.6,1157.5 2042,1157.5 2042.5,1157.4 2043,1157.4 2043.4,1157.4 2043.9,1157.3 2044.3,1157.3 2044.8,1157.3 2045.2,1157.2 2045.7,1157.2 2046.2,1157.1 2046.6,1157.1 2047.1,1157 2047.5,1156.9 2048,1156.9 2048.5,1156.8 2048.9,1156.7 2049.4,1156.5 2049.8,1156.4 2050.3,1156.1 2050.7,1155.9 2051.2,1155.5 2051.7,1155.1 2052.1,1154.5 2052.6,1153.7 2053,1152.7 2053.5,1151.4 2054,1149.9 2054.4,1148 2054.9,1145.8 2055.3,1143.4 2055.8,1140.9 2056.2,1138.4 2056.7,1136.2 2057.2,1134.6 2057.6,1133.9 2058.1,1134.2 2058.5,1135.4 2059,1137.2 2059.5,1139.2 2059.9,1141.2 2060.4,1143.1 2060.8,1144.5 2061.3,1145.5 2061.7,1146.1 2062.2,1146.2 2062.7,1146 2063.1,1145.6 2063.6,1145 2064,1144.6 2064.5,1144.4 2065,1144.7 2065.4,1145.4 2065.9,1146.4 2066.3,1147.6 2066.8,1148.8 2067.2,1150 2067.7,1151.1 2068.2,1152 2068.6,1152.8 2069.1,1153.3 2069.5,1153.7 2070,1154 2070.5,1154.3 2070.9,1154.5 2071.4,1154.7 2071.8,1154.9 2072.3,1155.1 2072.7,1155.4 2073.2,1155.7 2073.7,1155.9 2074.1,1156.1 2074.6,1156.2 2075,1156.3 2075.5,1156.4 2076,1156.5 2076.4,1156.5 2076.9,1156.5 2077.3,1156.5 2077.8,1156.5 2078.2,1156.5 2078.7,1156.5 2079.2,1156.6 2079.6,1156.7 2080.1,1156.9 2080.5,1157 2081,1157.1 2081.5,1157.2 2081.9,1157.3 2082.4,1157.4 2082.8,1157.4 2083.3,1157.5 2083.7,1157.5 2084.2,1157.6 2084.7,1157.6 2085.1,1157.6 2085.6,1157.6 2086,1157.6 2086.5,1157.7 2086.9,1157.7 2087.4,1157.7 2087.9,1157.7 2088.3,1157.7 2088.8,1157.7 2089.2,1157.7 2089.7,1157.7 2090.2,1157.7 2090.6,1157.7 2091.1,1157.7 2091.5,1157.7 2092,1157.7 2092.4,1157.7 2092.9,1157.7 2093.4,1157.7 2093.8,1157.7 2094.3,1157.7 2094.7,1157.7 2095.2,1157.7 2095.7,1157.7 2096.1,1157.7 2096.6,1157.7 2097,1157.7 2097.5,1157.7 2097.9,1157.7 2098.4,1157.6 2098.9,1157.6 2099.3,1157.6 2099.8,1157.5 2100.2,1157.4 2100.7,1157.3 2101.2,1157.2 2101.6,1157.1 2102.1,1156.9 2102.5,1156.8 2103,1156.6 2103.4,1156.5 2103.9,1156.4 2104.4,1156.3 2104.8,1156.4 2105.3,1156.4 2105.7,1156.5 2106.2,1156.7 2106.7,1156.8 2107.1,1156.9 2107.6,1157 2108,1157.1 2108.5,1157.1 2108.9,1157.1 2109.4,1157.1 2109.9,1157.1 2110.3,1157 2110.8,1157 2111.2,1156.9 2111.7,1156.9 2112.2,1157 2112.6,1157 2113.1,1157.1 2113.5,1157.1 2114,1157.2 2114.4,1157.2 2114.9,1157.3 2115.4,1157.3 2115.8,1157.4 2116.3,1157.4 2116.7,1157.3 2117.2,1157.3 2117.7,1157.3 2118.1,1157.2 2118.6,1157.1 2119,1156.9 2119.5,1156.7 2119.9,1156.4 2120.4,1156.1 2120.9,1155.7 2121.3,1155.2 2121.8,1154.7 2122.2,1154.1 2122.7,1153.5 2123.2,1152.9 2123.6,1152.5 2124.1,1152.2 2124.5,1152 2125,1152.2 2125.4,1152.5 2125.9,1152.9 2126.4,1153.4 2126.8,1153.9 2127.3,1154.4 2127.7,1154.7 2128.2,1155 2128.7,1155.1 2129.1,1155.2 2129.6,1155.1 2130,1155 2130.5,1154.9 2130.9,1154.7 2131.4,1154.6 2131.9,1154.6 2132.3,1154.7 2132.8,1154.9 2133.2,1155.2 2133.7,1155.5 2134.1,1155.8 2134.6,1156.1 2135.1,1156.4 2135.5,1156.6 2136,1156.8 2136.4,1157 2136.9,1157.1 2137.4,1157.2 2137.8,1157.3 2138.3,1157.3 2138.7,1157.3 2139.2,1157.4 2139.6,1157.3 2140.1,1157.3 2140.6,1157.3 2141,1157.2 2141.5,1157.1 2141.9,1157 2142.4,1156.8 2142.9,1156.6 2143.3,1156.4 2143.8,1156 2144.2,1155.7 2144.7,1155.2 2145.1,1154.7 2145.6,1154.2 2146.1,1153.8 2146.5,1153.4 2147,1153.1 2147.4,1153 2147.9,1153 2148.4,1153.2 2148.8,1153.5 2149.3,1153.9 2149.7,1154.3 2150.2,1154.6 2150.6,1155 2151.1,1155.2 2151.6,1155.4 2152,1155.5 2152.5,1155.5 2152.9,1155.5 2153.4,1155.4 2153.9,1155.3 2154.3,1155.2 2154.8,1155.2 2155.2,1155.2 2155.7,1155.4 2156.1,1155.5 2156.6,1155.8 2157.1,1156 2157.5,1156.3 2158,1156.5 2158.4,1156.7 2158.9,1156.9 2159.4,1157.1 2159.8,1157.3 2160.3,1157.4 2160.7,1157.5 2161.2,1157.5 2161.6,1157.6 2162.1,1157.7 2162.6,1157.7 2163,1157.7 2163.5,1157.7 2163.9,1157.8 2164.4,1157.8 2164.9,1157.8 2165.3,1157.8 2165.8,1157.8 2166.2,1157.8 2166.7,1157.8 2167.1,1157.8 2167.6,1157.9 2168.1,1157.9 2168.5,1157.9 2169,1157.9 2169.4,1157.9 2169.9,1157.9 2170.4,1157.9 2170.8,1157.9 2171.3,1157.9 2171.7,1157.9 2172.2,1157.9 2172.6,1157.9 2173.1,1157.9 2173.6,1157.9 2174,1157.9 2174.5,1157.9 2174.9,1157.9 2175.4,1157.9 2175.9,1157.9 2176.3,1157.9 2176.8,1157.9 2177.2,1157.9 2177.7,1157.9 2178.1,1157.9 2178.6,1157.9" fill="none" stroke="#d01818" stroke-width="5" stroke-linejoin="round"/>
<!-- difference -->
<polygon points="345.6,1375.1 348.2,1375.1 348.2,1370 350.8,1370 350.8,1373.8 353.4,1373.8 353.4,1376.5 356,1376.5 356,1376.5 358.6,1376.5 358.6,1372.9 361.2,1372.9 361.2,1374 363.8,1374 363.8,1371.9 366.4,1371.9 366.4,1368.8 369,1368.8 369,1375.9 371.6,1375.9 371.6,1372.2 374.2,1372.2 374.2,1374.1 376.8,1374.1 376.8,1373.8 379.4,1373.8 379.4,1372.6 382,1372.6 382,1378.7 384.6,1378.7 384.6,1374.8 387.2,1374.8 387.2,1375.6 389.8,1375.6 389.8,1370 392.4,1370 392.4,1370 395,1370 395,1377.9 397.6,1377.9 397.6,1376.8 400.2,1376.8 400.2,1380 402.8,1380 402.8,1377.7 405.4,1377.7 405.4,1375.1 408,1375.1 408,1376.9 410.6,1376.9 410.6,1376.3 413.2,1376.3 413.2,1377.8 415.8,1377.8 415.8,1374.8 418.4,1374.8 418.4,1376 421,1376 421,1379.3 423.6,1379.3 423.6,1376.7 426.2,1376.7 426.2,1376.7 428.8,1376.7 428.8,1377.6 431.4,1377.6 431.4,1378.7 434,1378.7 434,1376.2 436.6,1376.2 436.6,1374.5 439.2,1374.5 439.2,1376.3 441.8,1376.3 441.8,1378.8 444.4,1378.8 444.4,1375.2 447,1375.2 447,1359.7 449.6,1359.7 449.6,1368.3 452.2,1368.3 452.2,1372.2 454.8,1372.2 454.8,1380 457.4,1380 457.4,1378.6 460,1378.6 460,1378.2 462.6,1378.2 462.6,1379.2 465.2,1379.2 465.2,1379.6 467.8,1379.6 467.8,1377.1 470.4,1377.1 470.4,1378.2 473,1378.2 473,1379.5 475.6,1379.5 475.6,1378.2 478.2,1378.2 478.2,1378.1 480.8,1378.1 480.8,1378.5 483.4,1378.5 483.4,1378.2 486,1378.2 486,1381.2 488.6,1381.2 488.6,1384.3 491.2,1384.3 491.2,1378.8 493.8,1378.8 493.8,1377 496.4,1377 496.4,1383.6 499,1383.6 499,1379.1 501.6,1379.1 501.6,1377.5 504.2,1377.5 504.2,1379.4 506.8,1379.4 506.8,1383.9 509.4,1383.9 509.4,1378.1 512,1378.1 512,1381.9 514.6,1381.9 514.6,1376.9 517.2,1376.9 517.2,1376.9 519.8,1376.9 519.8,1381.1 522.4,1381.1 522.4,1381.3 525,1381.3 525,1381.7 527.6,1381.7 527.6,1381.6 530.2,1381.6 530.2,1381.6 532.8,1381.6 532.8,1380.6 535.4,1380.6 535.4,1376.6 538,1376.6 538,1381.7 540.6,1381.7 540.6,1384.2 543.2,1384.2 543.2,1382.4 545.8,1382.4 545.8,1382.4 548.4,1382.4 548.4,1380.4 551,1380.4 551,1383.4 553.6,1383.4 553.6,1382.2 556.2,1382.2 556.2,1381.8 558.8,1381.8 558.8,1384.1 561.4,1384.1 561.4,1383.5 564,1383.5 564,1379.2 566.6,1379.2 566.6,1378.9 569.2,1378.9 569.2,1379.1 571.8,1379.1 571.8,1376 574.4,1376 574.4,1360 577,1360 577,1372.8 579.6,1372.8 579.6,1381.2 582.2,1381.2 582.2,1386.5 584.8,1386.5 584.8,1383.9 587.4,1383.9 587.4,1385 590,1385 590,1385.4 592.6,1385.4 592.6,1385.2 595.2,1385.2 595.2,1384.9 597.8,1384.9 597.8,1384 600.4,1384 600.4,1383.8 603,1383.8 603,1382.4 605.6,1382.4 605.6,1382.8 608.2,1382.8 608.2,1382.1 610.8,1382.1 610.8,1380.9 613.4,1380.9 613.4,1383 616,1383 616,1382.8 618.6,1382.8 618.6,1384.1 621.2,1384.1 621.2,1384.9 623.8,1384.9 623.8,1383.3 626.4,1383.3 626.4,1381.3 629,1381.3 629,1381.3 631.6,1381.3 631.6,1380.7 634.2,1380.7 634.2,1382 636.8,1382 636.8,1383.1 639.4,1383.1 639.4,1383.2 642,1383.2 642,1383.1 644.6,1383.1 644.6,1384.2 647.2,1384.2 647.2,1380.7 649.8,1380.7 649.8,1380.7 652.4,1380.7 652.4,1390.8 655,1390.8 655,1383.9 657.6,1383.9 657.6,1371.8 660.2,1371.8 660.2,1377.4 662.8,1377.4 662.8,1378.7 665.4,1378.7 665.4,1380.4 668,1380.4 668,1381 670.6,1381 670.6,1384 673.2,1384 673.2,1384.8 675.8,1384.8 675.8,1380.9 678.4,1380.9 678.4,1385.5 681,1385.5 681,1384.8 683.6,1384.8 683.6,1380.7 686.2,1380.7 686.2,1380.2 688.8,1380.2 688.8,1381.4 691.4,1381.4 691.4,1377 694,1377 694,1373.6 696.6,1373.6 696.6,1345.7 699.2,1345.7 699.2,1345.7 701.8,1345.7 701.8,1399.1 704.4,1399.1 704.4,1386.4 707,1386.4 707,1380.5 709.6,1380.5 709.6,1384 712.2,1384 712.2,1382.1 714.8,1382.1 714.8,1382.1 717.4,1382.1 717.4,1380.8 720,1380.8 720,1385.6 722.6,1385.6 722.6,1380 725.2,1380 725.2,1384 727.8,1384 727.8,1385.8 730.4,1385.8 730.4,1383.6 733,1383.6 733,1383 735.6,1383 735.6,1376.6 738.2,1376.6 738.2,1373.2 740.8,1373.2 740.8,1381.5 743.4,1381.5 743.4,1382.7 746,1382.7 746,1381.5 748.6,1381.5 748.6,1382.2 751.2,1382.2 751.2,1385.2 753.8,1385.2 753.8,1384.1 756.4,1384.1 756.4,1381.5 759,1381.5 759,1383 761.6,1383 761.6,1383.2 764.2,1383.2 764.2,1384.2 766.8,1384.2 766.8,1384 769.4,1384 769.4,1383.7 772,1383.7 772,1383.6 774.6,1383.6 774.6,1383.7 777.2,1383.7 777.2,1385.2 779.8,1385.2 779.8,1383.8 782.4,1383.8 782.4,1381.9 785,1381.9 785,1382.7 787.6,1382.7 787.6,1384.1 790.2,1384.1 790.2,1384.1 792.8,1384.1 792.8,1385.2 795.4,1385.2 795.4,1383.9 798,1383.9 798,1383.8 800.6,1383.8 800.6,1384 803.2,1384 803.2,1382.5 805.8,1382.5 805.8,1382.9 808.4,1382.9 808.4,1385.2 811,1385.2 811,1385.2 813.6,1385.2 813.6,1383.2 816.2,1383.2 816.2,1384.7 818.8,1384.7 818.8,1383 821.4,1383 821.4,1383 824,1383 824,1384.3 826.6,1384.3 826.6,1381.8 829.2,1381.8 829.2,1383.9 831.8,1383.9 831.8,1382.7 834.4,1382.7 834.4,1374.7 837,1374.7 837,1374.7 839.6,1374.7 839.6,1383.8 842.2,1383.8 842.2,1383.3 844.8,1383.3 844.8,1384.3 847.4,1384.3 847.4,1381.8 850,1381.8 850,1381.8 852.6,1381.8 852.6,1384.5 855.2,1384.5 855.2,1384.1 857.8,1384.1 857.8,1383.5 860.4,1383.5 860.4,1383.5 863,1383.5 863,1383.7 865.6,1383.7 865.6,1381.9 868.2,1381.9 868.2,1379.7 870.8,1379.7 870.8,1378.2 873.4,1378.2 873.4,1356.7 876,1356.7 876,1365.2 878.6,1365.2 878.6,1379.4 881.2,1379.4 881.2,1383.3 883.8,1383.3 883.8,1382.1 886.4,1382.1 886.4,1385.5 889,1385.5 889,1384.3 891.6,1384.3 891.6,1383.6 894.2,1383.6 894.2,1384.5 896.8,1384.5 896.8,1384.2 899.4,1384.2 899.4,1383 902,1383 902,1383 904.6,1383 904.6,1383.9 907.2,1383.9 907.2,1384.1 909.8,1384.1 909.8,1383.9 912.4,1383.9 912.4,1383.9 915,1383.9 915,1383.9 917.6,1383.9 917.6,1384.2 920.2,1384.2 920.2,1383.1 922.8,1383.1 922.8,1384.8 925.4,1384.8 925.4,1382.1 928,1382.1 928,1382.1 930.6,1382.1 930.6,1384.2 933.2,1384.2 933.2,1383.9 935.8,1383.9 935.8,1383.8 938.4,1383.8 938.4,1383.6 941,1383.6 941,1383.8 943.6,1383.8 943.6,1384.8 946.2,1384.8 946.2,1384.4 948.8,1384.4 948.8,1383.8 951.4,1383.8 951.4,1383.5 954,1383.5 954,1382.4 956.6,1382.4 956.6,1384.1 959.2,1384.1 959.2,1385.3 961.8,1385.3 961.8,1386.5 964.4,1386.5 964.4,1383.3 967,1383.3 967,1383.5 969.6,1383.5 969.6,1385.1 972.2,1385.1 972.2,1385 974.8,1385 974.8,1384.9 977.4,1384.9 977.4,1382.6 980,1382.6 980,1384.3 982.6,1384.3 982.6,1382.3 985.2,1382.3 985.2,1383.9 987.8,1383.9 987.8,1383.5 990.4,1383.5 990.4,1383.5 993,1383.5 993,1383.8 995.6,1383.8 995.6,1383.8 998.2,1383.8 998.2,1383 1000.8,1383 1000.8,1384.9 1003.4,1384.9 1003.4,1385.7 1006,1385.7 1006,1384.9 1008.6,1384.9 1008.6,1383.8 1011.2,1383.8 1011.2,1382.6 1013.8,1382.6 1013.8,1385.2 1016.4,1385.2 1016.4,1383 1019,1383 1019,1384.2 1021.6,1384.2 1021.6,1384.8 1024.2,1384.8 1024.2,1384.4 1026.8,1384.4 1026.8,1382.5 1029.4,1382.5 1029.4,1384.5 1032,1384.5 1032,1381.8 1034.6,1381.8 1034.6,1376.1 1037.2,1376.1 1037.2,1375.7 1039.8,1375.7 1039.8,1381.5 1042.4,1381.5 1042.4,1382.7 1045,1382.7 1045,1384.7 1047.6,1384.7 1047.6,1382.1 1050.2,1382.1 1050.2,1384 1052.8,1384 1052.8,1383.9 1055.4,1383.9 1055.4,1385 1058,1385 1058,1383.9 1060.6,1383.9 1060.6,1383.9 1063.2,1383.9 1063.2,1383.5 1065.8,1383.5 1065.8,1384.9 1068.4,1384.9 1068.4,1384.9 1071,1384.9 1071,1383.3 1073.6,1383.3 1073.6,1384.9 1076.2,1384.9 1076.2,1386 1078.8,1386 1078.8,1385.1 1081.4,1385.1 1081.4,1384.2 1084,1384.2 1084,1384.6 1086.6,1384.6 1086.6,1385.5 1089.2,1385.5 1089.2,1383.8 1091.8,1383.8 1091.8,1384.7 1094.4,1384.7 1094.4,1384.4 1097,1384.4 1097,1383.1 1099.6,1383.1 1099.6,1383.2 1102.2,1383.2 1102.2,1383.9 1104.8,1383.9 1104.8,1384.3 1107.4,1384.3 1107.4,1381.2 1110,1381.2 1110,1375.2 1112.6,1375.2 1112.6,1375.2 1115.2,1375.2 1115.2,1389.8 1117.8,1389.8 1117.8,1387.1 1120.4,1387.1 1120.4,1385.2 1123,1385.2 1123,1384.2 1125.6,1384.2 1125.6,1384.2 1128.2,1384.2 1128.2,1383.9 1130.8,1383.9 1130.8,1383.9 1133.4,1383.9 1133.4,1384.7 1136,1384.7 1136,1383.9 1138.6,1383.9 1138.6,1379.9 1141.2,1379.9 1141.2,1372.2 1143.8,1372.2 1143.8,1371 1146.4,1371 1146.4,1377.4 1149,1377.4 1149,1382 1151.6,1382 1151.6,1383.1 1154.2,1383.1 1154.2,1383.8 1156.8,1383.8 1156.8,1384.3 1159.4,1384.3 1159.4,1384.3 1162,1384.3 1162,1384.5 1164.6,1384.5 1164.6,1384.5 1167.2,1384.5 1167.2,1384.8 1169.8,1384.8 1169.8,1383.5 1172.4,1383.5 1172.4,1384 1175,1384 1175,1383.3 1177.6,1383.3 1177.6,1382.8 1180.2,1382.8 1180.2,1384 1182.8,1384 1182.8,1384.7 1185.4,1384.7 1185.4,1384.2 1188,1384.2 1188,1376.9 1190.6,1376.9 1190.6,1366.4 1193.2,1366.4 1193.2,1367.4 1195.8,1367.4 1195.8,1392.7 1198.4,1392.7 1198.4,1380.8 1201,1380.8 1201,1380.8 1203.6,1380.8 1203.6,1383 1206.2,1383 1206.2,1385.1 1208.8,1385.1 1208.8,1383.9 1211.4,1383.9 1211.4,1383.9 1214,1383.9 1214,1384.4 1216.6,1384.4 1216.6,1385.4 1219.2,1385.4 1219.2,1383.2 1221.8,1383.2 1221.8,1382.7 1224.4,1382.7 1224.4,1382.6 1227,1382.6 1227,1383.2 1229.6,1383.2 1229.6,1384.2 1232.2,1384.2 1232.2,1384.1 1234.8,1384.1 1234.8,1384.1 1237.4,1384.1 1237.4,1385 1240,1385 1240,1384.7 1242.6,1384.7 1242.6,1384.1 1245.2,1384.1 1245.2,1385.8 1247.8,1385.8 1247.8,1384.8 1250.4,1384.8 1250.4,1383.9 1253,1383.9 1253,1383.8 1255.6,1383.8 1255.6,1383.8 1258.2,1383.8 1258.2,1382.8 1260.8,1382.8 1260.8,1385.5 1263.4,1385.5 1263.4,1384.9 1266,1384.9 1266,1385 1268.6,1385 1268.6,1384.4 1271.2,1384.4 1271.2,1383.9 1273.8,1383.9 1273.8,1384.3 1276.4,1384.3 1276.4,1384.9 1279,1384.9 1279,1383.4 1281.6,1383.4 1281.6,1383.9 1284.2,1383.9 1284.2,1383.9 1286.8,1383.9 1286.8,1383.7 1289.4,1383.7 1289.4,1384.1 1292,1384.1 1292,1385.7 1294.6,1385.7 1294.6,1383.6 1297.2,1383.6 1297.2,1383.7 1299.8,1383.7 1299.8,1383.3 1302.4,1383.3 1302.4,1383.2 1305,1383.2 1305,1383.3 1307.6,1383.3 1307.6,1383.6 1310.2,1383.6 1310.2,1383.9 1312.8,1383.9 1312.8,1384.1 1315.4,1384.1 1315.4,1381.7 1318,1381.7 1318,1375.8 1320.6,1375.8 1320.6,1363 1323.2,1363 1323.2,1385.3 1325.8,1385.3 1325.8,1388.5 1328.4,1388.5 1328.4,1383.3 1331,1383.3 1331,1382.9 1333.6,1382.9 1333.6,1382.8 1336.2,1382.8 1336.2,1385.2 1338.8,1385.2 1338.8,1383.7 1341.4,1383.7 1341.4,1385.9 1344,1385.9 1344,1383.2 1346.6,1383.2 1346.6,1384.9 1349.2,1384.9 1349.2,1384.1 1351.8,1384.1 1351.8,1384.8 1354.4,1384.8 1354.4,1382.8 1357,1382.8 1357,1383.6 1359.6,1383.6 1359.6,1384.8 1362.2,1384.8 1362.2,1383.2 1364.8,1383.2 1364.8,1384.7 1367.4,1384.7 1367.4,1384.7 1370,1384.7 1370,1383.7 1372.6,1383.7 1372.6,1383.4 1375.2,1383.4 1375.2,1384 1377.8,1384 1377.8,1383.6 1380.4,1383.6 1380.4,1383.8 1383,1383.8 1383,1383.2 1385.6,1383.2 1385.6,1385.4 1388.2,1385.4 1388.2,1384.7 1390.8,1384.7 1390.8,1384.2 1393.4,1384.2 1393.4,1384.2 1396,1384.2 1396,1383.7 1398.6,1383.7 1398.6,1384.2 1401.2,1384.2 1401.2,1385.6 1403.8,1385.6 1403.8,1384.5 1406.4,1384.5 1406.4,1384.5 1409,1384.5 1409,1384.5 1411.6,1384.5 1411.6,1384.9 1414.2,1384.9 1414.2,1384 1416.8,1384 1416.8,1383.1 1419.4,1383.1 1419.4,1385.3 1422,1385.3 1422,1384.3 1424.6,1384.3 1424.6,1382 1427.2,1382 1427.2,1384.6 1429.8,1384.6 1429.8,1384 1432.4,1384 1432.4,1384 1435,1384 1435,1384.9 1437.6,1384.9 1437.6,1384.9 1440.2,1384.9 1440.2,1384.8 1442.8,1384.8 1442.8,1385 1445.4,1385 1445.4,1385 1448,1385 1448,1385.2 1450.6,1385.2 1450.6,1383.1 1453.2,1383.1 1453.2,1385.4 1455.8,1385.4 1455.8,1384.3 1458.4,1384.3 1458.4,1383.7 1461,1383.7 1461,1384 1463.6,1384 1463.6,1384.7 1466.2,1384.7 1466.2,1385.8 1468.8,1385.8 1468.8,1383.8 1471.4,1383.8 1471.4,1383.8 1474,1383.8 1474,1386 1476.6,1386 1476.6,1385.2 1479.2,1385.2 1479.2,1384.8 1481.8,1384.8 1481.8,1384.6 1484.4,1384.6 1484.4,1384.7 1487,1384.7 1487,1384.4 1489.6,1384.4 1489.6,1383.5 1492.2,1383.5 1492.2,1383.7 1494.8,1383.7 1494.8,1385.4 1497.4,1385.4 1497.4,1383.2 1500,1383.2 1500,1384.6 1502.6,1384.6 1502.6,1383.3 1505.2,1383.3 1505.2,1384.4 1507.8,1384.4 1507.8,1384.4 1510.4,1384.4 1510.4,1384.3 1513,1384.3 1513,1382.7 1515.6,1382.7 1515.6,1381.7 1518.2,1381.7 1518.2,1382.4 1520.8,1382.4 1520.8,1382.2 1523.4,1382.2 1523.4,1382.2 1526,1382.2 1526,1383.8 1528.6,1383.8 1528.6,1383.8 1531.2,1383.8 1531.2,1385.3 1533.8,1385.3 1533.8,1383.8 1536.4,1383.8 1536.4,1384.9 1539,1384.9 1539,1384.6 1541.6,1384.6 1541.6,1384.9 1544.2,1384.9 1544.2,1385.4 1546.8,1385.4 1546.8,1384.6 1549.4,1384.6 1549.4,1383.4 1552,1383.4 1552,1382.8 1554.6,1382.8 1554.6,1383.6 1557.2,1383.6 1557.2,1383.9 1559.8,1383.9 1559.8,1383.8 1562.4,1383.8 1562.4,1384.5 1565,1384.5 1565,1382.9 1567.6,1382.9 1567.6,1385 1570.2,1385 1570.2,1381.7 1572.8,1381.7 1572.8,1386 1575.4,1386 1575.4,1384.4 1578,1384.4 1578,1382.3 1580.6,1382.3 1580.6,1383.8 1583.2,1383.8 1583.2,1381 1585.8,1381 1585.8,1378 1588.4,1378 1588.4,1378.8 1591,1378.8 1591,1382.9 1593.6,1382.9 1593.6,1383.1 1596.2,1383.1 1596.2,1385 1598.8,1385 1598.8,1383.7 1601.4,1383.7 1601.4,1384 1604,1384 1604,1384.9 1606.6,1384.9 1606.6,1385.4 1609.2,1385.4 1609.2,1384.7 1611.8,1384.7 1611.8,1381.9 1614.4,1381.9 1614.4,1382.3 1617,1382.3 1617,1384.2 1619.6,1384.2 1619.6,1384.2 1622.2,1384.2 1622.2,1383.8 1624.8,1383.8 1624.8,1384.5 1627.4,1384.5 1627.4,1384.7 1630,1384.7 1630,1384.1 1632.6,1384.1 1632.6,1385.1 1635.2,1385.1 1635.2,1385.7 1637.8,1385.7 1637.8,1382.5 1640.4,1382.5 1640.4,1384.8 1643,1384.8 1643,1384.4 1645.6,1384.4 1645.6,1384.5 1648.2,1384.5 1648.2,1384.1 1650.8,1384.1 1650.8,1384.7 1653.4,1384.7 1653.4,1383.8 1656,1383.8 1656,1384.2 1658.6,1384.2 1658.6,1384.5 1661.2,1384.5 1661.2,1383.9 1663.8,1383.9 1663.8,1384.9 1666.4,1384.9 1666.4,1385 1669,1385 1669,1384.1 1671.6,1384.1 1671.6,1383 1674.2,1383 1674.2,1384.8 1676.8,1384.8 1676.8,1384.7 1679.4,1384.7 1679.4,1384.5 1682,1384.5 1682,1384.7 1684.6,1384.7 1684.6,1384.7 1687.2,1384.7 1687.2,1383.4 1689.8,1383.4 1689.8,1384 1692.4,1384 1692.4,1384.1 1695,1384.1 1695,1383.9 1697.6,1383.9 1697.6,1382.5 1700.2,1382.5 1700.2,1379.2 1702.8,1379.2 1702.8,1382.5 1705.4,1382.5 1705.4,1383.6 1708,1383.6 1708,1383.1 1710.6,1383.1 1710.6,1385.4 1713.2,1385.4 1713.2,1385.1 1715.8,1385.1 1715.8,1385.9 1718.4,1385.9 1718.4,1383.5 1721,1383.5 1721,1384.7 1723.6,1384.7 1723.6,1384.7 1726.2,1384.7 1726.2,1384.8 1728.8,1384.8 1728.8,1384.2 1731.4,1384.2 1731.4,1383.2 1734,1383.2 1734,1383.8 1736.6,1383.8 1736.6,1385.1 1739.2,1385.1 1739.2,1384 1741.8,1384 1741.8,1384.5 1744.4,1384.5 1744.4,1383.4 1747,1383.4 1747,1383.3 1749.6,1383.3 1749.6,1384.5 1752.2,1384.5 1752.2,1384.3 1754.8,1384.3 1754.8,1385.4 1757.4,1385.4 1757.4,1382.2 1760,1382.2 1760,1383.5 1762.6,1383.5 1762.6,1383.4 1765.2,1383.4 1765.2,1384.2 1767.8,1384.2 1767.8,1384 1770.4,1384 1770.4,1383.8 1773,1383.8 1773,1382.8 1775.6,1382.8 1775.6,1384.9 1778.2,1384.9 1778.2,1384.4 1780.8,1384.4 1780.8,1383 1783.4,1383 1783.4,1384.7 1786,1384.7 1786,1384.7 1788.6,1384.7 1788.6,1384.8 1791.2,1384.8 1791.2,1384.1 1793.8,1384.1 1793.8,1384.7 1796.4,1384.7 1796.4,1383.7 1799,1383.7 1799,1384 1801.6,1384 1801.6,1384.8 1804.2,1384.8 1804.2,1384 1806.8,1384 1806.8,1382.9 1809.4,1382.9 1809.4,1384.5 1812,1384.5 1812,1383 1814.6,1383 1814.6,1383.9 1817.2,1383.9 1817.2,1383.7 1819.8,1383.7 1819.8,1385.2 1822.4,1385.2 1822.4,1385.1 1825,1385.1 1825,1384.4 1827.6,1384.4 1827.6,1384.5 1830.2,1384.5 1830.2,1385.1 1832.8,1385.1 1832.8,1384.6 1835.4,1384.6 1835.4,1384.2 1838,1384.2 1838,1385 1840.6,1385 1840.6,1384.2 1843.2,1384.2 1843.2,1384.3 1845.8,1384.3 1845.8,1384.1 1848.4,1384.1 1848.4,1384.3 1851,1384.3 1851,1384.2 1853.6,1384.2 1853.6,1384.1 1856.2,1384.1 1856.2,1385.4 1858.8,1385.4 1858.8,1384 1861.4,1384 1861.4,1383.8 1864,1383.8 1864,1384.6 1866.6,1384.6 1866.6,1384.4 1869.2,1384.4 1869.2,1384.4 1871.8,1384.4 1871.8,1384.7 1874.4,1384.7 1874.4,1382.8 1877,1382.8 1877,1379.4 1879.6,1379.4 1879.6,1378.3 1882.2,1378.3 1882.2,1383.1 1884.8,1383.1 1884.8,1383.4 1887.4,1383.4 1887.4,1382.9 1890,1382.9 1890,1382.9 1892.6,1382.9 1892.6,1385 1895.2,1385 1895.2,1384.5 1897.8,1384.5 1897.8,1384.8 1900.4,1384.8 1900.4,1384.5 1903,1384.5 1903,1384 1905.6,1384 1905.6,1384.8 1908.2,1384.8 1908.2,1383.7 1910.8,1383.7 1910.8,1384.2 1913.4,1384.2 1913.4,1383.6 1916,1383.6 1916,1384 1918.6,1384 1918.6,1384.1 1921.2,1384.1 1921.2,1384.1 1923.8,1384.1 1923.8,1383.7 1926.4,1383.7 1926.4,1385.8 1929,1385.8 1929,1384.1 1931.6,1384.1 1931.6,1384.1 1934.2,1384.1 1934.2,1383.3 1936.8,1383.3 1936.8,1382.8 1939.4,1382.8 1939.4,1379.2 1942,1379.2 1942,1374.6 1944.6,1374.6 1944.6,1374.6 1947.2,1374.6 1947.2,1386.7 1949.8,1386.7 1949.8,1384 1952.4,1384 1952.4,1384.7 1955,1384.7 1955,1384.5 1957.6,1384.5 1957.6,1382.7 1960.2,1382.7 1960.2,1384.2 1962.8,1384.2 1962.8,1384.5 1965.4,1384.5 1965.4,1385 1968,1385 1968,1385.1 1970.6,1385.1 1970.6,1385 1973.2,1385 1973.2,1385.7 1975.8,1385.7 1975.8,1384.2 1978.4,1384.2 1978.4,1384.2 1981,1384.2 1981,1385 1983.6,1385 1983.6,1384.7 1986.2,1384.7 1986.2,1383.2 1988.8,1383.2 1988.8,1384.4 1991.4,1384.4 1991.4,1382.3 1994,1382.3 1994,1385 1996.6,1385 1996.6,1385.9 1999.2,1385.9 1999.2,1384.8 2001.8,1384.8 2001.8,1384.8 2004.4,1384.8 2004.4,1383.7 2007,1383.7 2007,1384.6 2009.6,1384.6 2009.6,1385 2012.2,1385 2012.2,1384.6 2014.8,1384.6 2014.8,1384.9 2017.4,1384.9 2017.4,1384.2 2020,1384.2 2020,1383.3 2022.6,1383.3 2022.6,1383.8 2025.2,1383.8 2025.2,1383.4 2027.8,1383.4 2027.8,1383.4 2030.4,1383.4 2030.4,1382.9 2033,1382.9 2033,1385 2035.6,1385 2035.6,1384.2 2038.2,1384.2 2038.2,1384.8 2040.8,1384.8 2040.8,1384.5 2043.4,1384.5 2043.4,1383.8 2046,1383.8 2046,1383 2048.6,1383 2048.6,1384.4 2051.2,1384.4 2051.2,1383.9 2053.8,1383.9 2053.8,1382.4 2056.4,1382.4 2056.4,1383 2059,1383 2059,1381 2061.6,1381 2061.6,1383.7 2064.2,1383.7 2064.2,1383.6 2066.8,1383.6 2066.8,1383.4 2069.4,1383.4 2069.4,1383.4 2072,1383.4 2072,1384.3 2074.6,1384.3 2074.6,1384.3 2077.2,1384.3 2077.2,1384.7 2079.8,1384.7 2079.8,1385.1 2082.4,1385.1 2082.4,1384.5 2085,1384.5 2085,1384 2087.6,1384 2087.6,1384.1 2090.2,1384.1 2090.2,1384.6 2092.8,1384.6 2092.8,1383.9 2095.4,1383.9 2095.4,1384.9 2098,1384.9 2098,1384.7 2100.6,1384.7 2100.6,1383.4 2103.2,1383.4 2103.2,1383.3 2105.8,1383.3 2105.8,1385 2108.4,1385 2108.4,1384.8 2111,1384.8 2111,1384.4 2113.6,1384.4 2113.6,1384.3 2116.2,1384.3 2116.2,1384.7 2118.8,1384.7 2118.8,1384.2 2121.4,1384.2 2121.4,1383.5 2124,1383.5 2124,1383.1 2126.6,1383.1 2126.6,1383.4 2129.2,1383.4 2129.2,1384.7 2131.8,1384.7 2131.8,1382.5 2134.4,1382.5 2134.4,1384.7 2137,1384.7 2137,1384.4 2139.6,1384.4 2139.6,1384.8 2142.2,1384.8 2142.2,1384.1 2144.8,1384.1 2144.8,1384.3 2147.4,1384.3 2147.4,1382.9 2150,1382.9 2150,1383 2152.6,1383 2152.6,1384.6 2155.2,1384.6 2155.2,1384 2157.8,1384 2157.8,1385 2160.4,1385 2160.4,1384.5 2163,1384.5 2163,1384 2165.6,1384 2165.6,1384.9 2168.2,1384.9 2168.2,1385.1 2170.8,1385.1 2170.8,1383.3 2173.4,1383.3 2173.4,1384.3 2176,1384.3 2176,1384.7 2178.6,1384.7 2178.6,1387 2176,1387 2176,1387.3 2173.4,1387.3 2173.4,1387.2 2170.8,1387.2 2170.8,1386.8 2168.2,1386.8 2168.2,1387.4 2165.6,1387.4 2165.6,1386.5 2163,1386.5 2163,1387.1 2160.4,1387.1 2160.4,1388.7 2157.8,1388.7 2157.8,1386.3 2155.2,1386.3 2155.2,1386.9 2152.6,1386.9 2152.6,1388.6 2150,1388.6 2150,1388.4 2147.4,1388.4 2147.4,1387.9 2144.8,1387.9 2144.8,1386.9 2142.2,1386.9 2142.2,1387.2 2139.6,1387.2 2139.6,1387.9 2137,1387.9 2137,1387.4 2134.4,1387.4 2134.4,1388 2131.8,1388 2131.8,1388 2129.2,1388 2129.2,1387.3 2126.6,1387.3 2126.6,1387.3 2124,1387.3 2124,1387.3 2121.4,1387.3 2121.4,1386.4 2118.8,1386.4 2118.8,1387.5 2116.2,1387.5 2116.2,1387.5 2113.6,1387.5 2113.6,1387.5 2111,1387.5 2111,1387.9 2108.4,1387.9 2108.4,1386.8 2105.8,1386.8 2105.8,1387.9 2103.2,1387.9 2103.2,1386.4 2100.6,1386.4 2100.6,1386.7 2098,1386.7 2098,1387.2 2095.4,1387.2 2095.4,1387.9 2092.8,1387.9 2092.8,1387.6 2090.2,1387.6 2090.2,1388.1 2087.6,1388.1 2087.6,1387.3 2085,1387.3 2085,1386.6 2082.4,1386.6 2082.4,1387.8 2079.8,1387.8 2079.8,1386.6 2077.2,1386.6 2077.2,1389.1 2074.6,1389.1 2074.6,1387.3 2072,1387.3 2072,1387.4 2069.4,1387.4 2069.4,1387.8 2066.8,1387.8 2066.8,1390.3 2064.2,1390.3 2064.2,1389.2 2061.6,1389.2 2061.6,1388.2 2059,1388.2 2059,1389.3 2056.4,1389.3 2056.4,1387.8 2053.8,1387.8 2053.8,1387.5 2051.2,1387.5 2051.2,1387 2048.6,1387 2048.6,1386.6 2046,1386.6 2046,1386.9 2043.4,1386.9 2043.4,1387.1 2040.8,1387.1 2040.8,1386.8 2038.2,1386.8 2038.2,1387.9 2035.6,1387.9 2035.6,1387.9 2033,1387.9 2033,1388.8 2030.4,1388.8 2030.4,1386.8 2027.8,1386.8 2027.8,1387.7 2025.2,1387.7 2025.2,1387.6 2022.6,1387.6 2022.6,1386.9 2020,1386.9 2020,1387.4 2017.4,1387.4 2017.4,1388.9 2014.8,1388.9 2014.8,1386.6 2012.2,1386.6 2012.2,1387.2 2009.6,1387.2 2009.6,1387.3 2007,1387.3 2007,1386.8 2004.4,1386.8 2004.4,1388.6 2001.8,1388.6 2001.8,1387.5 1999.2,1387.5 1999.2,1387.5 1996.6,1387.5 1996.6,1387.4 1994,1387.4 1994,1386.4 1991.4,1386.4 1991.4,1387.1 1988.8,1387.1 1988.8,1388.2 1986.2,1388.2 1986.2,1386.9 1983.6,1386.9 1983.6,1386.1 1981,1386.1 1981,1387.4 1978.4,1387.4 1978.4,1387.3 1975.8,1387.3 1975.8,1387.3 1973.2,1387.3 1973.2,1386.6 1970.6,1386.6 1970.6,1388.3 1968,1388.3 1968,1387.3 1965.4,1387.3 1965.4,1387.9 1962.8,1387.9 1962.8,1387.9 1960.2,1387.9 1960.2,1387.6 1957.6,1387.6 1957.6,1388.7 1955,1388.7 1955,1393.9 1952.4,1393.9 1952.4,1393.9 1949.8,1393.9 1949.8,1393.9 1947.2,1393.9 1947.2,1388.4 1944.6,1388.4 1944.6,1382.2 1942,1382.2 1942,1385.6 1939.4,1385.6 1939.4,1387.5 1936.8,1387.5 1936.8,1386 1934.2,1386 1934.2,1385.8 1931.6,1385.8 1931.6,1386.7 1929,1386.7 1929,1387.3 1926.4,1387.3 1926.4,1388.2 1923.8,1388.2 1923.8,1386.3 1921.2,1386.3 1921.2,1388.3 1918.6,1388.3 1918.6,1387.6 1916,1387.6 1916,1388.5 1913.4,1388.5 1913.4,1387.1 1910.8,1387.1 1910.8,1386.3 1908.2,1386.3 1908.2,1387.8 1905.6,1387.8 1905.6,1387.8 1903,1387.8 1903,1388.1 1900.4,1388.1 1900.4,1386.9 1897.8,1386.9 1897.8,1386.9 1895.2,1386.9 1895.2,1387 1892.6,1387 1892.6,1386.3 1890,1386.3 1890,1386.9 1887.4,1386.9 1887.4,1387.6 1884.8,1387.6 1884.8,1387.1 1882.2,1387.1 1882.2,1385.6 1879.6,1385.6 1879.6,1385.6 1877,1385.6 1877,1387.9 1874.4,1387.9 1874.4,1387.9 1871.8,1387.9 1871.8,1387.1 1869.2,1387.1 1869.2,1386.3 1866.6,1386.3 1866.6,1386.3 1864,1386.3 1864,1387.8 1861.4,1387.8 1861.4,1386.9 1858.8,1386.9 1858.8,1388.2 1856.2,1388.2 1856.2,1387 1853.6,1387 1853.6,1387.1 1851,1387.1 1851,1387.5 1848.4,1387.5 1848.4,1387.4 1845.8,1387.4 1845.8,1387.8 1843.2,1387.8 1843.2,1386.6 1840.6,1386.6 1840.6,1387.4 1838,1387.4 1838,1386.3 1835.4,1386.3 1835.4,1387.4 1832.8,1387.4 1832.8,1387.8 1830.2,1387.8 1830.2,1387.2 1827.6,1387.2 1827.6,1387.2 1825,1387.2 1825,1388.3 1822.4,1388.3 1822.4,1387.1 1819.8,1387.1 1819.8,1385.4 1817.2,1385.4 1817.2,1385.9 1814.6,1385.9 1814.6,1386.9 1812,1386.9 1812,1387.5 1809.4,1387.5 1809.4,1386.6 1806.8,1386.6 1806.8,1385.9 1804.2,1385.9 1804.2,1387.4 1801.6,1387.4 1801.6,1386.6 1799,1386.6 1799,1386.4 1796.4,1386.4 1796.4,1386.9 1793.8,1386.9 1793.8,1385.8 1791.2,1385.8 1791.2,1387.4 1788.6,1387.4 1788.6,1386.1 1786,1386.1 1786,1387.4 1783.4,1387.4 1783.4,1387.4 1780.8,1387.4 1780.8,1387.1 1778.2,1387.1 1778.2,1387.5 1775.6,1387.5 1775.6,1386.9 1773,1386.9 1773,1388 1770.4,1388 1770.4,1388 1767.8,1388 1767.8,1389.5 1765.2,1389.5 1765.2,1389.5 1762.6,1389.5 1762.6,1389.2 1760,1389.2 1760,1385.9 1757.4,1385.9 1757.4,1386.9 1754.8,1386.9 1754.8,1387 1752.2,1387 1752.2,1385.8 1749.6,1385.8 1749.6,1387.4 1747,1387.4 1747,1388.5 1744.4,1388.5 1744.4,1386.7 1741.8,1386.7 1741.8,1387.5 1739.2,1387.5 1739.2,1386.6 1736.6,1386.6 1736.6,1387.2 1734,1387.2 1734,1385.9 1731.4,1385.9 1731.4,1388.8 1728.8,1388.8 1728.8,1387.7 1726.2,1387.7 1726.2,1386 1723.6,1386 1723.6,1387.2 1721,1387.2 1721,1387.7 1718.4,1387.7 1718.4,1387.5 1715.8,1387.5 1715.8,1388.2 1713.2,1388.2 1713.2,1388.5 1710.6,1388.5 1710.6,1387.5 1708,1387.5 1708,1387.5 1705.4,1387.5 1705.4,1387.5 1702.8,1387.5 1702.8,1385.1 1700.2,1385.1 1700.2,1385.9 1697.6,1385.9 1697.6,1387.9 1695,1387.9 1695,1386 1692.4,1386 1692.4,1386.7 1689.8,1386.7 1689.8,1386 1687.2,1386 1687.2,1387.1 1684.6,1387.1 1684.6,1386.6 1682,1386.6 1682,1387.5 1679.4,1387.5 1679.4,1387.3 1676.8,1387.3 1676.8,1387.1 1674.2,1387.1 1674.2,1388.7 1671.6,1388.7 1671.6,1388.8 1669,1388.8 1669,1386.7 1666.4,1386.7 1666.4,1386.5 1663.8,1386.5 1663.8,1386.9 1661.2,1386.9 1661.2,1388.4 1658.6,1388.4 1658.6,1388.4 1656,1388.4 1656,1386.8 1653.4,1386.8 1653.4,1386.6 1650.8,1386.6 1650.8,1386.6 1648.2,1386.6 1648.2,1388.4 1645.6,1388.4 1645.6,1387.5 1643,1387.5 1643,1387.9 1640.4,1387.9 1640.4,1387.9 1637.8,1387.9 1637.8,1387 1635.2,1387 1635.2,1388.8 1632.6,1388.8 1632.6,1387.2 1630,1387.2 1630,1386.7 1627.4,1386.7 1627.4,1387.7 1624.8,1387.7 1624.8,1387.3 1622.2,1387.3 1622.2,1387.1 1619.6,1387.1 1619.6,1386.2 1617,1386.2 1617,1387.3 1614.4,1387.3 1614.4,1388 1611.8,1388 1611.8,1388.9 1609.2,1388.9 1609.2,1390.3 1606.6,1390.3 1606.6,1386.5 1604,1386.5 1604,1387.9 1601.4,1387.9 1601.4,1387.3 1598.8,1387.3 1598.8,1388.1 1596.2,1388.1 1596.2,1388.8 1593.6,1388.8 1593.6,1388.8 1591,1388.8 1591,1388.8 1588.4,1388.8 1588.4,1386.4 1585.8,1386.4 1585.8,1386.5 1583.2,1386.5 1583.2,1388.7 1580.6,1388.7 1580.6,1387.7 1578,1387.7 1578,1387.6 1575.4,1387.6 1575.4,1387.2 1572.8,1387.2 1572.8,1387 1570.2,1387 1570.2,1388 1567.6,1388 1567.6,1386.5 1565,1386.5 1565,1387.4 1562.4,1387.4 1562.4,1386.7 1559.8,1386.7 1559.8,1387.7 1557.2,1387.7 1557.2,1385.5 1554.6,1385.5 1554.6,1387.6 1552,1387.6 1552,1387.5 1549.4,1387.5 1549.4,1387.4 1546.8,1387.4 1546.8,1387.1 1544.2,1387.1 1544.2,1387.2 1541.6,1387.2 1541.6,1387.1 1539,1387.1 1539,1387.2 1536.4,1387.2 1536.4,1387.6 1533.8,1387.6 1533.8,1387.3 1531.2,1387.3 1531.2,1386.7 1528.6,1386.7 1528.6,1389.4 1526,1389.4 1526,1387.4 1523.4,1387.4 1523.4,1385.9 1520.8,1385.9 1520.8,1386 1518.2,1386 1518.2,1385.2 1515.6,1385.2 1515.6,1386.3 1513,1386.3 1513,1387.3 1510.4,1387.3 1510.4,1387.1 1507.8,1387.1 1507.8,1387.8 1505.2,1387.8 1505.2,1388 1502.6,1388 1502.6,1386.5 1500,1386.5 1500,1388 1497.4,1388 1497.4,1388.3 1494.8,1388.3 1494.8,1387.6 1492.2,1387.6 1492.2,1387.1 1489.6,1387.1 1489.6,1388.1 1487,1388.1 1487,1385.8 1484.4,1385.8 1484.4,1386.4 1481.8,1386.4 1481.8,1386.7 1479.2,1386.7 1479.2,1387.9 1476.6,1387.9 1476.6,1387.4 1474,1387.4 1474,1387.2 1471.4,1387.2 1471.4,1387.7 1468.8,1387.7 1468.8,1388.2 1466.2,1388.2 1466.2,1386.7 1463.6,1386.7 1463.6,1385.5 1461,1385.5 1461,1387.3 1458.4,1387.3 1458.4,1386.7 1455.8,1386.7 1455.8,1388.7 1453.2,1388.7 1453.2,1386.7 1450.6,1386.7 1450.6,1387 1448,1387 1448,1386.7 1445.4,1386.7 1445.4,1387.7 1442.8,1387.7 1442.8,1387.5 1440.2,1387.5 1440.2,1386.3 1437.6,1386.3 1437.6,1386.3 1435,1386.3 1435,1387.2 1432.4,1387.2 1432.4,1387.4 1429.8,1387.4 1429.8,1386.6 1427.2,1386.6 1427.2,1390.3 1424.6,1390.3 1424.6,1387.8 1422,1387.8 1422,1387.6 1419.4,1387.6 1419.4,1386.3 1416.8,1386.3 1416.8,1386.7 1414.2,1386.7 1414.2,1386.6 1411.6,1386.6 1411.6,1386.9 1409,1386.9 1409,1386.5 1406.4,1386.5 1406.4,1390.5 1403.8,1390.5 1403.8,1387 1401.2,1387 1401.2,1387 1398.6,1387 1398.6,1387.8 1396,1387.8 1396,1388 1393.4,1388 1393.4,1386.6 1390.8,1386.6 1390.8,1386.2 1388.2,1386.2 1388.2,1387.2 1385.6,1387.2 1385.6,1386.5 1383,1386.5 1383,1388.1 1380.4,1388.1 1380.4,1387.4 1377.8,1387.4 1377.8,1387 1375.2,1387 1375.2,1386.7 1372.6,1386.7 1372.6,1387.3 1370,1387.3 1370,1388.1 1367.4,1388.1 1367.4,1387.5 1364.8,1387.5 1364.8,1388.2 1362.2,1388.2 1362.2,1386.5 1359.6,1386.5 1359.6,1388.1 1357,1388.1 1357,1387.2 1354.4,1387.2 1354.4,1387.5 1351.8,1387.5 1351.8,1386.8 1349.2,1386.8 1349.2,1388.1 1346.6,1388.1 1346.6,1388.1 1344,1388.1 1344,1388 1341.4,1388 1341.4,1388.2 1338.8,1388.2 1338.8,1388.9 1336.2,1388.9 1336.2,1389.4 1333.6,1389.4 1333.6,1385.2 1331,1385.2 1331,1393.6 1328.4,1393.6 1328.4,1401.4 1325.8,1401.4 1325.8,1401.4 1323.2,1401.4 1323.2,1385.3 1320.6,1385.3 1320.6,1387.8 1318,1387.8 1318,1387.4 1315.4,1387.4 1315.4,1386.8 1312.8,1386.8 1312.8,1387.7 1310.2,1387.7 1310.2,1386.2 1307.6,1386.2 1307.6,1386.2 1305,1386.2 1305,1388.6 1302.4,1388.6 1302.4,1387 1299.8,1387 1299.8,1387.2 1297.2,1387.2 1297.2,1387.5 1294.6,1387.5 1294.6,1387.9 1292,1387.9 1292,1386.7 1289.4,1386.7 1289.4,1387.4 1286.8,1387.4 1286.8,1385.3 1284.2,1385.3 1284.2,1387 1281.6,1387 1281.6,1386.7 1279,1386.7 1279,1388.6 1276.4,1388.6 1276.4,1387.6 1273.8,1387.6 1273.8,1387 1271.2,1387 1271.2,1387.8 1268.6,1387.8 1268.6,1387.7 1266,1387.7 1266,1387.4 1263.4,1387.4 1263.4,1387.3 1260.8,1387.3 1260.8,1388.2 1258.2,1388.2 1258.2,1387.3 1255.6,1387.3 1255.6,1387.1 1253,1387.1 1253,1386.8 1250.4,1386.8 1250.4,1387.3 1247.8,1387.3 1247.8,1387.7 1245.2,1387.7 1245.2,1387.1 1242.6,1387.1 1242.6,1387.6 1240,1387.6 1240,1387.1 1237.4,1387.1 1237.4,1388.1 1234.8,1388.1 1234.8,1386.7 1232.2,1386.7 1232.2,1387.6 1229.6,1387.6 1229.6,1387.3 1227,1387.3 1227,1387.2 1224.4,1387.2 1224.4,1386 1221.8,1386 1221.8,1386.7 1219.2,1386.7 1219.2,1387 1216.6,1387 1216.6,1386.2 1214,1386.2 1214,1386.6 1211.4,1386.6 1211.4,1389.4 1208.8,1389.4 1208.8,1387.6 1206.2,1387.6 1206.2,1388.2 1203.6,1388.2 1203.6,1391.1 1201,1391.1 1201,1400.5 1198.4,1400.5 1198.4,1400.5 1195.8,1400.5 1195.8,1392.7 1193.2,1392.7 1193.2,1376.9 1190.6,1376.9 1190.6,1387.1 1188,1387.1 1188,1387.4 1185.4,1387.4 1185.4,1388.7 1182.8,1388.7 1182.8,1386.6 1180.2,1386.6 1180.2,1387.3 1177.6,1387.3 1177.6,1386.7 1175,1386.7 1175,1386.7 1172.4,1386.7 1172.4,1387.7 1169.8,1387.7 1169.8,1388.6 1167.2,1388.6 1167.2,1387.5 1164.6,1387.5 1164.6,1388.4 1162,1388.4 1162,1387.6 1159.4,1387.6 1159.4,1387 1156.8,1387 1156.8,1387 1154.2,1387 1154.2,1387 1151.6,1387 1151.6,1387.1 1149,1387.1 1149,1386.9 1146.4,1386.9 1146.4,1382.2 1143.8,1382.2 1143.8,1381.6 1141.2,1381.6 1141.2,1386.5 1138.6,1386.5 1138.6,1388.1 1136,1388.1 1136,1388.2 1133.4,1388.2 1133.4,1387.2 1130.8,1387.2 1130.8,1385.8 1128.2,1385.8 1128.2,1386.8 1125.6,1386.8 1125.6,1388.6 1123,1388.6 1123,1388.7 1120.4,1388.7 1120.4,1394.9 1117.8,1394.9 1117.8,1398.8 1115.2,1398.8 1115.2,1396.8 1112.6,1396.8 1112.6,1381.3 1110,1381.3 1110,1386 1107.4,1386 1107.4,1388.4 1104.8,1388.4 1104.8,1387.5 1102.2,1387.5 1102.2,1386.5 1099.6,1386.5 1099.6,1387.1 1097,1387.1 1097,1387.1 1094.4,1387.1 1094.4,1386.9 1091.8,1386.9 1091.8,1386.9 1089.2,1386.9 1089.2,1387.1 1086.6,1387.1 1086.6,1388.5 1084,1388.5 1084,1387.3 1081.4,1387.3 1081.4,1387.3 1078.8,1387.3 1078.8,1388.2 1076.2,1388.2 1076.2,1386.9 1073.6,1386.9 1073.6,1386.4 1071,1386.4 1071,1387.8 1068.4,1387.8 1068.4,1387.2 1065.8,1387.2 1065.8,1386.5 1063.2,1386.5 1063.2,1386.9 1060.6,1386.9 1060.6,1387.2 1058,1387.2 1058,1388.9 1055.4,1388.9 1055.4,1387.3 1052.8,1387.3 1052.8,1387.2 1050.2,1387.2 1050.2,1387.9 1047.6,1387.9 1047.6,1387.7 1045,1387.7 1045,1387.1 1042.4,1387.1 1042.4,1385.1 1039.8,1385.1 1039.8,1382.3 1037.2,1382.3 1037.2,1382.6 1034.6,1382.6 1034.6,1386.6 1032,1386.6 1032,1386.8 1029.4,1386.8 1029.4,1386.7 1026.8,1386.7 1026.8,1386.8 1024.2,1386.8 1024.2,1387 1021.6,1387 1021.6,1388.1 1019,1388.1 1019,1386.7 1016.4,1386.7 1016.4,1387.6 1013.8,1387.6 1013.8,1389.2 1011.2,1389.2 1011.2,1387.6 1008.6,1387.6 1008.6,1387.5 1006,1387.5 1006,1387.9 1003.4,1387.9 1003.4,1386.5 1000.8,1386.5 1000.8,1386.7 998.2,1386.7 998.2,1387.3 995.6,1387.3 995.6,1387.4 993,1387.4 993,1386.8 990.4,1386.8 990.4,1388.5 987.8,1388.5 987.8,1388.5 985.2,1388.5 985.2,1389 982.6,1389 982.6,1389 980,1389 980,1388.6 977.4,1388.6 977.4,1388.5 974.8,1388.5 974.8,1388.2 972.2,1388.2 972.2,1387.7 969.6,1387.7 969.6,1387.4 967,1387.4 967,1387.9 964.4,1387.9 964.4,1388.2 961.8,1388.2 961.8,1387.5 959.2,1387.5 959.2,1387.4 956.6,1387.4 956.6,1387.9 954,1387.9 954,1387.9 951.4,1387.9 951.4,1389.1 948.8,1389.1 948.8,1389.1 946.2,1389.1 946.2,1388 943.6,1388 943.6,1388 941,1388 941,1386.1 938.4,1386.1 938.4,1387.8 935.8,1387.8 935.8,1385.6 933.2,1385.6 933.2,1386.6 930.6,1386.6 930.6,1386.8 928,1386.8 928,1386.7 925.4,1386.7 925.4,1387 922.8,1387 922.8,1387.5 920.2,1387.5 920.2,1389.1 917.6,1389.1 917.6,1389.1 915,1389.1 915,1387.1 912.4,1387.1 912.4,1387.9 909.8,1387.9 909.8,1386.7 907.2,1386.7 907.2,1387.9 904.6,1387.9 904.6,1388.1 902,1388.1 902,1387.1 899.4,1387.1 899.4,1388.4 896.8,1388.4 896.8,1387.7 894.2,1387.7 894.2,1386.4 891.6,1386.4 891.6,1386.9 889,1386.9 889,1388.5 886.4,1388.5 886.4,1389.2 883.8,1389.2 883.8,1388.7 881.2,1388.7 881.2,1386.8 878.6,1386.8 878.6,1386 876,1386 876,1379.6 873.4,1379.6 873.4,1383.6 870.8,1383.6 870.8,1384.8 868.2,1384.8 868.2,1388.7 865.6,1388.7 865.6,1389.1 863,1389.1 863,1386.7 860.4,1386.7 860.4,1387.3 857.8,1387.3 857.8,1387 855.2,1387 855.2,1387.5 852.6,1387.5 852.6,1386.5 850,1386.5 850,1387.8 847.4,1387.8 847.4,1386.9 844.8,1386.9 844.8,1388.6 842.2,1388.6 842.2,1385.9 839.6,1385.9 839.6,1385.9 837,1385.9 837,1384.3 834.4,1384.3 834.4,1388 831.8,1388 831.8,1386.8 829.2,1386.8 829.2,1387.3 826.6,1387.3 826.6,1387.8 824,1387.8 824,1388.8 821.4,1388.8 821.4,1387.3 818.8,1387.3 818.8,1387.9 816.2,1387.9 816.2,1389 813.6,1389 813.6,1388.6 811,1388.6 811,1389.4 808.4,1389.4 808.4,1386.9 805.8,1386.9 805.8,1387.2 803.2,1387.2 803.2,1387.4 800.6,1387.4 800.6,1386.4 798,1386.4 798,1386.1 795.4,1386.1 795.4,1388.5 792.8,1388.5 792.8,1389.6 790.2,1389.6 790.2,1385.9 787.6,1385.9 787.6,1389.1 785,1389.1 785,1387.2 782.4,1387.2 782.4,1386.8 779.8,1386.8 779.8,1386.9 777.2,1386.9 777.2,1386.9 774.6,1386.9 774.6,1388.1 772,1388.1 772,1388.3 769.4,1388.3 769.4,1386.6 766.8,1386.6 766.8,1389.6 764.2,1389.6 764.2,1388.2 761.6,1388.2 761.6,1388.2 759,1388.2 759,1387.8 756.4,1387.8 756.4,1387.9 753.8,1387.9 753.8,1387.9 751.2,1387.9 751.2,1387.5 748.6,1387.5 748.6,1387.9 746,1387.9 746,1386 743.4,1386 743.4,1389.6 740.8,1389.6 740.8,1385.3 738.2,1385.3 738.2,1386.9 735.6,1386.9 735.6,1387 733,1387 733,1389.4 730.4,1389.4 730.4,1390.2 727.8,1390.2 727.8,1388.3 725.2,1388.3 725.2,1388 722.6,1388 722.6,1390.5 720,1390.5 720,1390.5 717.4,1390.5 717.4,1390.8 714.8,1390.8 714.8,1386.4 712.2,1386.4 712.2,1392.3 709.6,1392.3 709.6,1392.4 707,1392.4 707,1407.8 704.4,1407.8 704.4,1421.5 701.8,1421.5 701.8,1399.1 699.2,1399.1 699.2,1373.6 696.6,1373.6 696.6,1386.4 694,1386.4 694,1388.4 691.4,1388.4 691.4,1386.5 688.8,1386.5 688.8,1387.3 686.2,1387.3 686.2,1390 683.6,1390 683.6,1390.7 681,1390.7 681,1390.1 678.4,1390.1 678.4,1391.3 675.8,1391.3 675.8,1389.8 673.2,1389.8 673.2,1390.6 670.6,1390.6 670.6,1390.6 668,1390.6 668,1386.4 665.4,1386.4 665.4,1387.2 662.8,1387.2 662.8,1388.2 660.2,1388.2 660.2,1383.9 657.6,1383.9 657.6,1401.5 655,1401.5 655,1403.3 652.4,1403.3 652.4,1392.2 649.8,1392.2 649.8,1387.7 647.2,1387.7 647.2,1388.3 644.6,1388.3 644.6,1388.1 642,1388.1 642,1389.6 639.4,1389.6 639.4,1389.6 636.8,1389.6 636.8,1388.2 634.2,1388.2 634.2,1386.1 631.6,1386.1 631.6,1387.1 629,1387.1 629,1392.9 626.4,1392.9 626.4,1391.6 623.8,1391.6 623.8,1391.6 621.2,1391.6 621.2,1390.1 618.6,1390.1 618.6,1387.8 616,1387.8 616,1389.1 613.4,1389.1 613.4,1389.1 610.8,1389.1 610.8,1389.8 608.2,1389.8 608.2,1392.7 605.6,1392.7 605.6,1389.9 603,1389.9 603,1387.5 600.4,1387.5 600.4,1390.4 597.8,1390.4 597.8,1389.1 595.2,1389.1 595.2,1388.5 592.6,1388.5 592.6,1391.9 590,1391.9 590,1389.9 587.4,1389.9 587.4,1389.8 584.8,1389.8 584.8,1392.1 582.2,1392.1 582.2,1405.9 579.6,1405.9 579.6,1398.5 577,1398.5 577,1381.2 574.4,1381.2 574.4,1394.1 571.8,1394.1 571.8,1389.6 569.2,1389.6 569.2,1390.4 566.6,1390.4 566.6,1391.3 564,1391.3 564,1391.3 561.4,1391.3 561.4,1389.1 558.8,1389.1 558.8,1391.3 556.2,1391.3 556.2,1391 553.6,1391 553.6,1388.9 551,1388.9 551,1387.9 548.4,1387.9 548.4,1390.4 545.8,1390.4 545.8,1389.6 543.2,1389.6 543.2,1388.8 540.6,1388.8 540.6,1391 538,1391 538,1389.1 535.4,1389.1 535.4,1391.8 532.8,1391.8 532.8,1391.8 530.2,1391.8 530.2,1391.3 527.6,1391.3 527.6,1391.3 525,1391.3 525,1389.8 522.4,1389.8 522.4,1389.2 519.8,1389.2 519.8,1389.3 517.2,1389.3 517.2,1391.3 514.6,1391.3 514.6,1392.2 512,1392.2 512,1391.2 509.4,1391.2 509.4,1386.1 506.8,1386.1 506.8,1388.5 504.2,1388.5 504.2,1390 501.6,1390 501.6,1389.1 499,1389.1 499,1389.6 496.4,1389.6 496.4,1388.6 493.8,1388.6 493.8,1388.1 491.2,1388.1 491.2,1390.9 488.6,1390.9 488.6,1389 486,1389 486,1387.1 483.4,1387.1 483.4,1385.5 480.8,1385.5 480.8,1391.8 478.2,1391.8 478.2,1391.8 475.6,1391.8 475.6,1388.8 473,1388.8 473,1395.1 470.4,1395.1 470.4,1389.7 467.8,1389.7 467.8,1388.5 465.2,1388.5 465.2,1384.3 462.6,1384.3 462.6,1397.7 460,1397.7 460,1397.7 457.4,1397.7 457.4,1389.3 454.8,1389.3 454.8,1389.3 452.2,1389.3 452.2,1380.6 449.6,1380.6 449.6,1376 447,1376 447,1383.8 444.4,1383.8 444.4,1391.7 441.8,1391.7 441.8,1390.5 439.2,1390.5 439.2,1388.7 436.6,1388.7 436.6,1385.2 434,1385.2 434,1389.4 431.4,1389.4 431.4,1384.4 428.8,1384.4 428.8,1385.3 426.2,1385.3 426.2,1388.5 423.6,1388.5 423.6,1391 421,1391 421,1389.5 418.4,1389.5 418.4,1389.1 415.8,1389.1 415.8,1385.7 413.2,1385.7 413.2,1388.4 410.6,1388.4 410.6,1386.9 408,1386.9 408,1389.5 405.4,1389.5 405.4,1392.2 402.8,1392.2 402.8,1391.5 400.2,1391.5 400.2,1386.7 397.6,1386.7 397.6,1386.6 395,1386.6 395,1385.4 392.4,1385.4 392.4,1391.2 389.8,1391.2 389.8,1387.4 387.2,1387.4 387.2,1382.9 384.6,1382.9 384.6,1386.2 382,1386.2 382,1382.6 379.4,1382.6 379.4,1390.3 376.8,1390.3 376.8,1386.8 374.2,1386.8 374.2,1385.9 371.6,1385.9 371.6,1380.4 369,1380.4 369,1385.5 366.4,1385.5 366.4,1387 363.8,1387 363.8,1382.8 361.2,1382.8 361.2,1386.3 358.6,1386.3 358.6,1391.3 356,1391.3 356,1387.7 353.4,1387.7 353.4,1387.7 350.8,1387.7 350.8,1380.4 348.2,1380.4 348.2,1382.2 345.6,1382.2" fill="#000" stroke="#000" stroke-width="3.8" stroke-linejoin="round"/>
<!-- frame -->
<rect x="345.6" y="56.6" width="1833" height="1477" fill="none" stroke="#000" stroke-width="5"/>
<path d="M345.6 1533.6v-30M345.6 56.6v30M460.2 1533.6v-18M460.2 56.6v18M574.7 1533.6v-30M574.7 56.6v30M689.3 1533.6v-18M689.3 56.6v18M803.9 1533.6v-30M803.9 56.6v30M918.4 1533.6v-18M918.4 56.6v18M1033 1533.6v-30M1033 56.6v30M1147.5 1533.6v-18M1147.5 56.6v18M1262.1 1533.6v-30M1262.1 56.6v30M1376.7 1533.6v-18M1376.7 56.6v18M1491.2 1533.6v-30M1491.2 56.6v30M1605.8 1533.6v-18M1605.8 56.6v18M1720.3 1533.6v-30M1720.3 56.6v30M1834.9 1533.6v-18M1834.9 56.6v18M1949.5 1533.6v-30M1949.5 56.6v30M2064 1533.6v-18M2064 56.6v18M2178.6 1533.6v-30M2178.6 56.6v30M345.6 1533.5h30M2178.6 1533.5h-30M345.6 1348.9h18M2178.6 1348.9h-18M345.6 1164.3h30M2178.6 1164.3h-30M345.6 979.7h18M2178.6 979.7h-18M345.6 795h30M2178.6 795h-30M345.6 610.4h18M2178.6 610.4h-18M345.6 425.8h30M2178.6 425.8h-30M345.6 241.2h18M2178.6 241.2h-18M345.6 56.5h30M2178.6 56.5h-30" stroke="#000" stroke-width="4.5" fill="none"/>
<!-- y tick labels -->
<g font-size="62" text-anchor="end" class="e05">
<text transform="translate(313,74.5) scale(1,1.05)">3000</text>
<text transform="translate(313,443.5) scale(1,1.05)">2000</text>
<text transform="translate(313,812.5) scale(1,1.05)">1000</text>
<text transform="translate(313,1182) scale(1,1.05)">0</text>
<text transform="translate(313,1551.5) scale(1,1.05)">-1000</text>
</g>
<g font-size="62" text-anchor="middle" class="e05">
<text transform="translate(345.6,1614.5) scale(1,1.07)">20</text>
<text transform="translate(574.7,1614.5) scale(1,1.07)">30</text>
<text transform="translate(803.9,1614.5) scale(1,1.07)">40</text>
<text transform="translate(1033.0,1614.5) scale(1,1.07)">50</text>
<text transform="translate(1262.1,1614.5) scale(1,1.07)">60</text>
<text transform="translate(1491.2,1614.5) scale(1,1.07)">70</text>
<text transform="translate(1720.3,1614.5) scale(1,1.07)">80</text>
<text transform="translate(1949.5,1614.5) scale(1,1.07)">90</text>
<text transform="translate(2178.6,1614.5) scale(1,1.07)">100</text>
</g>
<text class="e15" transform="translate(100.5,769) rotate(-90) scale(1,1.05)" font-size="77.6" text-anchor="middle">Intensity, a.u.</text>
<text class="e1" x="1283" y="1751" font-size="79.5" text-anchor="middle">2<tspan class="serif">θ</tspan> Cu K<tspan class="serif">α</tspan>, deg.</text>
<text class="serif" x="467" y="208" font-size="80">(a)</text>
<!-- legend -->
<rect x="1399.6" y="113.8" width="726.4" height="388.9" fill="none" stroke="#2a2a2a" stroke-width="2.5"/>
<circle cx="1493.8" cy="166.7" r="8" fill="none" stroke="#1a1a1a" stroke-width="2"/>
<path d="M1407.5 260.4H1582.6" stroke="#d41c1c" stroke-width="3"/>
<path d="M1407.5 354.5H1582.6" stroke="#000" stroke-width="3"/>
<path d="M1493.8 434V468" stroke="#1c1c68" stroke-width="3"/>
<g font-size="76" class="e1">
<text x="1601" y="192.5" textLength="175" lengthAdjust="spacing">Yobs</text>
<text x="1602" y="286" textLength="190" lengthAdjust="spacing">Ycalc</text>
<text x="1602" y="381" textLength="392" lengthAdjust="spacing">Yobs-Ycalc</text>
<text x="1601" y="476.5" textLength="512" lengthAdjust="spacing">Bragg_position</text>
</g>
<g class="serif" font-size="38" fill="#444">
<text class="serif" x="2196" y="1270.5" style="fill:#4a4a4a">– FeCr<tspan font-size="17" dy="3">2</tspan><tspan dy="-3">O</tspan><tspan font-size="17" dy="3">4</tspan></text>
<text class="serif" x="2200" y="1324.2" style="fill:#4a4a4a">– Cr<tspan font-size="17" dy="3">2</tspan><tspan dy="-3">O</tspan><tspan font-size="17" dy="3">3</tspan></text>
</g>
</g>

<!-- ================= Panel (b) ================= -->
<g id="panelB">
<ellipse cx="1330" cy="2680" rx="130" ry="110" fill="url(#cen)"/>
<circle cx="1362" cy="2719.5" r="129.5" class="dc"/>
<circle cx="1362" cy="2719.5" r="388.5" class="dc"/>
<circle cx="1362" cy="2719.5" r="647.5" class="dc"/>
<path d="M1429 2469.3L1563.1 1969M1545.1 2536.4L1911.4 2170.1M1612.2 2652.5L2112.5 2518.4M1612.2 2786.5L2112.5 2920.6M1545.1 2902.6L1911.4 3268.9M1429 2969.7L1563.1 3470M1295 2969.7L1160.9 3470M1178.9 2902.6L812.6 3268.9M1111.8 2786.5L611.5 2920.6M1111.8 2652.5L611.5 2518.4M1178.9 2536.4L812.6 2170.1M1295 2469.3L1160.9 1969" class="dl"/>
<!-- spots -->
<g filter="url(#bl)">
<ellipse cx="1416" cy="2167" rx="17" ry="44" fill="#ffffc0" opacity="0.4"/>
<ellipse cx="1416" cy="2167" rx="11.5" ry="37" fill="#ffff10"/>
<ellipse cx="1416" cy="2177" rx="8" ry="21" fill="#ffa000"/>
<ellipse cx="1415.5" cy="2177" rx="6" ry="17.5" fill="#e81800"/>
<ellipse cx="1414.8" cy="2177" rx="4" ry="14" fill="#600000"/>
<ellipse cx="1414.3" cy="2177" rx="2.6" ry="12" fill="#000"/>

<ellipse cx="816" cy="2717" rx="58" ry="24" fill="#ffffc0" opacity="0.4"/>
<ellipse cx="816" cy="2717.5" rx="48" ry="17" fill="#ffff10"/>
<ellipse cx="813" cy="2716" rx="33" ry="12" fill="#ffa000"/>
<ellipse cx="814" cy="2714.5" rx="28" ry="8.5" fill="#e81800"/>
<ellipse cx="816" cy="2713.5" rx="25" ry="6.2" fill="#600000"/>
<ellipse cx="816.5" cy="2713.2" rx="22.5" ry="4.6" fill="#000"/>

<ellipse cx="1969" cy="2777" rx="46" ry="20" fill="#ffffc0" opacity="0.4"/>
<ellipse cx="1969" cy="2777" rx="37" ry="13.5" fill="#ffff10"/>
<ellipse cx="1971" cy="2776" rx="31" ry="9.5" fill="#ffa000"/>
<ellipse cx="1971" cy="2775.5" rx="27" ry="7" fill="#e81800"/>
<ellipse cx="1971" cy="2775.2" rx="24.5" ry="5.2" fill="#600000"/>
<ellipse cx="1971.2" cy="2775" rx="22.5" ry="4" fill="#000"/>

<ellipse cx="1355" cy="3327" rx="17" ry="44" fill="#ffffc0" opacity="0.4"/>
<ellipse cx="1355" cy="3327" rx="11.5" ry="36" fill="#ffff10"/>
<ellipse cx="1355" cy="3332" rx="8" ry="28" fill="#ffa000"/>
<ellipse cx="1355" cy="3334" rx="6.2" ry="21" fill="#e81800"/>
<ellipse cx="1355" cy="3337" rx="4.8" ry="12" fill="#600000"/>
<ellipse cx="1354.8" cy="3338" rx="3.6" ry="8" fill="#000"/>
</g>
<path d="M1362 2590L1362 1942.5M1426.8 2607.3L1750.5 2046.6M1474.2 2654.8L2034.9 2331M1491.5 2719.5L2139 2719.5M1474.2 2784.2L2034.9 3108M1426.8 2831.7L1750.5 3392.4M1362 2849L1362 3496.5M1297.2 2831.7L973.5 3392.4M1249.8 2784.2L689.1 3108M1232.5 2719.5L585 2719.5M1249.8 2654.8L689.1 2331M1297.2 2607.3L973.5 2046.6" class="sl"/><circle cx="1362" cy="2719.5" r="259" class="sc"/><circle cx="1362" cy="2719.5" r="518" class="sc"/>
<circle cx="1362" cy="2719.5" r="777" fill="none" stroke="#151515" stroke-width="3.6"/>
<path d="M430 1943V3497M430 1943h-29M430 2072.5h-16M430 2202h-29M430 2331.5h-16M430 2461h-29M430 2590.5h-16M430 2720h-29M430 2849.5h-16M430 2979h-29M430 3108.5h-16M430 3238h-29M430 3367.5h-16M430 3497h-29" stroke="#000" stroke-width="3.6" fill="none"/>
<g font-size="66" text-anchor="middle" class="e1">
<text transform="translate(1361.3,1897.9) scale(1,1.05)">0</text>
<text transform="translate(1802.7,2004.6) scale(1,1.05)">30</text>
<text transform="translate(903.5,2004) scale(1,1.05)">330</text>
<text transform="translate(2098.4,2302.9) scale(1,1.05)">60</text>
<text transform="translate(608.4,2302.5) scale(1,1.05)">300</text>
<text transform="translate(2206.4,2742) scale(1,1.05)">90</text>
<text transform="translate(498.8,2741) scale(1,1.05)">270</text>
<text transform="translate(2118,3183) scale(1,1.05)">120</text>
<text transform="translate(608.2,3183.9) scale(1,1.05)">240</text>
<text transform="translate(1821.6,3478) scale(1,1.05)">150</text>
<text transform="translate(903.3,3479.7) scale(1,1.05)">210</text>
<text transform="translate(1363,3586) scale(1,1.05)">180</text>
</g>
<g font-size="66" text-anchor="end" transform="translate(0.5,0)" class="e1">
<text transform="translate(378,1962) scale(0.96,1.05)">60</text>
<text transform="translate(378,2223) scale(0.96,1.05)">40</text>
<text transform="translate(378,2483) scale(0.96,1.05)">20</text>
<text transform="translate(378,2741) scale(0.96,1.05)">0</text>
<text transform="translate(378,2999.5) scale(0.96,1.05)">20</text>
<text transform="translate(378,3258) scale(0.96,1.05)">40</text>
<text transform="translate(378,3518.5) scale(0.96,1.05)">60</text>
</g>
<text class="e15" x="547.4 579.4 635" y="1938" font-size="93">(b)</text>
<text class="e15" transform="translate(236,2699) rotate(-90)" font-size="94" text-anchor="middle"><tspan class="serif">χ</tspan> (degrees)</text>
<text class="e15" x="1360.5" y="3699.7" font-size="94" text-anchor="middle"><tspan class="serif">φ</tspan> (degrees)</text>
</g>
</svg>
</body></html>
